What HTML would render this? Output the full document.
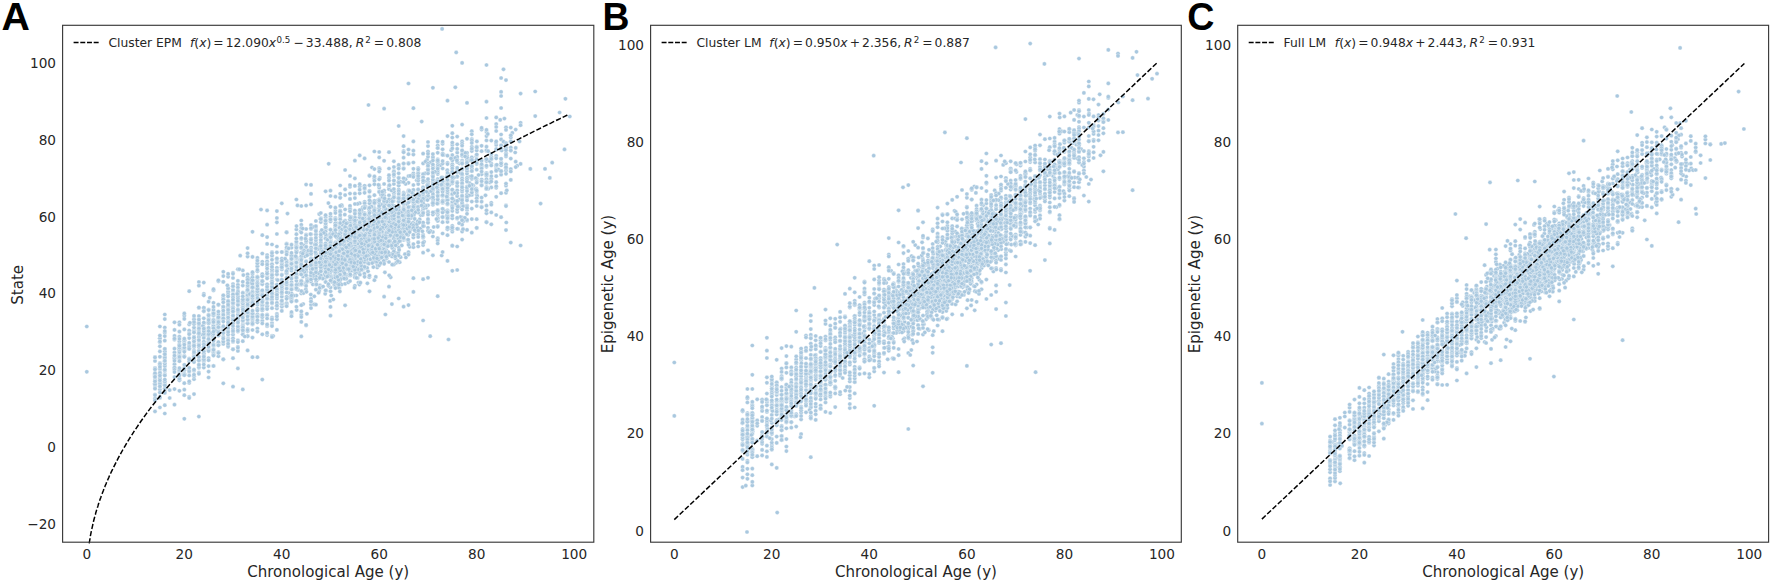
<!DOCTYPE html>
<html lang="en"><head><meta charset="utf-8"><title>Epigenetic age vs chronological age</title>
<style>
html,body{margin:0;padding:0;background:#fff}
body{width:1772px;height:583px;overflow:hidden}
svg{display:block}
.t{font-family:"DejaVu Sans","Liberation Sans",sans-serif;fill:#262626}
.tick{font-size:13.65px}
.lab{font-size:15.05px}
.leg{font-size:12.3px}
.m{word-spacing:-1.8px}
.i{font-style:oblique}
.sup{font-size:8.7px}
.pl{font-family:"Liberation Sans",Arial,Helvetica,sans-serif;font-weight:bold;font-size:39.3px;fill:#000}
.fr{fill:none;stroke:#3a3a3a;stroke-width:1.15}
.ln{fill:none;stroke:#000;stroke-width:1.5;stroke-dasharray:5.2 2.12}
.ll{fill:none;stroke:#000;stroke-width:1.45;stroke-dasharray:4.95 1.75}
.pts{fill:none;stroke:none;marker-start:url(#d);marker-mid:url(#d);marker-end:url(#d)}
</style></head><body>
<svg width="1772" height="583" viewBox="0 0 1772 583">
<defs><marker id="d" markerUnits="userSpaceOnUse" markerWidth="6" markerHeight="6" refX="3" refY="3" orient="0"><circle cx="3" cy="3" r="2.1" fill="#a9c8df" stroke="#fff" stroke-width="0.35"/></marker></defs>
<rect width="1772" height="583" fill="#fff"/>
<g id="panel-A">
<polyline class="pts" points="218.4,356.2 393.7,224 350,244.4 466.7,196.5 218.4,317.9 267.1,326.2 233,295.9 363,253.3 184.3,315.7 286.6,286.1 325.6,269.8 189.2,358.5 467,220.7 515.7,129.6 306.9,278.1 164.8,384.9 203.8,356.9 159.9,338.3 364.6,247.3 339.6,272.9 510.8,141.7 342.3,243.6 233,291 376.4,263 396.3,213.8 476.7,219.2 208.6,331.8 447.3,170.2 506,127.3 358,238.5 356.2,220.3 257.4,299.6 325.6,222.1 369.5,190.8 262.3,284.3 350,242.5 366.1,231.1 315.9,242.4 194,370.8 159.9,374 349.2,259.7 364.2,249.1 272,292.2 291.5,258.2 388.5,244.9 332.4,233.6 389,187.2 423.1,208 223.3,306.5 316.2,254.2 311,298.9 331.4,276.3 223.3,319.2 393.9,216 348.9,252.1 184.3,340.5 384.1,198.4 359.8,253.7 359.7,231 281.8,306.8 320.8,254.9 380.3,235.4 296.7,310 476.7,160.4 496.2,166.7 384.6,244.4 471.8,171.2 379.2,207.2 306.1,239.5 378.5,257.6 262.3,292.1 301.3,220.5 355,275.1 467,205.5 252.5,296.2 393.9,172.5 330.3,243.7 360.8,269.4 366.6,262.5 437.7,179.2 506,144.6 310.2,253.9 432.9,198 213.5,352.3 159.9,389.6 423.1,209.1 389,178 296.4,245.3 209.8,297.8 442.6,190.2 358.3,231.8 333.8,269.6 223.3,308.3 515.2,152.5 335.4,227.4 159.9,377.6 361.7,221.1 257.4,295 374.4,178.6 446.3,200.1 174.5,339.7 501.1,139.4 252.5,299.9 365.8,258.6 376.9,243 276.9,329.9 336.5,235.1 398.7,298.5 189.2,348.5 320.8,252.6 247.6,331.3 306.1,268.2 315.9,248.3 467,209.9 344.4,234.7 462.1,141.4 428,191 428,211.5 330.5,245.7 198.9,416.6 385.7,204.1 228.1,312 476.7,148 374.4,250.9 247.6,290.2 386.8,218.8 198.9,322 383.2,226 467.5,171.4 432.9,255.3 194,344.7 396.8,253.2 272,301.9 342.6,244.3 374.4,209 423.1,188.5 324.4,274.3 390.7,277.3 159.9,383.4 355.7,231.7 360.3,243.3 406.1,226.4 164.8,356.8 306.1,246.3 471.8,201.6 340.2,197.5 311,263.4 328,254.9 296.4,260.6 306.1,229 340.2,245.6 213.5,313 184.3,350.4 184.3,389.7 179.4,322.3 272,255.9 276.9,267.8 358.3,259.7 155,377.1 408.5,192.6 467,171.1 418.2,198.4 347.2,252 334.5,246 384.1,230.5 179.4,371.6 242.8,341.2 194,322.1 447.5,180.8 376.6,239.3 359.7,241.2 155,383.2 450.7,228.2 341.6,245.1 247.6,298.5 337.1,255.3 452.3,270.8 360.7,263.2 330.5,287.5 364.4,221.5 272,286.7 428,220.4 361.9,266.6 267.1,266.2 306.1,271.7 348.9,237.1 332.6,255.4 218.4,352.6 389,228.7 350,231.4 247.6,279.5 376.8,200.9 413.4,205.9 252.5,281.6 218.4,319 340.7,256.7 398.7,185.5 304.1,284.3 469.7,183 184.3,373.5 351.6,248.1 481.6,197.6 393.9,249.2 174.5,368.2 426,207.8 452.3,194.5 341.6,255 330.5,267.3 432.9,171.9 369.8,239.9 447.5,198.7 408.5,209.1 374.1,217.6 301.3,262.1 315.9,249.9 463.1,221.4 403.6,218 457.2,152.7 356,254.5 296.4,265.5 315.9,271.7 286.6,265.9 291.5,270.7 360.4,217.1 267.1,305.3 233,318.4 428,171.3 423.9,226.2 233,315.2 360.1,243 506,192.8 364.6,214.6 155,384 374.4,214 336.2,223 409.6,228.2 403.6,195.6 423.1,182.3 397.7,221.7 347.9,257.6 351.8,222.6 247.6,296.1 355.5,239.6 370.2,246 393.9,196.5 286.6,249.6 228.1,310.5 425.1,173.4 338.3,283.3 208.6,318.7 194,355.4 370.7,217.6 247.6,299 452.3,227.5 315.9,262.8 340.2,277.2 218.4,330 296.4,301.2 345.1,224.8 203.8,327.6 378.2,256.1 365.7,232.5 369.5,221.1 164.8,370.3 452.3,159.7 442.6,185.1 420.4,197.2 355.6,240.4 415,210.5 452.3,176.7 291.5,285.4 340.2,234.3 376.8,230.9 333.1,257 242.8,304.9 462.1,189.3 496.2,117.4 403.6,207.1 335.4,217.9 369.3,277.2 379.2,205.6 208.6,331.9 303.9,245.3 359.7,193.3 403.6,192.7 390.4,226.6 262.3,314.8 335.4,259.1 409.7,207 333.1,253.7 452.3,218.3 228.1,308.7 223.3,329.1 459.5,206.7 357.9,266.5 384.1,242.2 335.6,254.9 413.4,202.7 208.6,309.5 233,310.5 328.8,258.7 184.3,349.7 301.2,265.6 408.4,209.1 325.6,217.6 218.4,322.2 179.4,379.4 311,304.8 369.5,233.9 301.3,272.3 383.5,203.4 400.3,228.4 467,159.7 462.1,160.6 324.6,257.4 345.4,275.4 340.2,260.8 520.6,163.9 462.1,204.7 430.5,162.3 380.2,218.8 374.4,214.7 350,265.4 223.3,340.9 382.4,218.8 315.9,258.9 423.1,192.7 228.1,310.9 345.1,228.7 242.8,300.4 296.4,274 339.9,282.2 247.6,291.8 223.3,316.1 386.3,250 369.5,246.1 442.6,202.9 384.8,261.1 352.4,251 398.7,262.1 423.1,174.2 365.5,257.6 373.1,216.8 504.4,118.6 364.6,224.5 342.1,258.8 346.4,248 382.5,228.4 437.7,198.7 447.5,210.3 374.9,244.7 325.6,238.8 408.5,182.8 369.5,196.6 311,252.9 423.1,320.5 257.4,291.1 372.8,244.5 384.8,229.2 296.4,199.5 341.2,233.4 405.6,217.3 384.1,206.9 452.3,231.7 362.1,269.8 471.8,189.7 359.7,203.2 247.6,314.3 242.8,317.2 390.6,242 346.8,258.2 403.6,229.1 437.7,166 382.4,252 286.6,288.7 405,254.2 350,223.4 198.9,339.9 363.9,258 372.2,217 313.6,259.6 369.5,258.4 510.8,150.6 462.1,155.3 354.1,257.4 432.9,182.5 447.5,184.5 353.1,243.2 372.7,260.5 340.2,249.6 311,229 382.8,230.2 345.1,277.1 389,168.5 395.3,233.3 457.2,218.7 473.3,185.4 291.5,285.7 506,185.7 159.9,326.5 301.3,266.2 223.3,336.9 481.6,184.8 325.8,253.1 213.5,312.7 247.6,300.7 189.2,345.1 471.8,208.6 354.9,217.3 362.6,250.8 262.3,300.2 403.6,214.3 359.7,262.1 213.5,327.4 262.3,291.5 218.4,343.9 194,336.7 369.4,249.1 403.2,221.4 313.1,278.2 325.6,229.3 379.2,191.4 311,274.3 375.5,239.6 311,242.5 382.2,255.7 388.9,218.4 428,205.3 397.7,230.2 350.8,231.6 369.6,248.9 247.6,274.3 380.5,240.9 392.6,248.4 389,286.7 354.9,244.4 501.1,165.2 345.1,305.3 491.3,157.4 334.9,265 179.4,370.6 443.7,154.9 506,148.2 311,241.7 340.2,225.1 364.6,268.3 462.1,239.6 228.1,292.6 371.7,249.5 353.1,248.6 491.3,179 380.3,238.6 348.5,274.7 301.3,284.7 338.8,246.2 418.2,168.2 379.2,227.1 276.9,289.1 346.9,249.2 339.4,288.1 184.3,355.8 198.9,330.5 340.2,245.8 374.4,215.8 311,242.1 332.5,281.1 286.6,260.8 428,198.5 335.5,283.7 486.5,183.1 198.9,282 437.7,226.1 331.7,278.5 393.9,193.6 345.1,238.2 389,189.2 358.3,250.5 286.6,303.7 384.1,202.9 301.3,336.4 159.9,342.3 330.5,272.2 311,272.3 257.4,279.7 359.7,216.9 362.7,228.9 174.5,364.2 366.9,237 237.9,269.3 427.6,197.2 164.8,405.2 315.9,245.8 389.5,231.2 389,203.5 401,211.2 361.2,212.9 420.9,215.2 228.1,309 510.8,242.6 369.5,208 329.3,268 351.2,245.9 367.5,249.2 374.4,233.2 330.6,262.2 350,208.2 267.1,314.7 442.6,209.1 350,219.2 350.5,256.7 390.8,229.5 364.6,189.1 327.2,264.7 301.3,271.8 370.4,243.5 228.1,323.6 379.2,235.6 164.8,351.1 242.8,319.8 306.1,248.5 179.4,336.7 247.6,315 242.8,324 423.1,187.5 228.1,305.2 382.7,255.9 377.2,267.5 403.6,224.7 374.8,231.2 311,259.1 276.9,313.8 366.8,267.8 189.2,338.1 376.2,245.2 384.7,232.1 330.5,221.4 354.9,160.7 267.1,262.1 164.8,327.5 384.1,247.3 325.6,220.3 355.7,267.4 457.2,204.9 291.5,297.2 404.5,222.7 382.7,248.6 361.8,211.5 301.3,283.1 393.9,235.4 418.2,189.6 387.9,223.2 374.7,251.4 432.9,203.7 320.8,275.9 198.9,321 362.3,253.6 247.6,302 496.2,169.3 383.5,199 345.1,269.9 342.4,224.9 272,264.2 373,247 203.8,336.1 367,219.9 409.5,222.4 276.9,262.6 367.4,283.3 276.9,287.9 360.7,254.5 344.6,238.9 354.9,223.2 432.9,166.7 276.9,234 356.6,261.3 413.4,217.2 442.6,196.5 344.5,267.3 398.7,218.7 311,251.7 384.1,219 486.5,132 228.1,301.6 418.2,178.6 362.9,237.4 237.9,302.6 476.7,178.6 377.2,233.1 301.3,314.9 344.4,254.5 365.5,206.6 311,301.6 362.5,258.5 340.4,256.5 354.9,238 476.3,156.5 330.5,291.3 352.8,259.6 400.6,229.1 276.9,292.7 403.6,168.3 247.6,312.6 393.9,171.1 228.1,338.7 342.6,238.9 486.5,166.8 428,152 402.4,199.2 485.5,195.3 208.6,339.5 338.1,244.8 233,342 457.2,195.9 351.6,245.6 374.4,226 291.5,288.1 442.6,153.6 247.6,293.2 372.5,235.2 301.3,243.6 286.6,251.4 408.5,252.2 212.1,335.4 330.5,235.4 365.1,248.6 406.4,215.8 447.5,217.8 350,260.1 267.1,276.9 344.6,253.1 426.8,181.2 247.6,256.6 389.7,201 389,262 405.9,257.5 496.2,124 291.5,313.8 357.5,203.9 345.1,246.8 341,251.4 301.3,283.7 381,216.3 359.1,248.4 471.8,168.4 228.1,276.8 437.7,184.8 459.4,163.3 339.5,227.8 496.2,187.8 344,269.4 342.7,267.4 496.2,186.2 327.9,266.8 369.5,224 326.2,290.6 286.6,262.6 471.8,189.9 341.6,252.1 476.7,194.7 408.5,230.2 424,196.2 385.3,252.2 233,322.2 393.4,245.5 476.2,188.5 374,243 385.3,252.2 252.5,298.3 164.8,380.9 358.6,243.5 387.8,224.8 345.1,240.3 399,219.9 228.1,291.7 418.2,230.8 257.4,289.1 408.5,198.6 396.2,262.8 380.4,230.8 377.3,248.9 330.1,300.9 359.8,243.5 311,281.7 462.1,163.4 281.8,252 373.4,233.7 393.6,201.1 262.3,294.3 296.4,270.8 368.9,230.4 194,379.2 303,276.6 471.3,158.5 379.7,235.6 467,186.7 325.8,260.4 496.2,145 384.1,192.3 233,311.8 410.8,218.1 418.2,175.6 356.9,249.9 406.7,215.7 237.9,312.8 378.8,259.3 428,151.7 353,239.3 373.1,226.6 358.5,282.6 393.9,264.6 470.4,160.5 365.6,229.6 208.6,377.5 326.2,245.4 379.2,228.6 452.3,245.9 376.2,237.8 330.8,259.8 237.9,294.4 462.1,143.6 398.7,126 305.9,289.3 462.1,217.5 369.5,207.4 296.4,270.1 228.1,326.4 242.8,285.6 340.6,245.6 393.1,216.4 374.4,248.3 354.9,178.4 396.4,212.2 398.7,198.5 335.9,287 349.4,246.4 486.5,151 340.2,250.9 368.5,254.8 361.5,244.9 324.2,252.4 355.1,266.3 247.6,294.8 340.2,246.4 389.2,275.3 237.9,284.8 491.3,178.8 437.7,214.4 346.8,244.5 350,198.9 363.1,234.1 388.6,222.1 374.4,234.1 481.6,151.2 359.6,251.8 409.8,228.6 174.5,329.9 423.1,237.7 320.8,257.9 341.3,251 237.9,341 345.1,241.1 340.2,250.3 247.6,301.6 286.6,273.4 316.5,256.2 281.8,262.1 237.9,340.4 242.8,325.4 437.7,238.1 335.4,249.3 237.9,298.4 272,276.2 364.1,229 203.8,354 306.1,255.1 437.7,210.2 360.4,248.4 481.6,165.7 350,221.5 442.6,216.6 442.6,168.5 374.4,210.5 291.5,298.9 317.7,247.3 338,241.6 315.9,273.1 379.2,225.3 362.8,207.3 359.2,252.5 237.9,287.6 311,193.9 369.5,227.8 350,219.4 281.8,280.3 378.2,252.7 311,262.9 335.4,261.2 369.5,246.8 403.6,210.3 362.4,268.3 365.6,242.3 368.1,231.6 363.4,256.6 476.7,160.2 334.5,285.5 276.9,279.5 203.8,353.4 281.8,296.7 213.5,324.9 164.8,374.2 252.5,314.4 198.9,360.8 213.5,326.1 325.6,282 324.5,266.8 184.3,395.2 321.1,269.4 409.7,246.8 377.5,232.2 379.2,211.2 358.5,254.2 452.3,164.2 198.9,307.9 347.3,246.7 462.1,169.8 164.8,332.7 496.2,155.9 228.1,307.1 408.5,207.8 442.6,202.4 291.5,266.3 319.2,265.3 247.6,300.7 296.4,263.4 328.4,203.1 198.9,329 281.8,283.1 286.6,288.6 364.1,261.6 286.6,303.4 208.6,301.7 432.9,203.1 364.6,241 320.8,222.1 247.6,291.5 291.5,297.1 250.3,279.4 406.8,203.9 476.7,164.1 496.2,182.2 281.8,281.8 320.8,249.7 298.1,289.9 412.1,196.6 415,205.8 403.9,197.1 228.1,325.3 491.3,156.8 218.4,316.2 409,232.4 350,256.4 311,225.1 315.9,227.7 345.1,246.5 491.3,159.4 389,236.7 364.6,201.8 315.9,233.7 471.8,157.3 350.4,233.5 338,262 247.6,302.2 442.6,200.6 413.4,190.9 399.4,236.9 208.6,342.9 218.4,344.7 198.9,326.1 281.8,274.6 410.4,200 407.8,229.7 262.3,305.2 340.8,250.7 398.4,222.5 223.3,359.4 374.4,221.7 389,230.1 342.1,206 267.1,325.4 276.9,288.4 184.3,348.4 335.4,223.6 437.7,226.8 155,398.4 330.5,257 370.4,226.2 332.1,281.9 354.4,239.5 384.1,205.7 373.8,245 291.5,312 343.2,241.7 391.1,224.6 257.4,309.2 164.8,381 311,275.9 358.3,272.4 325.6,231.6 369.4,207.8 452.3,229.3 164.8,363 501.1,134.5 388.2,226.6 291.5,275.6 320.8,271.5 359.8,261.3 351.4,264.5 303.6,251 369.5,218.5 194,322.3 297.5,205.4 233,278 242.8,325.7 292.6,257.4 413.4,201.2 347.5,245.2 306.1,272 471.8,149.8 398.7,206 325.6,244.2 442.6,185.6 301.3,293.5 381.6,249.8 335.5,286.2 346.8,231 174.5,389.1 311,259.9 316,234.6 328.7,163.8 364.6,253.8 356.8,228.8 348.5,243.7 462.1,151.1 218.4,305.1 242.8,314.6 374.4,253.5 356.1,246.7 428,181.8 257.4,292.9 208.6,366.1 375.8,218.5 369,215.2 306.1,251.2 358.6,246.2 435.4,212 336.7,244.3 354.9,204 384.1,210.5 311,259.9 237.9,314.8 233,295 332.6,261.3 369.8,247.9 424.6,199.7 155,361 345.1,226.5 379.2,219.8 369.5,191.7 297.6,284.1 385.4,247.2 355.1,272.4 223.3,307 354,233 257.4,316.7 378.7,218.4 364.2,220.8 286.6,284.4 501.1,145.3 335.4,242.3 393.9,196.9 301.3,274.1 481.6,129.6 350,251.1 350,245.7 413.4,173.3 411.5,228.9 345.8,264.4 306.1,283.2 355.8,252.8 382.3,221.7 313.3,264.7 414.1,203.8 437.7,167.2 335.4,263.6 374.4,222.7 380.5,239.7 359.7,229.5 179.4,324.7 395.2,234.6 276.9,294.5 159.9,397.2 179.4,380.3 374.4,195.2 194,355.8 320.8,259.4 353.3,236.8 237.9,346.8 369.5,291.3 326.8,248.6 457.2,172.3 437.7,145.5 377.7,214.9 403.6,218.4 247.6,287 467,178.1 179.4,349.7 393.5,234.1 291.5,277.8 345.1,254.1 399.5,233.6 198.9,372.7 164.8,384.3 476.7,201.4 198.9,322.2 213.5,319.9 335.4,218.8 394.9,231.2 326,275.5 237.9,318.6 471.8,146.8 379.2,244.1 203.8,342.8 462.1,204.5 335.4,249.3 412.1,201.4 386,229.7 379,232 510.8,137.4 331.3,233.7 198.9,331 198.9,342.9 352.5,248.2 345.1,261.5 335.4,268.5 400.1,199.7 379.2,187.7 233,317.2 296.4,306.8 272,323 223.3,282 360.7,257.2 408.5,216.8 296.4,261.8 390.5,207.3 306.1,268.5 350.1,251.5 423.1,187.4 379.2,168.1 432.9,200 376.8,235.2 314.1,304.3 291.5,293.4 218.4,318.6 356.5,260.3 252.5,317.9 345.1,251.8 425.6,205.6 426.8,196.8 311,184.9 369.5,251.2 506,156.4 447.5,260.9 257.4,277.5 311.1,247.3 423.1,224.1 457.2,177 302.9,273 359.7,211 423.1,208.8 369.9,235.1 342.1,266.3 300.6,231.5 395.6,258.4 467,167.8 403.1,221.1 379.7,169.2 486.5,175.4 418.2,231.7 223.3,306.5 462.1,175.2 397.2,230.3 349.1,275.4 179.4,348.9 481.6,145.8 384.2,227.4 291.5,316.2 389,216.7 447.5,221.9 291.5,268.5 350,258.8 413.4,175.3 359.7,248.7 345.1,244.3 330.1,261.8 437.7,187.6 315.9,262.3 159.9,372.7 335.4,248.8 316.2,281.5 277.6,280.1 257.4,328.5 379.2,252.2 357.2,264.3 335.4,230.1 252.5,287.6 301.3,321.9 379.2,218.3 374.4,236.4 369.5,219.4 418.2,184.1 369.5,175.4 476.9,141.4 363.8,239.8 328.4,285.3 332,265.1 476.7,228.1 164.8,388.4 306.1,242.4 413.1,222.7 208.6,329.8 320.8,232.1 272,293.6 332.4,261.1 208.6,349.3 267.1,285.5 365.3,255.1 501.1,171.1 257.4,262.7 233,315.8 350,205.9 330.5,264.7 247.6,277.4 164.8,359 408.5,211.9 354.9,268 467,164.4 423.1,234.9 364.6,220.2 437.7,174.1 341.9,276.2 216.5,330.5 242.8,317.5 358.6,235.2 378.9,233.6 345.1,267.7 364.9,246.3 366.2,257.4 194,360.4 276.9,295.5 369.5,221.9 345.8,253.8 402.1,234.4 159.9,398 317,265.9 403.6,151 367.3,225 367.2,252.8 340.8,242.5 297,259.5 356.7,265 213.5,346.1 432.9,164.5 237.9,309.1 237.9,290.9 412,227.8 320.8,261.7 447.5,229.3 301.3,224.8 384.1,218 373.5,242.3 203.8,347.8 330.5,239.7 486.5,182.6 376.6,247.3 331.2,295.5 242.8,270.4 213.5,354.3 398.7,201.9 301.3,266.7 218.4,342.2 374.4,261.6 228.1,331.4 359.9,274.7 333.3,259.4 324.2,267.1 218.4,323.4 381.5,229.9 213.5,336.9 354.9,252.6 233,334.7 233,303.7 353.7,248.2 512.3,132.9 296.4,275.4 467,219.9 506,167.1 383.4,246.8 325.6,270.6 345.7,238.3 395.8,238.1 203.8,348 358.5,236 355.5,267.8 364.8,245.4 340.2,231.2 164.8,353.4 374.6,224.4 335.4,277.4 286.6,243.5 242.8,305.2 408.5,196.1 350.7,248 346.3,264.1 311,267.2 432.9,181.5 386.3,236 296.4,251.6 296.4,269.9 377,240.7 351.9,243.3 318.6,278.7 437.7,203.7 428,166.3 358.3,225.4 345.1,247.1 334.7,283.9 403.6,168.7 395.3,240.8 510.8,141.4 371.8,241.4 462.1,203.5 462.1,155.8 350,232.4 262.3,290.3 198.9,373.8 330.5,256.6 267.1,284.8 447.5,182.1 184.3,329.4 428,173.5 267.1,273.7 332.9,232.6 481.6,166.9 360.3,257.6 359.4,284.6 262.3,304.2 315.9,239.1 377,231.6 447.5,176 452.3,133.2 247.6,308.7 373.8,242.2 340.2,257.7 296.4,251.3 387.6,241 296.4,274.8 184.3,370.2 356.5,264.5 291.5,282.1 501.1,149.8 267.1,273.8 353.8,250.5 379.8,254.2 360.1,252.3 203.8,293.9 213.5,337.6 208.6,341.3 354.9,277.4 247.6,296.5 267.1,306.8 242.8,321.3 386,218.9 281.8,285.4 179.4,370.1 164.8,382.2 364.6,222.6 501.1,91.9 301.3,280.5 384.1,215.8 189.2,372.1 462.1,185 462.1,162 360.7,256.6 252.5,256.9 164.8,384.5 403.6,239.9 397.2,235.8 370.3,259.2 344.2,251.6 471.8,185 354.9,252.8 272,290.1 384.1,225.2 311,265.7 311,254.4 311,277.5 369.5,245.7 252.5,313.3 393.9,211.4 496.2,149.8 164.8,375.2 223.3,299.8 393.1,219.2 164.8,383.2 272,284.4 365.3,219.5 506,205.4 418.2,200.9 369.4,244.4 311,276.5 194,332 408.5,207.1 408.5,225 437.7,238.8 335.4,256.1 457.2,162 329,258.2 364.6,203.3 351.8,243.7 397.5,212.7 403.6,218.5 338.8,247.7 391.1,211.8 340.2,257.6 352.7,266.8 364.6,244.4 401.8,232.1 506.8,190.3 350,186.8 392.2,264.7 384,253.7 218.4,324 208.6,350.1 237.9,301.9 343.7,269 510.8,158.6 345.3,263.5 471.8,165.9 252.5,280.3 345.1,256.1 347.2,253.2 330.5,246.8 372.4,230.2 159.9,379.9 403.6,163.7 228.1,315.8 286.6,280.5 335.4,255.7 213.5,365.9 164.8,314.5 340.2,276.4 334.6,284.3 296.4,266.9 330.5,280.5 404.9,220.8 418.2,206.4 365.2,244.4 462.1,191.7 233,341.5 462.1,178.3 364.6,235.7 361.4,238.5 374.4,243.6 242.8,292.7 314.8,261 179.4,373.8 376.3,237.4 306.1,255.2 481.6,174.3 335.4,274.6 198.9,343.5 400.6,257.2 320.9,269.1 377.3,224.6 345.1,275.1 344.8,214.7 347.4,239.8 389,195.3 358.9,239.8 348.7,250.3 198.9,364.8 491.3,176.1 385.4,314.5 306.5,282 174.5,367.5 365.1,267.8 350,243.9 291.5,261.8 364.9,241.4 354.9,250.3 374.4,180.8 384.1,212.9 437.7,181.8 517.2,165.8 198.9,339.6 330.5,267.3 416.6,226.9 155,375.8 272,296.2 184.3,342.9 371.8,243.3 369.4,197 267.1,294.7 341.2,242.9 362.2,244.1 353.9,256.5 440.6,165.1 462.1,124.6 368.5,242.1 164.8,384.9 354.3,245.8 407.4,239.9 451.4,158.5 442.6,188 252.5,286 281.8,279.7 218.4,314.1 418.2,189.7 343.7,259.9 325.6,237 342.4,234.2 218.4,330.3 428,164.3 384.9,272.3 301.3,273.2 364.6,235.6 471.8,191.9 364.4,266.4 291.5,300.8 359.8,251 213.5,290.5 447.5,194.9 384.1,239.9 379.5,258.6 208.6,322.4 233,296.1 387,242.7 506,80.1 370.1,235.7 339.7,277.1 457.2,159.2 393.9,210.3 306.1,271.2 392.2,219.2 272,288.7 361.2,234.4 320.8,239.6 395.3,238.2 366.3,254.1 364.6,192.8 257.4,266.1 218.4,326.6 174.5,357.5 349.3,246.6 393.5,256.4 335.4,268.8 389.3,208.9 267.1,324.4 403.6,204.1 387.9,230.6 353.9,265.1 233,300.5 356.8,235.6 340.2,197.8 320.8,263 198.9,329.7 218.4,323.6 405.5,212.8 341.7,284.5 262.3,284.1 320.8,264.3 384.1,261.7 457.2,190.3 383.1,251.2 194,330.3 320.8,276.7 506,129.9 471.8,171 345.1,220.5 436.9,212.8 374.4,201.8 286.6,244.2 452.3,203 262.3,294.7 155,394.5 320.8,260 457.2,144.3 346.2,278 340.2,193.8 384.2,238.8 257.4,314.3 423.1,163.4 296.4,295.5 447.5,100.7 228.1,312.8 242.8,331.8 390.5,222.5 237.9,368.4 213.5,302.8 501.1,162.5 457.8,171.3 315.9,246.9 398.3,253 496.2,127 155,376.8 228.1,307.3 155,400.4 365.1,237.9 452.3,144.9 370.8,248.8 337,247.2 159.9,363.2 184.3,370.1 325.6,248.8 194,376.2 291.5,284.4 374.6,227.2 383.9,242.8 462.1,189.8 379.2,236.3 383.7,241.3 379.2,157.4 457.2,176.3 306.1,205.6 325.6,249 208.6,310.1 325.6,238.5 208.6,328.8 403.6,213 486.5,150.1 350,230.9 376.5,249.8 396.1,223.4 481.6,206.6 194,331.6 338.6,239.3 352.8,232.7 311,252.9 375.8,276.9 242.8,301.7 357.4,251.2 462.1,201.7 387.7,241.1 380.9,194.7 400.3,240.9 379.2,218.7 403.9,210 252.5,277.2 330.5,241.2 432.9,185.2 345.3,262.5 457.2,211.9 422.3,211.8 343.3,265.5 311,239.6 208.6,322.7 306.1,184.6 203.8,323.7 401.3,199.3 203.8,351.2 321.8,230 393.9,230.6 336.9,254.4 340.2,217.1 442.6,211.6 338.8,273 432.9,179.7 467,189.9 382.5,228.5 237.9,303.4 432.9,158 281.8,304.2 408.5,213.3 286.3,283.9 394.4,206 213.5,320.2 320.8,243.2 315.9,304.7 359.7,155.4 370.4,201.5 478.5,175 454,177.6 198.9,332.7 272,281.6 329.1,253.2 486.5,159.5 471.8,194.9 228.1,302.4 179.4,345.2 179.4,347.8 387.7,235.8 276.9,218 374.1,258.3 398.7,255.5 367.7,240.4 325.7,277.8 520.6,245.5 442.6,143.8 371.5,236.1 356.1,261.3 382.7,250.2 164.8,363.1 515.7,147.9 336.9,283.3 382.8,232 213.5,315.7 174.5,377.1 242.8,281.8 320.8,234.2 286.6,252.5 357.3,248.4 327.8,251.1 462.1,168.6 336,254.2 374.4,213.8 402.3,225.6 213.5,326 345.1,253.3 491.3,163.7 307.3,253.8 379.2,202.5 368.9,208.9 335.4,210.9 384.4,253.3 244,300 189.2,324.4 316.4,278.5 368.6,234.7 373.7,243.2 354.9,222.1 320.8,248.1 364.4,246.7 354.9,268.7 360.2,251.1 291.5,259 442.6,186.7 373.3,267.1 356.1,252 359.7,212 462.1,162.6 408.3,229.4 301.3,271.6 296.4,287.3 233,294.3 404.7,229.4 340.6,259.5 223.3,327.3 376.7,229.3 252.5,296.6 320.8,252 359.7,224.1 242.8,307.8 354.7,236.3 374.4,176.4 363.3,240.5 267.1,284.3 159.9,338.2 486.5,161.1 467,187.7 447.5,214.9 376.2,241.5 267.1,298.9 252.5,288.3 437.7,211.6 348.3,259.9 378,226.8 350,209.3 442.6,201.7 291.5,255.6 276.9,319.3 369.5,217.1 486.5,221.8 471.8,139.2 340.2,212.3 262.3,334.3 223.3,318 351.7,247.3 355.7,266.4 286.6,254.5 272,317.5 343.8,259.4 267.1,255.1 361.7,238.9 374.4,203.7 496.2,171.1 361.9,209.3 552.2,162.7 194,350.7 189.2,360.4 350,239.8 423.1,153.7 349.5,271.1 379.2,185.4 218.4,327.7 408.5,305.1 360.3,239.9 320.8,218.1 372,167.5 437.7,159.4 228.1,306 340.2,274.5 350,236.1 228.1,307.7 336.8,262.6 203.8,332.4 378,233.7 291.5,278.7 194,374.7 418.2,242.3 276.9,302.9 360.7,237.1 359.7,270.9 281.8,306.5 335.4,235.6 471.8,185.1 447.5,199.3 155,357.1 447.5,198.1 364.1,239.2 467,194.6 376.5,225.6 369.5,255 361.1,241.1 169.7,390.1 442.6,163.6 247.6,306.6 358.8,269.1 296.4,258.6 306.1,261.7 233,272.8 257.4,316 218.4,345.3 364.6,216.7 415.2,230.4 442.6,183.3 257.4,283.7 442.6,181 345.1,283.8 369.5,175.8 358.6,255.1 347.9,244.3 194,337 382.7,244.6 378,255.6 301.3,232.6 362.7,254.4 429.7,197.7 362.5,245.4 354.4,250 359.5,245.5 194,356.2 351.2,246.4 247.6,295.4 413.4,214 306,247.4 237.9,317.6 242.8,319.1 501.1,108 174.5,352.5 363.6,229 345.1,221 384.5,255.8 427,159.8 340.2,219.3 471.8,151.1 408.5,149.6 385.7,215.2 194,362.1 370.8,244.9 393.9,175.9 213.5,351.1 321.9,261.8 447.5,177.2 379.2,192 471.8,192.6 262.3,253.5 491.3,212.4 262.3,281.4 441.8,185.5 379.5,242.8 213.5,328.3 340.2,259.2 506,206.1 392.2,213.5 481.6,179.5 281.8,290.1 496.2,131 498.5,169.6 203.8,344.5 428,227.8 296.4,262.9 408.5,242 384.1,214.7 393.9,191.5 189.2,348.5 369.5,232.6 393.9,255.3 416.8,180.3 382.6,241.3 423.1,245.1 452.3,205.6 350,236.9 352.1,270.6 432.9,168.5 410.3,224.8 364.6,158.4 471.8,131.2 272,273 403.6,228.1 374.4,227.9 369,240.1 361.1,254.3 320.8,218.7 330.5,241.9 452.3,201.8 393.9,227.6 228.1,306.6 291.5,289.5 364.6,237.2 306.1,247.1 332.8,264.7 423.1,177.8 339.3,263.1 313.9,226.9 320.8,245.2 339.7,271 496,142.7 351,253.1 198.9,367.8 272,335.9 364.8,223.6 179.4,354 208.6,351.1 267.1,335.1 399.7,231.8 471.8,140.4 315.9,276.4 384.9,253.6 362.8,249.4 262.3,294.4 194,340.5 340.2,249.7 363.6,227.9 276.9,293.4 345.1,234.6 380.3,251 351,257.9 296.4,275.6 397.3,234.6 293.5,295.7 228.1,306.7 462.1,180.5 462.1,154.5 198.9,327.1 350.6,275.5 452.3,181.1 194,318.8 344.1,242.5 223.3,295.7 361.1,243.5 213.5,343.8 362.3,238.9 437.7,172.7 391.5,253.8 367.9,233.9 179.4,355.1 233,338.3 155,368.1 340.2,245 319.2,291.1 330.5,248.7 345.4,251.9 367.2,230.9 396.2,232 311,204.4 203.8,307.9 437.7,212.1 393.4,229.8 403.6,200.3 366.2,241.8 383.7,260.8 432.9,190.6 286.6,284.4 194,338.5 247.6,335.8 431.7,187.3 355,247.5 369.5,251.3 252.5,330 444,210.8 242.8,334.2 247.6,279.7 413.4,185 203.8,348.1 272,325.1 184.3,340.4 373.8,231.1 374.4,208.2 160.2,373 467,155.7 350,236.8 386,221.9 228.1,340.1 355.1,265.2 399.9,212.3 437.7,170.7 174.5,335.9 403.6,208 359.7,235.5 233,323 233,311.3 344.2,243.4 276.9,246.5 340.2,243.1 389.2,221.6 365.4,238.2 332,254.5 281.8,300.5 486.5,159 189.2,382.9 330.4,274.9 208.6,322.9 381.3,243.9 364.6,206.8 330.5,246 373.5,251.3 449.1,174.4 380.1,237.7 496.2,149 437.7,182.8 384.1,195.9 247.6,285.4 194,338.9 432.9,199.1 257.4,304.8 346.9,245.8 306.1,267 346,267.3 358.2,225.7 442.6,195.5 401.1,201.8 384.1,190.6 382.8,232.4 374.4,200.9 491.3,202.8 198.9,323.9 419.7,219.4 433.3,199.7 208.6,346.9 311,262.7 510.8,147.5 276.9,298.7 376.8,235.6 368.2,247.1 208.6,343.4 335,272.5 378.6,239.4 392.1,204.6 423.1,204.9 228.1,346.8 335.4,243.5 247.6,350.4 339.8,274.3 481.6,201.7 379.2,215.3 354.9,236.1 491.3,140.6 382.1,204.7 501.7,150.5 364.6,236.1 376.9,228.5 303.2,304.1 418.2,175.9 247.6,323.3 501.1,148.2 325.6,248.5 413.4,210.7 496.2,196.8 457.2,270 376.9,247.3 457.2,136.6 501.1,174.7 367.9,263.1 545,168.9 355.2,240.7 327.4,239.8 359.7,268 189.2,370.1 449.1,185.2 198.9,350.5 382.7,228.3 364.6,213.2 350.5,227.2 375.7,219.5 374.4,215.6 202.9,325.8 418.2,212.7 337.9,278.9 428,196.1 262.3,301.9 368.6,244.2 364.6,251.5 467,199.1 413.4,162.5 418.2,173 408.5,244.8 267.1,296.2 330.5,260.4 252.5,317 355.9,247 457.2,186.4 345.1,249.5 369,246.5 408.5,211.6 272,271 356.2,256.3 341.3,263 330.5,315.7 457.2,170 486.5,179.2 272,287.4 437.9,164.4 198.9,344 364.6,214.8 330.5,267.2 398.7,197.3 327.9,276.5 267.1,261.4 198.9,334.4 184.3,374.7 315.9,261.2 428,169.2 452.3,183.4 437.7,185 267.1,273.2 361.9,247.9 233,328.9 462.1,195.7 408.5,218.8 363.1,236.4 506,164.7 378,247.5 320.8,242.1 233,340.9 164.8,349.1 371.3,225.8 352.4,243.8 351,253.6 328.9,250.8 472.6,160.4 347.9,257 462.1,183.6 311,241.7 408.5,197.9 389,211.6 257.4,357.2 247.6,314.1 305,256.5 417.4,227.5 385.5,238.6 357.8,240.5 383.5,221.7 198.9,366.9 272,303.6 477.2,196 360.1,254.3 213.5,345 389,180.7 233,323.1 272,276.8 336.9,247.4 267.1,306.8 361.7,253.7 301.3,228 382.4,197.2 330.5,276.3 267.1,309.1 374.4,184.3 340.2,242.8 393.9,180.6 198.9,307.5 301.3,247.2 228.1,335.1 159.9,379.5 418.2,200.6 496.2,176.2 242.8,320.6 281.8,286.1 369.5,220.1 369.5,203.3 194,346.3 418.2,195.6 272,252.2 276.9,315 389,211.1 330.1,262.9 359.3,254.4 398.1,227 413.8,209.8 393.5,243 340.2,248.9 418.2,246.5 306.1,241.2 413.8,204.1 159.9,373.5 359.7,263.5 437.7,240.7 262.3,280.8 189.2,342.9 155,376.4 462.1,217.5 378.3,227.3 313.2,275.8 299.4,284.4 330.5,216.6 447.5,200.3 289.5,297.5 344.3,242.5 393.9,236.7 155,357.4 392.1,247.4 355.8,258.5 418.2,198.2 272,244.5 347.1,269 425.5,161.6 435,171.8 414.4,224 481.6,207.3 418.2,193 452.3,166.2 416.5,197.9 329,235.3 462.1,150.8 194,332.4 420.5,228.6 375.1,257.1 257.4,322.3 258.8,299.3 194,394.1 369.3,221 213.5,349.2 286.6,247.5 372.1,245.8 345.1,257.4 310.6,279.2 486.5,182.3 351.4,261.6 452.3,171.6 384.2,223.4 179.4,374.2 257.4,266.3 398.7,189.5 340,274.7 399.1,210 262.3,299.4 389.1,210.1 352.5,219.6 309.3,279.9 360.3,268.2 276.9,259.4 350,185 367.2,268 403.9,193.8 252.5,297 164.8,370.8 394.7,213.4 257.4,271.3 378,222.6 437.7,194.8 203.8,358.9 447.5,229.1 452.3,245.7 467,173.8 179.4,390.8 349.4,226.8 413.4,141.4 397.4,219.9 389.7,218.9 237.9,311.3 155,368.4 452.3,158.5 360.9,242.7 267.1,315.4 462.1,202.9 413.4,213.4 345.1,209.5 325.2,293.8 486.5,189 360.5,255.4 384.1,184 237.9,310.5 344.5,246.3 393.9,251.4 520.6,122.8 408.5,214.7 340.2,265.7 418.2,189.5 460.3,217 296.4,289.2 331.4,266.9 506,153.3 301.3,253.8 383.7,208.6 330.5,236.1 383.5,222.1 350.3,268.4 357.4,262.6 233,307.8 218.4,322.6 510.8,169.1 344.7,238.5 262.3,320.8 340.8,279.2 242.8,320.4 471.8,142.9 361.3,241.2 398.7,177.5 281.8,288.7 257.4,276.6 457.2,167.9 418.2,223.2 242.8,314.5 442.6,154.9 403.1,226.1 405.6,179.2 237.9,311 237.9,297.8 228.1,291.8 382.3,250.2 242.8,293 301.3,248.2 330.5,242.9 401.8,245.4 370.3,235.4 251,283 364.6,208 437.7,201.8 375.7,253.9 403.6,195 452.3,193.9 408.5,191.4 476.7,206 228.1,312.8 233,284.1 334.6,260.9 352.7,241.5 418.2,180.4 325.6,261.6 252.5,319.9 198.9,339.9 276.9,308.4 414.8,207.7 252.5,318 447.5,162.8 389,213.6 311,242.9 373.2,212.4 506,164.5 437.7,160.9 399.7,262.2 213.5,332.9 320.8,237 247.6,323.3 398.7,202 354.8,253 383.4,224 218.4,321 174.5,404.7 330.5,270.4 457.2,156.8 203.8,355.9 203.8,307.9 218.4,321 164.8,336.1 398.7,173.3 369.6,249.5 342.5,259.9 370.8,241.9 345.1,259 447.5,218.8 373.9,242 392.1,218.6 491.3,187.4 315.9,229.9 432.9,214.6 377.5,254.5 353.1,255.2 238.5,302.5 291.5,299 179.4,350.5 349.9,253 354.9,253.8 437.7,152.8 202.2,334.5 340.2,235.2 325.8,254.2 379.2,240.4 179.4,368.1 320.9,257.7 362.6,255 451.2,150.2 272,319.2 350.4,243.9 442.6,217.4 447.5,164.1 469.8,176.8 302.7,228.6 354.9,212.5 247.6,314.6 496.2,170.6 370.4,231 486.5,173.2 218.4,352.2 359.7,221.2 408.5,176.1 403.6,210.5 457.2,217.8 442.6,191.7 347,223.1 348.8,254.7 520.6,93.6 378,213.1 189.2,330.7 213.5,333 174.5,358.7 267.1,289.9 486.5,140.4 233,319.2 476.7,150.5 286.6,303.3 281.8,261.2 422.4,231.3 262.3,309.7 257.4,293.2 308.4,250.5 369.4,231.2 385.8,228.6 247.6,306.7 223.3,343.9 372.8,240.7 315.9,240.1 397.2,219 272,281.6 233,318.2 340.2,242.7 384.1,226.5 452.3,181.8 272,284.7 403.6,199.3 323.9,264.1 159.9,368.8 342.9,243.1 325.6,266.3 159.9,392.6 323.8,262.8 306.1,246.9 403.6,146.2 423.1,222.5 363.4,249.4 406.9,211.6 223.3,271.8 218.4,327.2 413.4,217 306.1,234.6 383.2,238.3 301.3,274.1 424.1,241.8 422.5,206.2 403.6,157.7 155,380.1 198.9,364.9 418.2,195.6 301.3,284.3 203.8,311.3 330.5,229.7 471.8,219.1 164.8,391.9 330.5,213.8 391,212.2 281.8,269.5 320.8,253.5 423.1,213 296.4,247.4 252.5,316.6 486.5,136.1 352.1,257.2 382.5,194.3 272,255.6 296.4,229.5 418.2,172.7 213.5,366 469.1,195.5 272,319.2 305.5,267.7 373,241.1 373.8,238.5 383.7,251.4 223.3,281.8 408.5,254.6 421.3,198.8 346.5,261.1 267.1,210.4 345.1,279 208.6,323.6 467,167.2 325.2,255.1 262.3,310.4 353.4,253.6 364.3,231.1 467,152.8 281.8,266.7 335.4,267.5 379.2,208.3 363.9,243.1 379.2,171.6 397.5,220 384.1,108.7 340,270.2 320.9,256.1 428,183.9 379.2,243.7 247.6,336.3 394.8,226.1 384.1,160.8 428,156.8 242.8,329.4 382.6,252.5 379.2,212.6 291.5,259.1 198.9,337 428,222.8 252.5,303.2 164.8,365.9 413.4,291.9 223.3,341.7 373.6,250.9 325.3,248.6 203.8,329.8 343.4,267.3 223.3,313 346.1,278.7 272,278.5 379.8,177.9 341,250.4 218.4,281.3 471.8,187.1 374.4,233.3 361.4,260.2 272,299.6 374.4,203.6 391.9,256.5 481.6,160.8 345.2,252 159.9,380.5 359.3,235.9 360.7,252.7 351.2,227.4 228.1,334.6 328.5,285.8 223.3,326.2 398.7,196.6 237.9,303.9 376.9,261.9 281.8,290.6 374.4,222.5 381.7,236.9 330.5,236.1 384.7,217.6 303.8,250.4 354.8,243 447.5,175.2 247.6,320.1 362.1,251.6 189.2,333.3 423.1,212.6 398.7,192.5 257.4,293.7 287.5,213.6 441.7,255.5 377.2,233.9 378.7,250.4 506,170.6 365,231.8 403.6,223.2 174.5,338.6 242.8,306.9 189.2,361.5 382.7,218.7 247.6,329 428,230.9 351,216.9 237.9,294.4 428,163.7 380.8,238.4 302.1,291.7 374.4,208.7 452.3,205.6 366,233.7 393.9,208.2 364.7,214.4 467,177.8 228.1,288.9 384.9,204.8 301.3,282.1 261,209.6 257.4,331.6 340.2,185.5 335.4,213 155,375.6 385.5,223.5 471.8,179 335.4,262.2 301.3,206 262.3,300.7 194,353.6 383.1,224.1 364.2,251.6 414.1,214.4 432.9,87.8 233,315.1 337.2,267.9 418.2,178 350.3,256.5 301.3,238.9 228.1,300.9 358,236.8 382.3,231 262.3,295.6 325.6,215.2 296.4,284.8 331.9,260.8 391.5,245.7 384.8,220.9 369.4,244.1 392.8,216.5 354.9,239.9 462.1,183.1 368.9,263.7 432.9,157 335.4,275.8 423.1,237.3 333.2,256.7 262.3,261.8 437.7,210.7 338.4,287.5 287.6,269 341.6,205.1 387.1,225.6 320,285.3 343.6,248.4 349.7,230.3 486.5,213.3 325.6,191.3 354.9,229.4 388,213.2 311,273.8 276.9,296.7 233,309.8 296.4,243 379.2,210.8 486.5,222.3 455.9,203.5 354.9,251.3 462.1,187.2 361.6,220.6 432.9,232 394.5,218.8 486.5,165.6 276.9,290.9 462.1,197.5 381.6,236.4 428,146.1 467,102.9 387.1,230.7 237.9,319.3 378.6,259.6 374.4,248.8 335.4,277.7 355.8,261.6 247.6,319.4 237.9,293.4 325.6,234.4 389,205.4 506,183.6 223.3,297.8 405,222.5 233,273.8 350.8,260.2 301.3,264.8 228.1,330.7 371.8,234.4 393.9,214.5 311,301.4 357.5,264 408.5,163.1 407.1,212.7 174.5,355.6 398.9,238.8 382.2,191.7 428,250.3 366.7,240.7 397.4,234 271.2,299 252.5,357.2 325.6,261.7 447.5,180.2 392.1,205.8 447.5,181.6 359.7,186.5 372.2,230 159.9,387 311,308.1 218.4,335.6 383.6,228.4 391.9,304.1 447.1,215.3 467,170.8 399.8,223.5 228.1,344.8 405.6,225.2 476.7,169.7 398.7,219.9 320.8,245.9 330.5,233.6 247.6,298.3 349.8,262.1 223.3,314.8 564.5,149.4 369.5,244.5 301.3,317 228.1,310.1 462.1,198.7 363.5,242.2 398.6,182.3 223.3,318.8 339.4,242.5 242.8,299.4 404.6,231.8 481.6,181.3 257.4,288.5 351.8,248.1 237.9,304.5 371.8,235.9 320.8,236.7 389.9,240.3 340.2,251.4 370.5,219.8 407.2,228.5 311,259.9 350,254.5 243.3,275.1 184.3,418.8 198.9,333.2 457.2,196 331.8,252.7 359.7,237.3 414.7,218.9 447.5,188.2 301.3,247.4 364.4,273.7 315.9,254.5 276.9,306.2 223.3,332.7 379.3,243.7 447.5,235.2 467,168.1 423.1,195.4 315.9,234.6 325.6,225.5 159.9,407.5 369.5,237.3 457.2,182.2 345.4,251.9 203.8,307.8 301.3,281.2 337.5,264.4 194,319.6 247.6,299.5 208.6,336.1 257.4,288.3 301.3,253.1 399.1,217.7 359.7,189.7 159.9,369.2 339.8,250.7 408.5,195.6 384.1,296.7 286.6,271.2 174.5,322.3 184.3,373.9 432.9,196.1 481.6,168.5 203.8,359 501.1,171.2 203.8,338 365.6,222.2 340.2,259.2 184.3,340.2 320.8,286.9 361.1,226.1 276.9,289.4 228.1,303.2 164.8,361.4 320.6,275.3 350,246.6 353.4,269.1 377.7,265.4 247.6,308.5 247.6,305.8 452.3,210.9 358.1,269.3 462.1,231.6 374.4,280.2 336.5,243.1 393.9,235.9 179.4,331.7 418.2,234.7 462.1,145.7 239.3,269.3 233,289.8 398.7,230.5 389,232.3 364.6,214.4 374.4,169.1 369.7,236.6 407.7,215.2 333.8,234.7 325.6,260.5 350,193.6 179.4,351 342.1,229.3 159.9,351.4 333.5,262.1 340.6,249.4 398.7,219.7 384.3,238.7 364.6,220.1 228.1,327.9 286.6,264.8 409.3,226.8 369.5,233.7 367.1,233 242.8,303.4 325.7,268.8 432.9,204.8 317.5,249.2 184.3,364.8 359.7,217.3 203.8,341.8 330.5,251.6 389,231 213.5,322.6 351.7,250.6 198.9,327.7 364.1,261.9 467,168.7 437.7,199.6 252.5,324.4 198.9,319 272,259.8 311,258.3 267.1,237.1 276.9,270.2 467,179.7 383.1,219.6 372.5,231.9 316.1,266.7 322.4,266 301.3,258.7 404.1,238.6 530.3,168.9 262.3,264.2 447.5,188.7 374.4,232.8 194,345.7 208.6,334.9 369.5,211.3 342.1,243.8 501.1,96 348.2,282.4 311.6,267 475.7,178.2 359.2,248.6 372,249.3 380.2,252.9 350,211.3 353.6,229.5 345.1,237.9 336.3,264.7 403.6,178.3 374.4,228.2 427.5,200.1 252.5,291.3 262.3,379.6 362.2,252.6 481.6,164.2 184.3,383.2 403.6,221.4 365.2,234 311,259.9 488.3,188.7 423.1,236.3 359.7,184.2 396.1,235.8 374.5,216.3 389.9,241 228.1,313.5 208.6,322.2 262.3,306 383,248.6 486.5,175.7 347.1,236.2 281.8,263.4 306.1,325.4 164.8,358 389,199.3 155,374.3 384.6,234.6 335.4,271.9 348.3,246.4 228.1,273.9 242.8,328.4 296.4,278.3 432.9,190.1 471.8,177.9 338.8,256.1 233,332.1 411.4,224 491.3,172.1 379.2,230.1 272,269.3 457.2,209.4 325.6,223.6 262.3,275.5 380.7,245.2 403.6,163.5 325.6,271.8 286.6,304.9 307.1,280 452.3,125.8 423.1,200.7 413.4,207.8 242.8,301.4 467,181.7 257.4,263.3 198.9,340.9 347.1,223.1 233,349.2 355,240.4 267.1,257.4 481.6,185.4 408.5,211.4 281.8,275.1 296.4,273.8 323.9,232.9 296.4,241.6 385.9,209.5 237.9,291.9 340.2,243.2 428,142 348.9,236.9 218.4,280.3 384.1,223.8 311,275.2 189.2,347.1 398.7,212.7 399.1,235.3 155,385.8 249.8,294 208.6,358.1 330.5,196 371,236.2 233,307.3 503.5,141.7 325.6,290.4 368,255.3 350,217.9 350.1,242.8 340.5,261.9 174.5,360.8 237.9,329.1 387.3,254.9 179.4,378.6 349.4,253.6 286.6,273.7 330.5,245.5 333.2,248.6 467,191.1 415.6,231.3 408.5,221.7 398.7,226.1 452.3,190.3 194,341.6 342.2,256.7 272,267 356.1,257.5 343.3,271.3 218.4,335.2 510.8,127.6 228.1,288.2 213.5,321.9 410.2,175.9 267.1,263.6 164.8,369.6 413.4,225.4 442.6,212.5 194,327.6 369.5,223.6 423.1,190.3 340.2,210.5 398.7,166.2 252.5,322.5 354.9,245.5 189.2,291.2 311,234.3 367.8,247.7 354.3,248.3 452.3,215.6 247.6,290.8 369.5,250.1 354.9,227.1 369.5,275.6 357.6,278 437.7,168.7 242.8,312.9 392.9,231.7 257.4,316.7 447.5,192.4 359.7,211.6 372.1,238.1 228.1,334.4 321.4,287.5 364.6,240.8 452.3,181.4 397.4,209.2 361.1,264.6 324.9,258.9 233,315.9 335.4,223.2 262.3,308.2 325.6,227.5 336.1,252.5 428,222.6 272,274.3 423.1,203.3 423.1,198.6 252.5,337.6 486.5,181.7 301.3,256.3 393.7,238.5 386.8,218.7 471.8,176.1 159.9,335.6 315.9,262.5 330.5,234.2 330.5,237.6 486.5,205.7 359.7,229.5 301.3,252.6 373.9,255.6 384.1,223.9 247.6,253.3 447.5,227.5 179.4,341.5 491.3,204.7 179.4,356.2 252.9,301.9 351.3,228.1 510.8,135.3 378.8,246.6 281.8,288.4 291.5,285 223.3,330.8 296.4,250.2 208.6,334.8 267.1,243.9 337.3,260.2 252.5,274 218.4,317.3 189.2,375.5 501.1,193.2 252.5,283.7 198.9,352.2 386.6,258.2 291.5,247.7 267.1,288.8 213.5,349.8 357.8,261.6 384.7,243.2 179.4,352.1 359.2,242.9 432.9,183.8 397.2,243.8 374.4,223.1 286.6,272.8 159.9,372.9 184.3,374.2 233,315.7 408.3,199 381.2,234.1 452.3,160.3 432.9,175.2 179.4,349.3 462.1,195.9 379.2,244.9 447.5,155.7 198.9,334.2 320.8,269.4 393.9,161.3 447.5,136.1 315.9,259 311,268.2 393.9,196.7 252.5,302.5 383.2,235.2 349.7,248.5 315,269.3 392.9,254.5 340.2,240.5 422.7,215 442.6,217.1 383.1,238.4 306.1,269.6 198.9,328.6 398.7,185.6 312.9,284.5 276.9,258.3 423.1,242.8 374.4,221.8 233,330.9 316.1,264.4 476.7,163 213.5,309.9 306.1,275.3 155,369.5 370.9,237.1 442.6,222.2 467,207.9 380.5,221.6 359.7,214.7 345.1,236.4 228.1,332.1 432.9,176.8 281.8,268 296.5,226.1 164.8,356.8 213.5,355.6 374.2,235.1 408.5,163.7 233,297.8 252.5,292.6 496.2,165.1 437.2,180.9 194,369.7 303.6,293.1 384.1,225.8 379.2,224 228.1,319.9 432.9,202.2 223.3,276.1 394.9,213.1 334.6,282.2 291.5,264.4 506,143.2 159.9,368.6 393.9,236.3 228.1,301.3 296.4,257.8 233,324.5 398.9,221.3 389,152.2 371.5,252.5 471.8,184.8 447.5,186.3 267.1,288.1 372.9,242.5 397.9,226.7 233,286.2 159.9,378.4 257.4,308.8 392.1,199.4 159.9,364.7 442.6,188.4 340.2,234.6 413.4,208.7 418,207 382.4,211.5 203.8,347.6 379.2,199.7 340.4,269.2 423.1,206.3 377.6,219.4 203.8,322.5 159.9,341.5 403.6,152.3 357.9,243.5 383.5,250.4 489.9,182.4 379.2,199.6 421.7,121.6 276.9,284.6 418.2,173.8 267.1,271.8 371.8,244.6 198.9,324.3 384.1,223.3 427.5,184.5 418.2,193.5 303.2,252.1 272,299 350,281.1 198.9,356.9 335.4,207.7 437.7,148.2 363.2,255 262.3,302 373.7,237.8 390.6,207.4 486.5,118 370.5,232.2 428,277.8 374.4,151.5 247.6,330.1 386.7,217.8 346.1,264.4 342.9,244.6 413.4,235.8 343.3,268 476.7,181.1 393.9,218.6 320.8,240 272,293.7 350,226.6 345.1,258.5 423.1,189.7 296.4,262.5 462.1,163.6 374.4,222.5 355.2,252.9 350,250.7 350,261.1 174.5,369.8 389,175.2 384.1,221.6 194,324.1 334,261.9 272,275.3 276.9,222.3 350,259.5 394.7,227.9 418.2,176 452.3,198.6 233,304 471.8,160.1 198.9,352.3 336.6,237.4 476.7,146.6 208.6,314.7 184.3,356.6 476.7,191.8 252.5,302.5 510.8,179.9 361.5,269.4 413.4,176.9 476.7,182.7 288.4,292.8 374.4,231.7 371.2,248.9 408.5,190.4 364.6,246.3 272,281.6 380.3,243.2 377.2,227.3 386.7,246.7 368,250.3 437.7,243.5 393.9,220.4 325.6,275.9 535.2,116.1 385.7,209.8 398.9,219.2 393.9,232 455.2,157.9 179.4,358.7 296.4,250.9 467,229.9 286.6,232.2 432.9,212.3 203.8,295.3 276.9,292.6 559.6,112.5 335.4,230.2 213.5,334 301.3,266.2 228.1,340.6 462.1,224.7 398.7,210.2 457.7,206.6 360.5,255.3 335.4,219.6 233,358.2 267.1,291.6 311,269.5 471.8,189.1 350,231.6 359.6,257.2 272,266.9 233,323.1 366.6,259.2 408.2,239.6 203.8,343.9 281.8,266.7 301.3,291.1 349.9,216.5 233,320.3 315.9,253.7 340.2,223 312.7,267.7 347,262 351.1,265.5 286.6,282.5 281.8,304.3 379.2,254.8 389,255.1 328.1,257.2 423.1,213.1 428,186.7 371.4,206.7 327.1,262.5 203.8,318.3 335.4,227.2 392.3,229.6 291.5,301.6 276.9,274.4 184.3,351.8 389,226.8 237.9,296.8 506.3,222.5 476.7,147.3 301.3,284 286.6,296.8 360.4,224.4 315.9,279.3 306.5,291.8 184.3,313.4 398.7,181.4 208.6,334.2 354.1,242.3 242.8,316.9 223.3,306.9 318.3,273.1 350.3,274.4 322.8,278.7 403.6,208.6 354.9,238.2 291.5,257 155,383.2 452.3,180 347.9,232.7 369.5,236.1 363.7,229.8 314.3,296.3 365.3,252.1 374.1,242.2 447.5,190.4 413.4,194.6 361.4,238.6 242.8,326.8 359.9,240.7 237.9,350.9 315.9,244.9 315.9,257.3 432.9,186.9 335.4,233 442.6,149.3 398.7,238.8 291.5,263.5 311,249.6 349.8,259.1 381.6,252.2 262.3,323.4 164.8,380.9 307.3,281.1 355.5,267.5 267.1,257.1 237.9,317 311,239.3 164.8,356.9 379.2,152 329.4,276.1 319.2,214.1 164.8,331 452.3,137.6 452.3,155 428,192.5 368,242.1 159.9,382.6 350,219.6 361,233.5 398.3,216.9 368.2,238.8 432.9,154.1 327.9,248.3 340.3,236.1 381.4,230.7 179.4,347.5 237.9,328 198.9,285.7 380.3,245.8 364.6,259.4 363.4,243.9 174.5,348.7 379.2,265.3 398.7,191.1 384.1,201.8 354.8,258.2 354.5,270.1 276.9,274.3 302.7,253.6 336.4,247.1 340.2,223 501.1,162.6 355.6,239.4 311,228.2 339.9,291.4 301.3,267.3 189.2,348.9 252.5,295.7 213.5,339.2 397.9,261.1 374.4,202.8 164.8,375.4 452.3,168.4 247.6,289.9 286.6,292.5 315.9,265.6 442.6,195.4 301.3,274.5 327.9,262.5 335.4,226.1 374.3,235.6 452.3,206.6 361.2,259.1 247.6,313.1 247.6,304.5 286.6,271 353.8,259.5 237.9,326.3 233,302.3 354.9,233.8 267.1,318.5 286.6,306.2 350.5,225.5 233,323.6 442.6,141.8 389,236.2 301.3,258.9 344.7,273.3 447.5,172.8 336.1,252.4 198.9,351 330.1,247.5 338.2,271.1 237.9,342.1 252.5,280.3 325.6,265.2 208.6,360.2 164.8,413.5 452.3,189.6 272,277.4 379.2,252.5 428,212.8 281.8,293.6 164.8,357.8 296.4,234.2 315.9,230.4 383.2,222.4 476.7,154.8 404.2,218.3 413.4,278.2 379.2,179.3 315.9,230.1 392.9,225 447.5,183.5 281.8,265.2 363.3,251.2 476.7,198.3 413.4,201.5 360.8,234.6 363.7,252.5 392.5,218.8 345.1,246.9 506,145 218.4,335.5 360.3,246.8 403.6,220.3 398.7,199.9 384.1,263.8 387.9,230.1 228.1,309.3 459.4,199.7 364.6,222 223.3,383.3 344.6,232.3 457.2,185.8 237.9,323.1 276.9,294.3 203.8,346.9 389,212.2 340.2,232.8 247.6,282.9 389.9,231.5 393.9,171.7 437.7,190.1 341.7,262.7 355.5,259.1 267.1,289.8 325.7,282 506,173.8 355.5,234.7 409.5,190.8 208.6,315.4 314.8,244.7 349.7,229.3 350,233.7 457.2,148.9 262.3,235.2 369.5,213 385.8,245 489.7,161 398.7,207.1 267.1,303 408.1,234.9 367.3,243.5 475.8,189.3 184.3,356.8 164.8,365.9 510.8,150.4 184.3,347.4 371.1,231 383.1,236.1 328.4,284.1 335.4,259.7 330.5,258.6 393.9,208.8 322.5,251.4 208.6,338.9 486.5,173.2 447.5,216.5 327.2,273.3 301.3,305.2 306.1,240.8 447.5,188 267.1,224.7 486.5,129.9 281.8,303.5 458,228.9 237.2,293.9 467,200.5 198.9,347 312.4,268.7 311,258.9 369.7,252.1 364.6,186.4 272,275.1 223.3,299.4 345.7,231.7 315.9,244.7 247.6,299.8 385.8,235.7 320.8,219.2 321.7,256.4 164.8,340.7 304.6,272 301.3,262 389,209.8 374.4,212.4 359.2,228.5 319.6,287.9 328.5,269.6 267.1,278.4 369.5,238.3 218.4,324.3 233,386.7 350,199 198.9,316 401.9,224.3 437.7,181.6 281.8,286.7 267.1,298.2 189.2,334.2 164.8,351.4 247.6,248.1 393.9,210.7 354.9,224.5 391.5,190.5 252.5,272.2 325.6,256.5 510.8,171.5 301.3,238 377.9,235.7 384.1,209.4 159.9,383.9 374.5,234.7 403.6,236.2 423.1,279.2 242.8,329.3 179.4,375.4 354,264.7 372.1,246.6 357.9,251.2 375.8,251.2 354.4,257 421.5,205.4 198.9,356.9 169.7,398 262.3,274.2 354.9,221.4 338.9,284.7 159.9,380.4 349.1,244.5 242.8,317.6 400.5,181.9 348.2,240.5 334.1,271.1 179.4,356.9 379.7,228.3 344.5,254 237.9,320.4 351.2,257.8 352.7,254.4 442.6,195.2 387.5,244.4 430.2,336.2 398.7,224 354.9,185.9 328.2,253.2 155,384.3 194,359.1 386.7,232.5 315.9,262.9 257.4,257.9 315.9,269.3 388.3,252.2 398.7,178.1 406.8,234.2 364.6,223.9 384.4,209.5 281.8,258.6 413.4,201.8 365,234.5 252.5,298.1 348.7,253.9 354.9,258.6 379.2,246.4 194,352.1 463.1,206.2 465.3,152.9 436.9,187.4 379.2,225.6 394.8,231.1 476.7,190.4 203.8,361.5 437.7,141.7 179.4,361.2 462.1,62.9 385.9,226.9 213.5,340.8 228.1,294.7 506,155 375.6,248.7 302.9,270.2 361.4,239.3 380.9,257.8 318.6,292.7 372.4,226 386.3,214.4 345.7,262 155,373.2 252.5,303.8 385,242.7 364.6,241.4 378.2,215.3 459.1,223.2 361.3,265.8 486.5,188.9 437.7,162.1 349,251.5 223.3,295.3 352.3,265.6 179.4,338.9 315.9,270.3 340.2,233.3 371.7,250.7 462.1,220.2 372.3,254.1 476.7,201.2 386.7,201.6 496.2,158.3 237.9,318.5 325.6,247.8 155,381.3 320.7,267.2 487.8,134 359.7,254.2 323.1,286.5 194,337.4 179.4,347.7 306.8,266.4 198.9,340.1 218.4,311.6 155,388 381.9,231.8 296.4,300.8 442.6,161.1 467,157.4 457.2,201.2 272,308.2 345.1,234.6 335.4,196.7 354.9,285.8 369.5,235.9 361.8,258.6 311,260.9 369.5,207.9 366.2,237.6 397.6,243 430.5,231 252.5,294.6 417.7,221.4 385.9,245.2 198.9,344.9 452.3,148.4 242.8,311.4 350.9,251.3 432.9,236.5 174.5,372.1 288.6,248.4 218.4,353 437.2,203.6 233,303 457.2,246.5 228.1,313.6 402,212.2 281.8,203.3 342.4,259.1 355.3,242.1 194,357.6 358.8,229.3 338.8,234.4 447.5,176.4 179.4,344.7 267.1,264.6 330.5,219.1 403.6,237 155,395.1 471.8,232.7 389,241.2 276.9,211.1 467,161.9 501.1,159 453.8,200.1 395.2,256.4 354.9,242.5 257.4,277.2 413.4,154.6 237.9,347.7 476.7,227.8 373.6,224.9 237.9,280.9 155,377.4 247.6,310.9 452.3,198.4 315.3,252.1 418.2,242.4 403.6,216.2 281.8,284.3 340.2,270.5 364.6,249.1 442.6,188.9 415.6,212.1 418.2,199.8 365.6,239.7 335.4,288.1 362.7,248.6 306.1,285.9 398.7,164.9 403.6,225 369.4,230.3 486.5,182.3 491.3,181.5 198.9,323.3 413.4,199.6 237.9,321.8 398.7,247.7 395.7,245.4 486.5,101.7 413.4,247.2 368.6,238.2 501.1,78 358.4,235.2 203.8,333.9 378.2,232 428,169.8 433.7,227 272,286.6 338.5,279.9 447.1,211.3 384.1,207.6 399.1,249.9 330.5,206.8 437.7,296.2 432.9,160.6 451,158.4 382.5,237.2 281.8,300.9 491.3,165.5 364.6,185.8 452.3,225.9 348.7,269.2 262.3,317.1 346.3,228.2 286.6,277.8 351,233.2 486.5,146.7 296.4,246.9 331.3,235.2 267.1,289.7 337.3,276.8 398.6,221.1 403.6,238.7 330.5,229.8 364.6,237.8 418.2,199.3 359.7,235 350.9,235.3 413.4,150.7 228.1,346.1 496.2,215 194,322.1 164.8,381.6 365.6,234 437.7,192.2 247.6,312.5 319.8,277.9 359.7,224.4 328.1,275.6 353,260.9 252.5,295.7 325.6,272 267.1,268.5 208.6,335 359.5,251.4 223.3,318.3 347.5,256.4 281.8,292.2 223.3,338.5 344,253 351.6,253.6 281.8,252.1 374.4,228.3 291.5,297.1 371,252.8 384.1,224.5 296.4,252.6 393.9,223.4 428,195.4 164.8,388.7 391.4,224.6 418.2,202 159.9,375.6 349.4,257.9 388.1,229.6 233,299.8 213.5,315.1 393.9,218.5 432.9,193.9 257.4,310.6 330.5,306.9 378.3,245.9 486.5,187.1 203.8,367.6 315.9,248.8 194,356.9 359.7,253 452.3,172 362.2,235.1 237.9,331.6 413.4,206.8 382.4,227.5 345.1,245.9 488.1,151.2 393.9,173.9 376.4,256.1 179.4,345.8 333,234.1 408.5,154.2 335.6,245.9 351.1,259.5 428,192.9 367.2,239.2 354.6,251.6 463,229.2 285.1,258.7 159.9,346.3 417,224.2 442.6,177.5 351,262.9 228.1,343.7 403.6,237.1 401.9,234.7 357.7,254.4 346,264.3 159.9,386.3 340.2,211.6 432.9,185.1 359.7,213.2 306.1,325 325.6,243.4 405.6,184 393.9,184 403.6,306.7 218.4,322.1 218.4,327.2 408.5,213.9 242.8,334.6 240.2,255.7 393.9,197.4 368,271.3 379.7,232.8 519.5,141.4 394.7,241.4 272,253 345.1,235.1 325.4,245.4 311,265.2 306.1,235.5 419.5,222.3 467,162.7 223.3,330.9 242.8,307.8 393.9,208 390.4,235.9 486.5,174.3 164.8,379.5 441.5,177.6 184.3,375.2 305.5,238.7 403.6,215.6 372.5,254.3 223.3,359.3 325.7,261.2 506,168.5 296.4,257.1 307.1,255.3 467,138.8 272,302.8 349.1,261.6 389,185.6 382.6,214.5 203.8,344.6 198.9,345.4 340.2,205.9 242.8,300.7 345.1,234 352.8,249.4 447.5,212.2 233,286.2 389,213 423.1,193.8 320.8,264.6 391.1,226.5 330.5,237.2 337.8,236.7 486.5,159.3 385.7,209 428,214.7 355.6,256.9 462.1,209.5 437.7,220.4 159.9,397 313.4,273.9 228.1,296.4 442.6,208.8 354.9,241 340.2,215 315.9,231.1 393.9,180.6 257.4,289.8 351.3,246 203.8,311.1 242.8,299.3 393.9,189 354.9,222 335.9,258.2 379.8,215 281.8,260.7 371.1,253.3 372.6,239 341.3,248.9 374.7,241.5 296.4,280.8 198.9,360.3 295.7,256.2 423.1,252.7 377.7,225.3 380.8,250.8 374.4,253.9 325.6,227.3 413.4,237.5 311,272.7 506,230.1 306.9,313.8 354.4,250.9 354.9,210.6 342.4,263.3 398.7,182.6 359.9,222.1 189.2,371.1 208.6,320.1 393.9,167 349.1,245.4 369.5,232.6 315.9,289.7 272,297 242.8,296.3 257.4,295.2 393.9,174.6 501.1,217.2 314.2,268.4 373.7,257.9 244.8,336.5 369.5,200.3 465.1,156.4 369.5,185.3 364.6,266.9 437.7,162 431,191.1 413.4,189.9 210.2,333 399.4,241.2 374.2,221.6 354.9,193.7 354.6,233.5 398.7,198.2 447.5,204.4 281.8,310.9 384.1,206.7 457.2,183 428,219.1 506,150.2 419.3,195.4 327.3,259.2 291.5,263.8 447.5,184.3 326.5,259.2 342.5,249.2 330.5,190.7 198.9,331.9 218.4,332.6 242.8,327.6 267.1,298.4 335.4,236.1 208.6,334.1 262.3,317.1 337.4,244.1 320.8,234.7 357.6,237.3 374.4,209.6 164.8,363.6 379.2,200.6 350,259.8 423.1,177.3 418.2,199.2 388.1,229.2 379.2,241.3 447.5,179.8 398.7,194 378.5,184.9 428,179.1 361.4,261 203.8,364.5 350,245.8 237.9,320.9 398.7,213.4 404,210.6 457.2,193.1 379.2,241.2 392.1,215.9 338.3,259.2 491.3,158.8 257.4,297.8 442.6,233.5 398.7,224.8 446.8,196.6 276.9,305.6 370.7,230.1 351.1,262.2 462.1,163.4 333.3,299.5 184.3,344.6 343.5,253.6 457.2,228.8 237.9,305 395.2,232.4 380.6,263.1 345.1,170 252.5,301.9 330.5,245.9 345.1,253.7 442.6,252 364.1,243.8 400.6,233.4 262.3,309.1 252.5,323.8 354.9,198.1 237.9,298.9 273.2,336.1 515.7,161.7 344.7,228.5 373.4,229.7 393.9,215.6 223.3,321.6 296.4,277.6 164.8,392.9 164.8,319.1 413.4,227.9 368.7,239.2 330.5,254.1 372.2,263.1 403.6,136.1 427.4,185.7 354.5,287.7 315.9,267.9 347.4,255.9 359.7,222.5 262.3,281.2 208.6,371.6 462.1,187.2 257.4,302.9 400.6,237.1 426.3,191.8 408.5,198.3 354.9,213.8 377.2,223.9 496.2,141.4 432.9,203.2 311,253.5 320.8,271.3 491.3,224.3 476.7,154.5 315.9,284.6 194,345.2 437.7,220.9 198.9,357 384.1,249.4 359.5,251.7 296.4,238.5 442.6,181.3 336.9,263 379.2,233.2 242.8,330.3 335.4,225.3 350.3,243.4 368.1,228.3 364.2,221.3 380.4,252.1 267.1,298.7 411.6,215.7 351.3,233.5 228.1,312.1 184.3,368.2 515.7,167.1 486.5,210.3 296.4,288.1 471.8,166.2 381.7,257.4 360.7,259 395.6,235.1 343.9,222 237.9,322.5 164.8,354.2 452.3,227.6 252.5,302.9 452.3,182 362.8,218.5 389.7,211.1 252.5,305.3 357.1,228.6 379.2,217.6 291.5,255.6 364.6,235.3 203.8,331 437.7,218.2 223.3,310.6 267.1,333.5 398.7,201.4 382.6,240.8 360.4,282.7 267.1,332.9 471.8,148.7 194,358.1 408.5,202.6 452.3,177.3 437.7,148 346.2,223.6 218.4,327.2 257.4,320.2 437.7,218.2 379.1,234.8 257.4,289.2 520.6,125.2 423.1,180.6 408.5,215.6 491.3,154 218.4,304.5 208.6,327.8 310.8,294.6 325.6,220.8 418.2,209.9 380.9,240.4 257.4,282.4 379.2,247.3 164.8,348.9 276.9,316.4 326.6,261.3 467,196.7 403.6,198.4 462.1,150.4 379.2,206 345.1,195.1 469.4,185.8 506,167.2 413.4,168.8 198.9,333.2 389.2,210.6 366.5,241.6 332.7,249.3 398.7,226.8 189.2,396.9 364.6,257.6 437.7,160.4 311,238.5 364.6,276.8 388.8,229.2 350,238.9 349.1,238.2 418.2,169.5 423.1,226.1 393.9,223.7 237.9,300.9 391.9,212.2 369.5,219.1 223.3,302.3 389.5,185.2 369.1,218.8 281.8,282.8 370.4,230.6 390.4,235.2 339.2,251.1 340.2,244.3 301.3,264.3 454.5,193 369.5,245.1 330.5,219.5 227.4,285.3 423.1,194.1 378.8,222.1 351.3,234.9 276.9,294.8 392.4,201.5 471.8,159.9 247.6,309.4 247.6,316.5 286.6,298.8 388.1,231.9 312.3,268.9 411.9,192.6 291.5,244.7 392.2,231.9 228.1,322.3 198.9,340.1 315.9,264.6 423.1,192.6 462.1,200.1 233,308.9 194,315.9 500.2,119.9 501.1,163.5 233,311.4 159.9,397.5 351.6,235.8 257.4,269.9 267.1,286.8 203.8,360.2 437.7,196 291.5,295.5 467,206.4 281.8,301.7 311,239.7 233,349.3 164.8,361.2 414.6,230.2 257.4,283.9 390.2,210.6 496.8,164.8 363.6,251.9 358.1,256 377,258.4 354.9,269.9 354.9,237.2 257.4,291.3 262.3,315.1 360.4,262.8 198.9,319.6 335.4,272 327.3,276.6 356.4,277.8 189.9,322.8 429.2,232.2 223.3,333.1 364.6,188.1 374.4,210.5 301.3,311.4 387.9,246.2 385.6,251.2 432.9,197.3 432.9,172.7 381.9,252.6 432.9,188.8 159.9,365.6 345.1,227.1 359.7,210.1 252.5,313.4 276.9,252.3 369,240.1 402.6,203.1 213.5,289.2 361.9,247.4 346.1,264.9 291.5,289.4 403.6,237.9 184.3,318.9 457.2,200.9 481.6,171.6 340.2,238.6 364,244.3 381.9,212.8 344.9,259.9 345.8,230.8 374.4,228.1 155,411.4 382.3,221.6 386.4,256.8 213.5,306.9 367,229.4 372.7,252.5 338.3,255.5 311,279.5 384.1,244.4 316.5,284.4 418.3,230.6 272,326.1 397.1,235.3 360.8,242 421.3,201 501.1,158.8 252.5,296 257.4,288.9 184.3,338.7 359.7,235.4 155,376.8 228.1,309.9 272,337 286.6,265.6 319.4,262.3 267.1,273.6 464.9,217.8 368.4,245.6 345.1,189.4 189.2,398 252.5,287.3 350,176 286.6,232.4 291.5,252.9 336.5,244.7 354.9,220.5 315.9,221 398.7,221.6 335.7,269.8 272,283.2 413.4,234.8 164.8,385.3 208.6,331 228.1,317.5 345.7,231 203.8,359.2 350.5,217.7 361.7,243.6 315.9,237.8 471.8,134.3 262.3,276.3 374.4,215.2 409.7,232.1 335.4,247 228.1,304.8 347.7,251.9 291.5,258.9 379.2,236.2 447.5,218 354.1,248.8 384.1,201 400.2,232.2 194,347 233,326 398.7,197.5 385.2,217.3 242.8,309.4 428,165.7 456.9,160.4 380.2,229.2 335.4,230 441.5,184.6 460.9,173.4 452.3,208.1 159.9,356.8 213.5,331.6 398.7,198.3 447.5,176.8 354.9,255.3 164.8,360.8 353.3,266.6 189.2,367.9 467,213.8 344.1,278.5 348.8,245 306.1,275.3 354.5,262.9 360.7,227.8 155,388.7 311,251 378.1,238 315.9,248.3 396.4,209.3 301.3,260 452.3,142.6 320.8,219 320.8,258.5 320.8,213 276.9,271.2 447.5,203.5 315.9,226.1 159.9,364 242.8,389.4 374.2,238.9 356.1,227.1 343.7,253.3 315.9,272.3 329.5,264.9 203.8,346.9 203.8,282.6 343.9,241.1 481.6,127.9 257.4,260.6 189.2,359.3 462.1,220.2 339.1,268.1 476.7,159.3 486.5,188.4 403.6,182.1 389.1,230.5 310.4,234.1 418.2,237 366.1,256 325.7,252.6 389,205.5 355.5,250.4 395.8,224.8 409.3,190.9 462.1,173.9 363.2,249.5 413.4,108.2 257.4,285.9 402.5,215.5 452.3,198.5 368.8,226.4 346.3,247.3 252.5,231.8 296.4,247.7 281.8,267.2 377.4,227.1 335.4,264.5 385.2,252.2 159.9,366.9 436.5,219.1 385.8,238.1 237.9,330.6 203.8,356.7 398.7,168.6 281.8,300.7 403.8,209.5 411.8,210.3 377.5,244.7 189.2,381.3 325.6,262.7 413.4,244.1 467,207.9 252.5,310.7 379.2,248.7 428,153.8 194,356.8 203.8,328.6 237.9,309.8 213.5,313.5 363.7,252.8 384.6,198.4 194,345.7 306.1,261.4 315.9,262.8 417.1,201.6 325.4,261.7 86.8,326.5 86.8,371.8 448.5,339.5 442.1,28.9 456.2,52.4 486.5,65 503.5,69.3 408.5,83.5 368.5,105 455.3,87.3 535.2,91.5 565.4,98.8 569.8,116.5 540.6,203.6 549.8,177.9"/>
<path class="ln" d="M89.2 543.4 L89.6 541 L90 538.6 L90.3 536.4 L90.7 534.3 L91.1 532.3 L91.5 530.4 L91.9 528.6 L92.3 526.8 L92.7 525.1 L93 523.5 L93.4 521.9 L93.8 520.3 L94.2 518.8 L94.6 517.3 L95 515.9 L95.4 514.5 L95.7 513.1 L96.1 511.8 L96.5 510.4 L96.9 509.2 L97.3 507.9 L97.7 506.7 L98.1 505.4 L98.4 504.2 L98.8 503.1 L99.2 501.9 L99.6 500.8 L100 499.6 L100.4 498.5 L100.8 497.4 L101.1 496.4 L101.5 495.3 L101.9 494.2 L102.3 493.2 L102.7 492.2 L103.1 491.2 L103.5 490.2 L103.8 489.2 L104.2 488.2 L104.6 487.2 L105 486.3 L105.4 485.3 L105.8 484.4 L106.2 483.5 L106.5 482.6 L106.9 481.6 L107.3 480.7 L107.7 479.9 L108.1 479 L108.5 478.1 L108.9 477.2 L109.2 476.4 L109.6 475.5 L110 474.7 L110.4 473.8 L110.8 473 L111.2 472.2 L111.2 472.2 L113.5 467.4 L115.8 462.8 L118.1 458.4 L120.4 454.1 L122.7 450 L125 446.1 L127.3 442.2 L129.6 438.4 L131.9 434.8 L134.2 431.2 L136.5 427.8 L138.8 424.4 L141.1 421 L143.4 417.8 L145.7 414.6 L148 411.5 L150.3 408.4 L152.6 405.4 L154.9 402.5 L157.2 399.5 L159.5 396.7 L161.8 393.9 L164.1 391.1 L166.4 388.4 L168.7 385.7 L171 383 L173.3 380.4 L175.6 377.8 L177.9 375.3 L180.2 372.7 L182.5 370.3 L184.8 367.8 L187.1 365.4 L189.4 363 L191.8 360.6 L194.1 358.2 L196.4 355.9 L198.7 353.6 L201 351.3 L203.3 349.1 L205.6 346.9 L207.9 344.6 L210.2 342.5 L212.5 340.3 L214.8 338.1 L217.1 336 L219.4 333.9 L221.7 331.8 L224 329.7 L226.3 327.7 L228.6 325.6 L230.9 323.6 L233.2 321.6 L235.5 319.6 L237.8 317.6 L240.1 315.7 L242.4 313.7 L244.7 311.8 L247 309.9 L249.3 308 L251.6 306.1 L253.9 304.2 L256.2 302.3 L258.5 300.5 L260.8 298.6 L263.1 296.8 L265.4 295 L267.7 293.2 L270 291.4 L272.3 289.6 L274.6 287.8 L276.9 286.1 L279.2 284.3 L281.5 282.6 L283.8 280.9 L286.1 279.1 L288.4 277.4 L290.7 275.7 L293.1 274 L295.4 272.4 L297.7 270.7 L300 269 L302.3 267.4 L304.6 265.7 L306.9 264.1 L309.2 262.5 L311.5 260.8 L313.8 259.2 L316.1 257.6 L318.4 256 L320.7 254.4 L323 252.9 L325.3 251.3 L327.6 249.7 L329.9 248.2 L332.2 246.6 L334.5 245.1 L336.8 243.6 L339.1 242 L341.4 240.5 L343.7 239 L346 237.5 L348.3 236 L350.6 234.5 L352.9 233 L355.2 231.5 L357.5 230.1 L359.8 228.6 L362.1 227.1 L364.4 225.7 L366.7 224.2 L369 222.8 L371.3 221.3 L373.6 219.9 L375.9 218.5 L378.2 217.1 L380.5 215.6 L382.8 214.2 L385.1 212.8 L387.4 211.4 L389.7 210 L392 208.7 L394.4 207.3 L396.7 205.9 L399 204.5 L401.3 203.2 L403.6 201.8 L405.9 200.4 L408.2 199.1 L410.5 197.7 L412.8 196.4 L415.1 195.1 L417.4 193.7 L419.7 192.4 L422 191.1 L424.3 189.7 L426.6 188.4 L428.9 187.1 L431.2 185.8 L433.5 184.5 L435.8 183.2 L438.1 181.9 L440.4 180.6 L442.7 179.3 L445 178.1 L447.3 176.8 L449.6 175.5 L451.9 174.3 L454.2 173 L456.5 171.7 L458.8 170.5 L461.1 169.2 L463.4 168 L465.7 166.7 L468 165.5 L470.3 164.2 L472.6 163 L474.9 161.8 L477.2 160.6 L479.5 159.3 L481.8 158.1 L484.1 156.9 L486.4 155.7 L488.7 154.5 L491 153.3 L493.4 152.1 L495.7 150.9 L498 149.7 L500.3 148.5 L502.6 147.3 L504.9 146.1 L507.2 144.9 L509.5 143.7 L511.8 142.6 L514.1 141.4 L516.4 140.2 L518.7 139.1 L521 137.9 L523.3 136.7 L525.6 135.6 L527.9 134.4 L530.2 133.3 L532.5 132.1 L534.8 131 L537.1 129.8 L539.4 128.7 L541.7 127.6 L544 126.4 L546.3 125.3 L548.6 124.2 L550.9 123.1 L553.2 121.9 L555.5 120.8 L557.8 119.7 L560.1 118.6 L562.4 117.5 L564.7 116.4 L567 115.3 L569.3 114.2"/>
<rect class="fr" x="62.6" y="25.3" width="531.2" height="516.9"/>
<text class="t tick" text-anchor="middle" x="86.8" y="559.4">0</text>
<text class="t tick" text-anchor="middle" x="184.3" y="559.4">20</text>
<text class="t tick" text-anchor="middle" x="281.8" y="559.4">40</text>
<text class="t tick" text-anchor="middle" x="379.2" y="559.4">60</text>
<text class="t tick" text-anchor="middle" x="476.7" y="559.4">80</text>
<text class="t tick" text-anchor="middle" x="574.2" y="559.4">100</text>
<text class="t tick" text-anchor="end" x="56.0" y="528.7">−20</text>
<text class="t tick" text-anchor="end" x="56.0" y="451.9">0</text>
<text class="t tick" text-anchor="end" x="56.0" y="375.1">20</text>
<text class="t tick" text-anchor="end" x="56.0" y="298.3">40</text>
<text class="t tick" text-anchor="end" x="56.0" y="221.6">60</text>
<text class="t tick" text-anchor="end" x="56.0" y="144.8">80</text>
<text class="t tick" text-anchor="end" x="56.0" y="68.0">100</text>
<text class="t lab" text-anchor="middle" x="328.2" y="576.7">Chronological Age (y)</text>
<text class="t lab" text-anchor="middle" transform="translate(22.9 284.8) rotate(-90)">State</text>
<path class="ll" d="M73.6 42.5 H98.7"/>
<text class="t leg" x="108.5" y="47.1">Cluster EPM</text>
<text class="t leg m" x="190.0" y="47.1" xml:space="preserve"><tspan class="i">f</tspan>(<tspan class="i">x</tspan>) = 12.090<tspan class="i">x</tspan><tspan class="sup" dy="-4.6" dx="0.3">0.5</tspan><tspan dy="4.6" dx="1.1"> − 33.488,</tspan><tspan dx="2.9" class="i">R</tspan><tspan class="sup" dy="-4.6" dx="1.0">2</tspan><tspan dy="4.6" dx="0.9"> = 0.808</tspan></text>
<text class="pl" transform="translate(1.60 29.8) scale(1.000 1)">A</text>
</g>
<g id="panel-B">
<polyline class="pts" points="913.2,289.3 806,382.3 742.6,411.3 960.9,292.6 810.8,385.1 825.5,385.7 954.9,281.1 991.2,239.8 957.1,267.6 879.1,265 962,245.6 1069.3,140.6 952.2,243.2 985.5,249.5 994.3,230.3 766.9,402 914,306.2 849.4,340.8 859.6,325.6 908.3,292.8 879.1,298.5 970.6,282.6 976.6,246.6 943.9,309.4 1005.9,232.3 1040,170.4 976.6,264.4 991.2,344.6 952,303.9 752.3,412.8 977.1,212 951.7,269.3 966.9,212.6 975,254.9 796.2,375.1 908.3,335.5 990.4,238.9 928.6,286.8 908.3,353 995.6,236.4 927.5,277.8 781.6,440.2 796.2,372.9 949.5,263.8 914.7,311.9 859.6,309.4 742.6,429 890.2,336.4 965.3,244 781.6,409.2 815.7,368.9 913.6,257.5 815.7,346.8 869.3,312.9 976.6,205.7 913.1,287.6 952.2,235.6 957.1,196.8 1098.5,130.7 859.6,347.1 891.1,270.8 781.6,368.5 1011.2,222.2 893.7,287.3 1093.6,139.8 849.8,341.5 1035.1,212 835.2,341.5 845,328 810.8,369.1 961.1,256.6 794.8,416.4 1001.2,249.2 947.4,237.2 1020.5,209.6 840.1,354.3 923.5,252.9 991.2,230.9 854.7,305.2 796.2,388.7 778.4,419.5 854.7,371 849.8,329.6 1053,176 888.8,330.9 939.1,257 893.3,307.4 1049.8,188 954.3,279.1 986.4,216.4 903.5,264.1 766.9,426.9 986.7,235.4 971,257.6 810.8,367.2 820.6,358.2 937.6,241.6 888.8,342.9 985.6,242.7 1016.4,171.9 1074.1,171.4 1030.2,189.6 967.3,250.3 979.1,233.2 937.6,289.9 934.4,269.8 931.4,316.3 742.6,466.9 954.4,263.9 801.1,383.4 830.3,331.7 950.5,276.7 1064.4,158.3 845,350.1 1007.9,243.7 977,267.6 923,304.8 840.1,364.3 801.1,406.5 888.8,332.7 884,278.8 979.1,245.5 893.7,283.4 845,354.2 801.1,382.2 982.9,216.5 791.3,392.7 955.8,263.6 1025.4,192.8 820.6,376.1 1025.4,188.7 791.3,384.7 978,264.2 935.4,310.7 1074.1,187.2 874.2,321.8 963.9,280.4 1044.9,177.7 752.3,429.5 977.5,241.8 1035.1,196.4 1010.7,169 952.7,264.8 927.5,271.3 998.4,234.6 968.6,256.5 1010.2,185.6 1020.5,195.9 791.3,386.4 825.5,356.8 937.9,269.2 1001,176.5 776.7,406.9 879.1,354.3 970.3,249 796.2,390.3 954.5,210.8 747.4,398.6 957.1,219.1 903.5,282.1 801.1,419.4 1059.5,129 854.7,304.6 913.2,278.8 939.5,253.4 971.8,231.8 941.4,290.5 971.3,262.1 959.1,270.2 766.9,393.6 1064.4,176.7 962,263.4 874.9,318.3 879.1,333.8 991.2,253.5 1025.4,222.3 967.6,255.5 984.3,233.7 820.6,365.7 918.1,270.8 935.1,300.9 781.6,401.9 1005.6,242.3 936.2,268.5 1023.3,203.2 946.8,274 1015.6,222.8 885,325.7 1030.2,168.9 981.5,255.3 952.9,274.8 956,236.8 1069.3,129.2 991.8,220.3 918.1,278.2 1049.8,160.8 918.1,305.1 991.2,215.8 806,394 976.6,241.5 966.9,250.4 966.9,250.7 1010.7,168.5 957.1,240.5 934.8,279.4 966.9,224.9 1035.1,209.5 993,212.2 976.2,261.7 914.9,276.8 835.2,407.1 990.3,227.3 747.4,444 996.1,259.8 887.7,359.3 908.3,329 929.1,269 981.5,236.8 869.3,323.2 903.5,284.3 916.6,302.7 831.8,360.8 949.9,281.1 815.7,385.9 931.7,278.5 1020.5,235 1003.5,238.5 927.9,256.3 820.6,340.4 986.9,254.6 993.4,219.2 1041.5,197 810.8,359.3 954.9,270 972.4,231.2 987.3,241.4 959.9,260.5 1035.1,155.3 1005.9,239.7 898.6,325 951.1,278.1 938.9,297.3 960.4,275.1 1064.4,159.8 918.1,296.1 913.2,317.2 1001,243.5 1030.2,213.6 747.4,468.8 960,250.9 933.8,279.5 937.6,308.7 938.1,266.8 1001,243.3 991.2,218.5 908.3,285.8 966.9,206.8 815.7,357.8 937.9,272.5 940.1,246.3 912.2,340.2 940,289 903,295.3 904.1,317.5 849.8,323.9 972.1,243 946.3,310.9 999.7,227.4 919.8,319.3 970.4,224.6 954.4,282.8 962,261.7 1005.9,195.8 942.5,275.1 943,270.4 996.1,177.6 913.2,319.4 918.1,210.7 874.2,289 840.1,351.1 962,247.2 991.2,217.5 947.2,261.2 1064.4,159.1 961.2,279.5 874.2,371.5 747.4,397.2 1069.3,147.2 976.6,213.9 820.6,389.7 1064.4,181 920.5,303.4 820.6,384.5 801.1,350.5 1064.4,184.4 771.8,381.1 923,282.1 791.3,413.8 973.4,255.6 1020.5,165.6 996.1,260.3 898.6,301.8 810.8,392.3 1012.7,186.5 869.3,329.1 879.1,361.4 1025.4,208.6 825.5,347.8 776.7,412.4 903.5,327 771.8,386.4 914.5,312.9 820.6,381.9 1015.6,186.6 1108.3,120 1059.5,198 888.8,295.1 942.6,288.9 940.9,273.7 879.1,341.2 1015.6,245.3 879.1,320.8 806,379.9 1035.1,176.5 944.1,264.4 1118,53.5 854.7,300.8 791.3,422.3 961.7,254.6 903.5,304.7 991.2,235.9 1047,169.4 766.9,411.9 927.9,276.8 986.4,213.3 908.7,338.5 903.5,312.8 984.4,241 942.5,303.9 940.5,281.8 1077.3,115.1 835.2,355.5 810.8,321.1 898.6,264.5 955.5,259 1021.6,212.8 1064.4,116.4 922.5,258.1 955.6,282.2 935.2,293.4 815.7,349.2 1001,256.6 869.3,307.8 815.7,385 884.2,319 944.8,279.3 810.8,399.2 1025.4,119.1 991.2,253.4 747.4,443.6 776.7,442.9 915.9,301.8 910.9,277.8 976.2,269.6 815.7,397.4 1020.5,207.3 781.6,371.9 747.4,437 864.5,347.7 959.1,261.5 926.2,319.3 1020.5,195.6 845,345.6 854.7,351.9 944.8,288.9 984.4,231.9 971.7,216.7 955.5,268 845,355.2 879.1,288.4 982.3,243.2 854.7,315.9 941.3,280 1005.9,207.7 1005.9,203.2 890.6,306.7 820.6,364.5 947.4,273 849.8,336.6 1001,209.9 1010.7,219.6 776.7,391.6 911.6,295.6 825.5,385 766.9,382.8 801.1,379.2 957.6,284.9 940.5,283.1 981.5,216 1063.5,191.2 815.7,345.4 1001,223.9 961.1,258 1118,55.9 903.5,294.2 918.1,292.8 762.1,410.9 967.6,253.8 959.2,268.9 849.8,335.7 928,293.5 941.7,270.1 914.6,318.2 954.9,272.6 1005.9,272.5 806,335.6 996.1,221.6 947.4,318.6 937.6,272.3 915.4,270.5 986.4,235.8 920,308.3 864.5,359.6 948.2,271.9 825.5,371.4 953.5,284.9 950.5,257.3 962,253.2 903,292.1 952.1,266.7 957.1,278.8 937.6,277.4 1015.6,215.8 1038.2,178.6 864.5,354.5 962,260.1 1020.5,211.1 1005.9,210.1 810.8,334.9 1059.5,193.7 975.6,237.8 801.1,348.5 984,231.1 935,287.2 1054.6,183.2 825.5,350.5 1074.1,140.2 923,334.6 979.5,273.8 955.8,240.6 937.6,223.3 1064.4,173.1 864.5,361.4 742.6,439.3 954,258.6 762.1,455.4 1015.6,183.9 771.8,395 893.7,322.3 947.4,276.4 874.2,315 933.4,302.1 786.4,420 898.6,275.3 1020.5,207.4 1103.4,120.4 965.1,254.1 864.5,373.4 1086.3,177 917.6,279.5 920.2,293 796.2,394.2 981.5,239.9 925,264.7 927.9,310.2 742.6,451.1 776.7,401.5 986.4,242.9 949.3,273.1 1001,343.2 781.6,417.3 874.2,331.8 801.1,386.9 990.8,223.2 932.7,273.6 878.3,319.2 859.6,323.3 909.7,307.1 944.1,283.2 918.1,314 942,266.1 1001,213.6 982.1,249.1 939.6,273.5 986.4,203.4 968.4,214.5 825.5,365.3 898.6,296.5 968.3,217.8 976.6,284.5 901.2,323.2 1064.4,162.2 929.3,281.7 742.6,443.4 864.5,327.3 996.9,256.7 983,205.4 1069.3,161.2 810.8,368.7 879.1,338.5 806,378.8 918.1,228.1 845,363.6 971.7,245.4 957.1,254.1 806,390.1 1064.4,152 1059.5,186.6 1015.6,202.7 1088.8,160.5 845,359.7 888.8,311.3 1003.2,164.9 854.7,354.3 988.4,229.9 994.4,246.2 1064.4,140.3 978.3,242.4 810.8,370.3 884,279.7 1079,127.1 956.6,262.1 893.7,298 912.5,281.8 993.4,243.7 927.4,294.5 1013,219.8 981.2,257.2 957.9,291.5 935.6,272.4 947.4,293.6 953.4,270.2 854.7,325.1 869.3,348.6 888.8,300.7 946,254.7 1044.9,165.3 791.3,400.8 926,294.6 1058.1,169.4 820.6,375.4 791.3,367.4 937.6,273.7 1035.1,183.3 1010.7,186.4 1010.7,217.9 1010.7,170.1 1035.1,195.4 996.1,231.1 752.3,431.5 942.5,214.3 840.1,368.6 913.2,313.3 954.1,247.1 966.9,218.8 771.8,394.1 849.8,362.7 801.1,369 742.6,487.1 943.6,280.8 976.6,256.3 968.2,238.9 903.5,297.3 791.3,371 806,383.9 845,342.9 815.7,376.4 879.1,342.5 949.6,294.1 912.4,274.4 962.8,240.9 1008.5,209.4 923.9,324.2 952.2,272.2 976.6,256.1 903.5,279.6 947.8,288.3 974.7,214.4 849.8,321.8 932.9,285.5 830.3,396.7 879.1,335.5 947.4,258 1010.3,206.9 830.3,382.3 771.8,404.3 952.2,314.3 859.6,308.1 961.8,233.4 922.3,301.3 801.1,354.7 918.1,298.7 1103.4,151.9 982.4,236.3 1020.5,163.6 1049.8,202.5 1054.6,151.5 815.7,368.7 941.8,256.5 801.1,434.1 947.4,267.5 810.8,384.5 796.2,414.2 971.7,229 796.2,359.4 950,251.9 957.1,296.5 923,280.4 1059.5,179.1 1079,151.9 1005.9,208.3 965.9,259.3 930.5,284.4 908.3,313.6 944,286.4 996.1,239.8 859.6,332.7 1074.1,198.8 810.8,373 801.1,360.1 825.5,373.8 864.5,317 928.8,302.4 1035.1,203.3 1015.6,244.3 1040,193.9 975.6,216 1044.9,167.7 864.5,339.4 864.5,309.3 1019,216.2 1035.1,162.4 849.8,346.2 923,284.7 1030.2,243.1 1011.6,226.2 996.1,309.1 815.7,354.9 947.4,260.8 932.7,229.4 981.5,226.5 951.9,243.8 771.8,445.1 947.6,300 1015.6,163.6 815.7,369.1 962,219.3 939,307.5 958.9,264.8 791.3,406.2 966.9,286.7 791.3,380.1 747.4,444.6 937.6,266.1 960.8,246 830.3,334.7 905.1,273.4 1059.5,133.7 948.6,253.6 913.2,298.2 1049.8,193.7 888.8,307.4 766.9,436.5 995.1,225.3 903.5,310.3 830.3,333.9 993.9,243.3 1010.7,237.7 864.5,334.9 927.9,298 1035.1,205.5 796.2,403.6 969.2,248.3 943.9,271.4 962.9,260.6 825.5,336.6 1099.7,94.3 747.4,435.9 913.2,301.1 908.3,258.8 921.1,286.5 977.6,243.5 950.2,269.9 953.1,273.8 845,356.3 961.3,255.6 1079,102.7 849.8,381.5 948.2,285.5 920.3,274.6 986.4,258.8 938,278.7 971.4,216.4 964,229.5 1049.8,180.1 994.9,238.9 824.9,379.3 1020.5,241.8 879.1,342.5 1005.9,252.4 752.3,449.1 950.3,266.5 996.1,194.9 1035.1,192.9 835,387.2 898.6,355.2 923,324.5 830.3,339.9 908.3,261 981.5,234.8 888.8,298.4 996.1,231 1044.9,185.5 762.1,443.8 987.6,236.7 975.9,192.9 776.7,405.1 939.9,291.8 1035.1,195.6 835.2,337.4 946.1,269.8 972.8,253 864.5,315.8 967.8,260.6 947.4,307.9 940.8,273.3 937.6,274.6 947.4,260.1 991.2,238.9 953.7,247.1 941,283.9 752.3,448.9 869.3,377.3 840.1,333.8 991.7,235.8 976.6,255.9 973.8,286 946.8,281.4 927.4,272.1 986.8,228.1 991.2,212.8 1025.4,186.8 952.2,270.8 1083.9,158.3 1069.3,132.2 969.3,261 913.2,296.7 984.2,261.4 952.2,230.5 1006.3,231.5 1040,183.5 1020.5,179 864.5,343 971.7,252 1083.9,195.6 987.4,227.6 1077.7,178 845,328.4 960.7,236.7 796.2,406 1015.6,223.8 747.4,435.7 796.2,371.7 968.2,242.8 981.5,220.4 949.5,265.6 932.7,244 962.3,231.7 938.7,301.8 996.1,221.9 924.1,277.2 925.3,289 953.4,286.1 986.4,256.4 957,256.1 925.4,307.6 908.3,326.1 1083.9,170.5 947.4,261.4 1020.5,225.1 884,341.3 945.5,305 971.7,282.1 968.3,267.1 825.5,323.9 962,254.2 957.1,248.6 962.4,253.9 918.1,325.2 925.4,298.9 901.5,307.6 895.1,287.3 981.5,268.2 1001.7,219.7 864.5,288.7 849.8,391 1030.2,197 942,275 1025.4,192.7 970.2,234.8 893.7,285.3 1069.3,196.2 771.8,434.1 888.8,308.7 864.5,328.2 854.7,303.2 981.5,241.6 830.3,348.5 915.7,316.9 953.9,259.9 1069.3,184.1 810.8,376.2 934.9,275 903.5,246.7 1074.7,177.6 840.1,375.7 971.7,215.8 1030.2,235.7 952.1,299.2 845,340.2 806,379.3 1010.7,220.1 964,248 859.6,321.4 1005.9,258.4 923,268.3 815.1,355.4 747.4,438.7 941.6,274.8 893.7,302.5 1074.1,119.9 1001,222.3 913.7,291.4 840.1,362.4 796.2,380.1 920.6,274.2 976.4,232.5 1015.6,190 893.7,299.9 928.5,307.4 906.2,299.6 904.6,322.1 996.5,221.9 1015.6,206.6 864.5,359.4 864.5,312.4 923,237.4 1010.7,206.3 996.2,224.2 1007.4,219.6 781.6,411.2 1093.6,116.4 932.7,250.8 830.3,371.5 966.9,259.9 983.2,258.5 945.2,273.9 992.4,258.7 806,376.7 928.7,330.2 991.2,200.5 1074.1,138.3 957.1,218 918.1,289.6 869.3,302.5 966.9,266.3 975.5,264.4 1118.3,102.5 981.5,161.2 1020.5,209.5 1035.1,181.4 820.6,351.7 988.6,236.5 908.3,309.4 981.5,262.6 912.5,284 864.5,307.6 781.6,411.9 859.6,352.3 859.6,367.4 1005.9,178.3 820.6,382 918.1,282.4 888.8,308.1 859.6,314.9 1015.6,185.2 1030.2,170.4 963.1,260.8 910.6,292.1 845,338.9 796.2,374.3 863,333.6 909.6,295 930.6,295.1 1005.9,264.4 913.2,260.6 1055.8,168 742.6,410.2 791.3,371.5 1025.5,227.3 999.2,241.1 1020.5,204.2 840.6,328.7 859.6,352.5 932.7,248.1 1098.5,140.3 854.7,316.2 972.5,221.1 970.8,271.7 915.4,270.8 1008.9,211.5 747.4,454.7 932.7,347.3 928.4,282 932.7,294.6 840.1,355.7 766.9,399.8 895.5,305.4 1059.5,173.3 884,328.2 941.1,278.9 975.2,265.6 887.6,290.7 1030.2,198.8 825.5,368.1 957.1,240.4 781.6,425.9 982.6,264.5 936.1,267.8 943.2,278 952.2,230.3 957.1,273.1 810.8,349.7 908.3,302.3 869.3,356.4 1001.2,222.9 911.5,326.7 973.9,242.7 1069.3,178.8 965.9,266.2 976.6,245.3 961.4,234 1093.6,125.1 951.4,284.7 962,263.4 752.3,404.7 936.6,285.7 747.4,452.3 845,371.3 906.1,273.2 869.3,318.8 908.3,337.5 801.1,365.9 968.8,258.1 810.8,370.2 1012.7,201.4 1010.7,216.7 872.9,341.8 971.3,221.6 947,264.2 987.6,225.9 986.4,163.3 1025.4,232.9 927.9,295.8 968.4,257.5 968.3,241.4 1040,186.5 912.7,293.1 791.3,346.7 913.2,259.9 801.1,373.8 888.8,278.8 904.5,327.7 945.7,273 937.6,287.1 938.5,306.9 806,351.2 1025.4,216.7 948.4,298.9 962.6,287.3 879.1,316.4 845,333 1001,155.5 973,245.9 849.8,323.9 964.1,250.1 918.1,276.3 971.7,278.2 820.6,368.1 953.7,288.9 849.8,337.6 923,386.3 1030.2,212.7 776.7,385 825.5,358.7 923.8,265.4 1064.4,193.7 1069.3,152.6 952.2,264.8 1108.3,97.9 991.2,218.6 806,394.7 806,379.6 1059.5,215.2 956.8,265.6 776.7,409.8 932.7,268 937.7,299.6 1035.1,200.1 962,273.7 908.3,302.5 988.7,250.4 810.8,377.4 810.8,370.1 781.6,376.1 946.1,282.2 959,257.6 947.4,279.4 747.4,389 923,290.8 810.8,381.9 859.6,342.5 923,296.7 1035.1,202.5 742.6,445.4 830.3,371.8 994.2,213.8 894.3,308.7 1044.9,195.3 796.2,376.4 752.3,449.4 859.6,347.8 951.4,264.2 840.1,350.3 869.3,313.4 869.3,358.1 923,284.2 898.8,331.2 1025.4,210.9 796.2,375.4 904.1,310.6 849.8,375.3 928.8,311.1 771.8,449.7 771.8,410.1 947.6,271.8 830.3,370.9 917.8,315.7 981.5,265.4 1044.9,171.8 849.8,354.7 747.4,436.3 1020.5,200 982.7,250.7 1030.2,158.8 919.9,266.7 903.5,270.4 771.8,392.4 791.3,413.4 943.9,281.4 1044.9,189.4 982.9,213.4 982.7,239.5 1020.5,241.5 923,281 918.1,275.5 874.2,344.1 912.1,320.5 967.2,242.7 920.7,319.3 806,372.1 874.2,293.7 825.5,411.9 924.5,285.4 815.7,364 955.9,283.3 965.1,235.5 898.6,303.3 1078,177.6 752.3,401.9 947.1,281.9 1093.6,133.9 1076.2,144.6 972.8,255.1 971.7,199.6 908.3,258.8 801.1,366.7 938.6,254.1 947.1,253.6 893.7,324.1 771.8,409.4 1049.8,191 825.5,368.5 966.9,244.9 976.6,274.4 942.5,306 978,250.4 1006.7,212.4 994,257.5 888.8,308.8 801.1,388.7 936.6,259.5 922.4,288.8 874.2,332 859.6,320.2 938,296.9 952.2,268.4 762.1,408 942.5,307.7 781.6,399.2 948.3,267.1 781.6,401.4 933.4,266.2 884,312.7 933.6,258.1 991.2,225.8 1020.5,188.8 903.5,318 947.4,255.8 962.9,251.5 1001,222 944.5,297.1 945.7,249.6 937.6,227.2 1040,145.3 942.5,237.2 916.9,303.3 954.6,279.7 1010.7,212.6 864.5,331 937.1,278.1 1049.8,197.6 923,281.3 815.7,367.2 908.3,331.7 976.6,220.4 820.6,391.8 1001,269 845,343.5 810.8,418.6 947.4,279.7 1035.1,187.2 1020.5,163.1 939.2,266.2 939,319.7 962.6,244.6 982.5,247.4 845,350.8 840.1,311.9 983.6,250.2 963.4,259.3 961.9,235.9 933.7,287.4 948.4,248.7 931.4,259.4 952.6,279.3 1001,217.4 908.3,289.3 947.2,273.7 969.6,231.7 981.5,199.7 981.5,232.8 994.7,190.4 987.4,248.7 909.5,308.4 986.4,223 874.2,353.1 920.7,301.2 961.2,275 825.5,340.5 931.6,297.6 747.4,421.5 957.1,235.9 830.3,355.1 1026.9,227.5 752.4,432.1 766.9,436.5 975.4,240.1 936.7,315.3 801.1,389 967.7,220.5 939.7,268.9 845,367.7 903.5,285.6 1005.9,249.4 888.8,299 1010.7,199 975.6,217.2 918.1,272.2 991.2,257.2 1061.8,131.3 1010.7,189.6 974.3,186.5 757.2,440.6 1001,206.5 835.2,340.6 1025.4,172.9 984,265.6 771.8,378.8 978.3,226.5 879.1,356.9 1010,223.2 966.3,234.3 957.1,265.7 969.2,253.1 939.8,280 1079,187.6 975.1,261.3 1098.5,115.1 978.7,272 918.1,304.1 1044.9,177 976.6,250.3 1035.1,218.6 958.9,264.5 971.3,235.1 982.8,246.9 928.1,290.7 948.3,282.1 1074.1,131.3 983.5,234.3 996.1,225.7 747.4,474.3 742.6,458.9 752.3,389 825.5,402.5 1079,116.6 1010.7,171.4 766.9,418.6 918.1,292 787,398.4 1015.6,207.9 996.1,268.1 960.6,260.7 854.7,340.2 976.6,236.7 1040,166.9 849.8,288.7 971.7,190 969.8,244.9 849.8,329.3 786.4,346.1 762.1,449.9 1054.6,141.7 1010.7,216.9 918.1,302.6 936.8,291.3 1059.5,186.9 786.4,394.9 766.9,456.9 927.9,272 820.6,352 1040,215.4 932.7,302.9 879.1,321.6 947.4,257.6 946,279.4 956.3,278.3 796.2,392.2 962,245.9 976.4,233.2 923,288.3 893.7,273.2 887.3,347.4 840.1,360.3 942.5,254.2 820.6,371.7 966.2,241.4 953.6,231.4 898.6,325.8 1005.9,211.7 908.4,298.7 930.5,306.9 957.9,241.8 981.5,252 845.3,390.6 776.7,412.1 958.1,257.4 962,293.9 942.5,288 975.6,268.2 767.4,429 1034.8,159.3 942.5,262 952.2,255.8 884,343.2 752.3,431.5 927.9,311.2 1005.9,178 928.9,294.6 938.8,283.6 864.5,320.8 939.6,277.5 806,372.1 947.8,252.8 1069.3,183.9 815.7,340.3 957.1,257.7 752.3,421.2 1049.8,227.8 898.6,301 791.3,397.8 952.2,274.3 820.6,371.7 845,355.5 1044.9,180.9 888.8,238.1 1093.6,152.3 908.3,429 940.2,271.5 747.4,413.1 810.8,343.6 1005.9,249.9 984.1,232.5 922.1,242.3 932.4,318.8 840.1,317.4 967.6,245.1 897,308 934.2,297.3 923,263.9 953.1,236.8 1059.5,162.1 950.9,292.3 974.9,266.8 976.6,245 964.3,280.8 1005.9,217.2 1025.4,218.5 960.6,286.4 830.3,384.4 845,329 940.8,290.1 1098.5,126.1 742.6,437.5 952.2,292.8 893.7,298.6 776.7,404.5 918.1,270 907.3,299.7 776.7,382.4 960.3,256.2 874.2,346.5 810.8,402.2 786.4,414.6 1074.1,153.1 908.3,332.1 1152.1,78.8 943.6,256.7 977.6,242.4 903.5,253.1 971.7,251.7 947.6,276.7 884.1,320.4 976.5,237.4 1011,228.8 762.1,417 904.5,338.3 942.5,312.1 986.4,219.1 915,317.4 946.8,290.5 1015.6,226.9 947.4,262.1 864.5,335 820.6,363.3 771.8,427.5 1079,115.7 1069.3,188.2 886,302 791.3,422.1 942.5,294.6 825.5,366.4 991.2,198.8 801.1,358.5 959.9,273.4 932.7,300.8 830.3,383.6 1044.9,172.5 964.3,281.6 943.1,269.5 1077.1,158.3 947.4,276.5 957.1,251.7 908.3,260.7 947.4,277 996.1,229.4 958.2,263.4 801.1,374.3 944.3,279.7 1054.6,159.6 888.8,330.7 747.4,434.5 996.4,223.7 840.1,357.7 776.7,423.5 945.2,278.2 976.6,231.6 948,247.2 918.1,292.6 845,326.7 781.6,400.9 742.4,423.3 1079,121.8 874.2,367.9 1040,198.1 1005.9,213.3 879.1,340.5 747.4,436.7 1049.8,174.7 810.8,315.4 884,302.5 979.7,249.6 974.7,310.3 874.2,337.6 956.7,259.3 801.1,412.7 884,307.1 959.3,262.5 913.2,288.4 899.8,300.6 1001,190.7 960.1,264.7 986.4,200.1 806,378.9 935.7,265.1 928.1,275.2 971.7,270.5 1015.6,195.7 962,314.9 922.1,283.5 962.2,267.9 840.1,321.8 752.3,406.2 903.5,331.3 991.2,239.6 976.6,262.5 921.7,255.5 929.8,283.7 752.3,431.2 791.3,388 962.5,258 840.1,363.6 781.6,379.3 966.9,207.6 840.1,369.4 980.8,227.4 923,296.1 976.6,235.5 810.8,358.5 1025.4,181.5 942.5,318 781.6,415.9 950.6,252.6 1011.3,244.6 935.5,304.1 1064.4,178 884,291.2 825.5,379.5 786.4,446.6 910.2,355 927.9,293.8 1035.1,198.1 781.6,400.2 932.6,281.1 820.6,358.1 970.6,270.6 957.1,260 945.5,250.5 1088.8,122.8 830.3,394.9 953.6,267.8 933.5,319.8 945.7,249.8 893.7,293.7 829.7,358.3 835.2,351.2 1059.5,173 950.1,288.3 962.4,269.2 933.5,277.7 989.8,244.7 934.3,272.6 953.5,268.7 993.6,241 918.3,265.7 952.2,273.1 903.5,309 970.8,256.2 1059.9,144.2 1025.4,200.2 874.2,344.3 980.7,259.8 835.2,371.1 938.1,276.6 845,354.7 815.7,336 1049.8,207.2 961.1,267.1 962,233.4 1049.8,161.9 937.7,276.9 1021.7,200 1030.2,147.4 976.6,240 801.1,356.4 1001,246.3 959.4,246.2 923,279.2 913.2,329.2 957.1,270.8 918.6,257.5 928.6,292.2 941.8,251 820.6,368.1 947.4,270.1 999.4,258.9 953,279.7 915.2,245.1 864.5,326.9 864.5,337.5 912.8,292.5 879.1,325.1 762.1,435.4 937.6,325.5 1022.1,232 1044.9,199.3 796.2,386.5 1010.7,237.4 913.4,320.7 939.8,288.2 971.6,253.1 908.3,298.2 999.8,217.6 791.3,398.2 974.6,239.2 884,297.3 742.6,444.5 752.3,455.3 923,305.4 752.3,417.6 1093.6,131.3 981.5,235.8 963.7,270.7 918.1,296.1 985,236.2 966.9,197.8 806,383.4 864.5,302.7 835.2,359.5 986.4,225.6 991.2,231.6 942.5,284.6 801.1,407.9 1054.6,165.1 1088.8,110.1 1049.8,162.3 884,321.7 940.5,262.6 952.2,252.3 762.1,399.7 903.5,289.6 965.8,279.8 977.4,259.7 1049.8,192.3 1072.8,143.1 944.5,255.3 884,372.6 1015.6,243.2 752.3,475.2 951,266.3 1030.2,157.4 916.3,290.6 956.2,286.9 884,334.5 845,316.4 933.3,284.1 888.8,269.1 1054.6,153.6 1044.9,163.5 943.6,257.7 955.5,277.5 908.3,313 1079,144.2 820.1,395.3 830.3,382.2 970.4,254.8 903.5,307.2 955.8,251.6 1020.8,211.4 796.2,367.5 742.6,445 947.4,265.5 830.3,376.2 776.7,423.5 937,280.4 893.7,320.2 806,395.8 998.2,250.1 766.9,377.3 796.2,376.5 781.6,394.6 825.5,355.9 970.6,267.5 888.8,289.9 801.1,391.2 958.1,239.6 1049.8,212.5 884,299.7 963.9,285.8 810.8,389.3 884,294.6 898.6,297.2 971.8,254 806,365.8 1069.3,158.2 869.3,297.8 913.2,276.3 796.2,310.5 840.1,357.9 869.3,261.2 840.1,329.5 978.8,260.9 964.7,270 1038.2,224.5 958.2,286.4 825.5,350.5 996.1,262.7 752.3,450.6 1025.4,161.5 937.6,290.5 864.5,350.1 908,306.6 972,250.4 752.3,456.5 854.7,345.8 1002.7,217.8 986.4,211.9 1005.9,219.1 791.3,382.5 967.8,271.2 987.4,234.3 1030.2,162.1 884,348 892.9,338.5 815.7,394.3 903.5,290.2 893.7,328.6 1025.4,201 982,241.6 1054.6,144.5 966.9,232 925.6,265.3 874.2,354.2 927.9,293.2 806,347.9 742.6,449.9 849.8,352.9 1001,270.4 747.4,420.6 943.8,286.2 801.1,352.5 815.7,406.7 1059.5,160.9 1030.2,188.5 859.6,355.6 1074.1,132.1 801.1,408.6 952.2,247.7 940,275.4 991.2,238.2 742.6,432.8 966.9,228.3 981.5,282.6 947.4,281.4 888.8,331.5 830.3,413 931.2,262.6 900.8,308.8 913.2,330.3 898.6,372.2 966.1,271.6 1030.2,203.5 1074.1,151.1 845,349 869.3,311.9 840.1,394.2 973.5,264.2 981.5,259 800.5,437.2 928.4,293.6 849.8,344.6 974.8,286.5 962.6,274.8 937.6,272.6 864.5,291.7 957.1,277.3 963.4,229.5 966.5,270.2 913.2,306.1 908.3,323.2 937.6,319.5 771.8,401.9 960.4,284.4 921,288.2 771.8,442.5 900.3,322 963.5,250.4 991.2,242.2 975.9,231.1 976,248.5 967.6,230.8 923,277.3 912.6,292.8 874.2,301.6 908.3,274.2 942.5,280.3 963,257.4 979.3,248.5 996.1,237.4 937.6,260.1 791.3,390.3 771.8,388.5 913.2,322.9 939.7,310.6 950.4,289.9 835.2,376.1 845,361.2 752.3,485.4 965.9,228.5 991.2,195.3 996.1,238.3 957.1,249.5 1088.8,184 991.2,209.8 934.8,294.8 924.5,287.4 854.7,292.3 1069.3,184.8 786.4,385.2 835.2,327.6 979.8,228.3 806,403.9 991.2,228.2 825.5,379.8 1015.6,238.6 966.9,254.3 1025.4,187.9 845,371.6 942.5,257 1035.1,245.2 1078,187.5 927.6,329.1 903.5,312.3 959.6,272.7 1020.6,199.7 820.6,386.3 965.9,278.2 771.8,400.3 1079,136.9 1083.9,116.6 1005.9,302.6 1010.7,180.7 963.8,294.9 1040,193.1 962,235.1 913.2,276.1 963.1,272.7 964,258.7 1022.2,205.1 968.6,280.1 995.4,220.1 921.3,288.9 806,381.7 970.4,261.6 1000.8,209.9 977.1,257.9 961.9,276.8 879.1,335.5 932.7,297.2 962,190 781.6,420.1 874.2,350.1 820.6,408.9 810.8,416.2 947.4,267.3 974.8,267.4 986.4,256.7 908.3,285.5 864.5,320 952.2,296.2 849.8,354.5 801.1,376.3 897.5,318.5 1015.6,203.8 1059.5,177.7 917.5,299.5 919.9,328.8 932.7,259.6 991.2,220.6 1030.2,160.6 903.5,318.6 942.5,317.1 786.4,401.7 980.7,244.4 845,339.7 830.3,380.5 954.9,271 864.5,338.4 950.2,278.9 888.8,315.7 941.8,279.4 960.2,244.6 976.6,260.4 840.1,370.8 1030.2,159.8 820.6,378.4 1010.7,161.3 952.1,287 1093.6,158 930.3,290.9 796.2,369.8 954.7,288.2 923,280.4 923,259.8 921,286.9 973.6,255.4 1001,256.4 976.6,270.4 927.9,297.1 1020.5,162.8 1030.2,187.1 1049.8,190.2 859.6,350.2 918.1,319.9 996.1,231.9 1025.1,190.9 1054.6,170.6 979.3,279.8 806,400.8 903.5,325.3 938.3,303.3 1035.1,183.1 1122.9,96.5 996.1,242.7 893.7,284.7 845,371.9 943.8,299.5 966.9,271.6 927.9,283.3 888.8,300.2 1034.2,199.2 918.1,283.6 980.3,256.9 951.8,269.6 1049.8,161.3 908.3,283.6 935.2,291.8 962,267.7 952.2,218.4 1059.7,117.4 786.4,419 1103.4,133.3 958.2,249.2 786.4,414.1 1044.9,196.4 1001.2,229.1 966.8,247.1 968.7,258.9 976.6,256.2 859.6,339.2 993.4,271.5 898.6,282 952.2,262.2 1088.8,127.5 879.1,307.6 963.2,261.6 965.8,273.5 937.6,233.7 1001,224.9 859.6,351.7 1005.8,215.5 1015.6,189.5 781.6,406.3 820.6,365.4 825.5,339.1 970,255.7 962,260.4 1001,203.2 942.9,303 911.3,350 938.7,269.5 1025.4,177.1 796.2,374.1 791.3,373.3 752.3,438.5 1059.5,152.3 996.1,238.3 975.2,250.9 937.6,271.4 840.1,373.1 927.9,238.4 796.2,392.1 825.5,396.4 835.2,358.6 1015.6,256.5 937.2,280.8 930.4,290.8 752.3,429.9 840.1,357.9 942.5,295.9 937.9,268.3 742.6,430.6 934.7,289.5 958.5,249.2 994.9,235.1 791.3,390 953.5,247.3 925,271.2 849.8,357.5 859.6,340.8 1054.6,178.4 988.4,235.5 1069.3,164.3 854.7,347.4 918.1,295.8 1040,190.7 968.4,259.1 930,286.4 1049.8,184.7 918,299.6 986.4,175.8 1014.8,244.1 908.3,317.5 771.8,414.9 1040,218.7 874.2,335.3 852.2,335.8 840.1,373.9 879.1,289.3 1001,227 965.1,249.7 996.1,207.8 781.6,414.4 845,338.8 981.7,236.2 977.6,223.9 984.9,244.4 912.9,273.4 955.4,231.7 1005.9,206.9 908.2,317.8 907.8,283 796.2,398.7 1081.1,149.1 1015.6,194.6 926.1,270.3 1054.6,166.1 912.3,309.2 869.3,348 936,293.1 845,352.4 983.1,237.8 1035.1,189 964.9,243.7 747.4,427.8 874.2,335.4 1030.2,227.3 971.7,245.1 985.5,240.5 854.7,321.5 830.3,337.5 908.3,287.4 996.1,236.2 924.4,302.3 1035.1,210 935,300.6 947.4,274.9 1132.6,100.2 966.9,269.3 1088.8,151.1 944.9,286.2 903.5,267.4 986.3,252.7 854.7,340.3 964.3,251.7 976.1,264 908.3,270.2 1010.7,207.7 950.1,264.9 917.4,320.2 959.5,260.9 801.1,409.1 976.6,269.6 766.9,431.2 927,312 893,333 888.8,254.5 786.4,356.1 806,380 747.4,450.8 995,252.9 964.3,260.4 825.5,349.2 923,248.7 947.3,254.8 913.2,310.1 1035.1,183.4 1059.5,113.6 869.3,317.8 932.7,273.6 962,230.2 1040,188 934.7,276.4 898.6,330.1 884,289.5 977.1,247.2 941.6,269.1 1049.8,167 879.1,335.2 1025.4,185.5 976.6,209.1 1025.4,173.3 1005.9,203.5 849.8,327.9 874.2,321.2 888.8,328 892.6,358.4 928.1,265.2 932.8,273.1 933.8,331.2 1148,98.7 952.2,274.2 1098.5,120.6 979.2,261.6 1044.9,159.5 942.6,261 927.9,278.3 849.8,408.1 917.7,297.7 968.6,256 944.1,286.2 951.4,275.2 849.8,355 1010.7,201.9 888.8,314 1054.6,166.5 927.4,313.9 801.1,370.7 950.5,301.1 946.4,271.1 1030.2,178.3 940,281.3 979.8,270.4 918.8,281.6 923,273.9 973.9,255.2 1059.5,205.8 806,395.9 1059.5,166.7 776.7,423.3 1044.9,173.9 986.4,263.4 1054.6,164.4 806,366.8 989.6,226.3 968.3,270.7 820.6,367.6 1047.5,175.2 987.6,249.9 963.5,268.1 946.8,273.1 864.5,281.6 978.9,249.4 796.2,362.8 786.4,439.1 938,279.3 1059.5,166 849.8,348.9 820.6,396 952.2,275.3 766.9,451.3 776.7,405.1 976.6,239.8 941.4,278 965.9,250 796.2,369.7 947.7,281.1 996.1,220.9 966.9,255.6 987.5,221.5 963.9,273.2 786.4,393.8 937.7,285.9 830.3,318.3 1025.4,185.1 879.1,327.9 934.1,272.5 962,228.7 991.1,218.2 937.6,280.2 771.8,405.5 962.5,234.6 931.4,280.4 966.9,225.4 859.6,350.5 903.5,286.3 947.4,305.1 1059.5,148.7 956.2,285.8 966.9,245.3 874.2,332.1 952.6,251.3 927.9,279.6 1078.3,142.7 776.7,425.3 957.1,257.7 1108.3,83.4 948.6,271.2 932.9,309.6 801.1,410.3 1108.3,96.7 1074.1,149.5 911.6,256.2 996.7,248.5 963.3,253.9 849.8,378.9 968.1,251.7 981.5,253.8 884.4,347.8 947.4,230.5 859.6,374.1 742.6,434.5 943.8,261.8 937.7,252.2 987.9,224.9 957.1,250.7 922.4,270.4 955.3,280.7 776.7,382.5 934.6,297.9 918.1,286.7 933.4,292.9 879.1,319.4 967.8,287.3 859.6,329.5 1001,226.9 903.5,278 971.7,213 1064.4,183.1 771.8,447.4 913.2,331.4 929.7,279.3 1001,240.4 938.1,256.8 991.2,205.5 942.3,264.9 912.3,334.7 913.2,274.3 924.9,274.8 945.6,257.7 957.1,264.9 864.5,348.1 927.9,272.5 952.2,199.9 992,268.3 967.7,275.5 937.6,297.8 901.9,324.5 1020.5,223.5 946.5,261.9 1063,163.6 952.9,295.6 988.7,240.9 986.4,240.1 976.6,239.9 955.7,211.8 903.5,314.2 879.1,364.7 961.5,268.5 951.5,273.8 752.3,440.6 981.5,232.8 1083.9,162.1 762.1,420.7 921,294.1 941,254.2 957.4,283.1 791.3,385.5 1025.4,209.7 932.6,303.9 776.7,385.4 1044.9,201.5 809.1,373.3 1083.9,127.5 874.2,345.2 941.2,279.4 820.6,405.5 771.8,464.4 898.6,313 854.7,337.4 945.2,277.1 1030.2,192.2 955.6,270.6 879.1,366.5 972.3,261.8 835.2,393.4 771.8,439.1 966.8,228.2 940.8,288.6 955.1,218.6 996.1,218.9 977.5,240 869.3,339.5 840.1,349.7 976.6,241.4 776.7,399.6 762.1,432 893.7,347.9 943.9,255.8 781.6,377.8 830.3,371.2 1015.6,234.5 976.3,241.7 907.2,292.9 1036.6,220 934.5,287.1 776.7,422.8 1074.1,155.4 825.5,377.4 752.3,426 981.8,242 1030.2,227.5 806,386 923.2,280.9 926.9,315 1064.4,142.7 893.7,323.2 830.3,384.2 815.7,376 874.2,320.9 918.1,210.6 815.7,410.8 962,256.1 849.8,338.6 892.1,294.6 980.2,260.9 937.6,265.7 947.6,274.4 859.6,350.1 1064.4,200.6 859.6,335.8 888.8,313.9 967.3,290.1 806,350.6 1005.9,180.4 1010.7,196.9 968.5,267.9 776.7,422 830.3,372.7 918.5,281.3 992.6,239.1 884,333.5 967.5,273.2 981.1,228.1 1027.2,195.5 781.6,387 1025.4,205.9 961.5,294.8 946.9,248.4 810.8,337.8 927.9,317.6 845,325.6 849.8,398.1 971.7,189.3 918.1,273.8 786.4,407.2 958.7,280.4 781.6,404.2 942.5,293 786.4,363 937.6,246.9 869.3,350.4 849.8,364.7 893.7,285.9 825.5,363.1 924.8,332.4 986,228.9 830.3,325.7 864.5,294.4 937.6,218.7 810.8,384.4 762.1,437.4 845,330.8 971.7,225.8 752.3,427.7 845,341.1 752.3,421.6 1093.6,126.7 942.1,297.6 752.3,423.6 747.4,442.6 815.7,392.2 927.9,276.2 781.6,348.1 854.7,335 810.8,385.8 913.2,333.9 879.1,333.2 966.9,258.3 1088.8,98.9 1035.1,209.9 884,353.8 935.3,282.6 957.1,249.9 948,277 918.1,308.5 776.7,420.2 971.9,229.2 960,296.9 796.2,391.8 937.6,236.7 903.5,314 956.4,278 970.4,249.9 1079,128.7 1137.5,75.1 951.9,291.6 966.9,270.1 991.2,252.2 1088.8,154 903.5,308.4 913.2,323.7 1001,216.9 1025.4,222.4 903.5,300.9 1020.5,197 1015.6,219.6 1088.8,140.8 940.2,297 947.4,225.9 801.4,363.2 971.7,300 1015.6,204.3 888.8,329.8 825.5,357.8 888.8,292.8 781.6,398.7 945.5,241.4 923,285 962,266.5 1059.5,219.5 888.8,316.4 840.1,348.2 981.5,204.5 923,286.5 967.9,271.3 1076.9,133.9 899.7,302.7 991.2,229.8 942.5,292.3 1064.4,165.4 904.6,309.4 1079,182.2 991.2,196 910.8,303.3 1025.4,174.3 1064.4,172.7 944.3,278.2 1079,131.2 791.3,416.3 849.8,326.3 1069.3,141.7 796.2,394.9 884,291.8 1000.4,227.3 1005.2,235.9 1035.1,200.9 874.2,368 893.7,286.3 825.5,390.8 1001,235.3 747.4,436.4 781.6,426.9 941.7,273.8 952.2,295.5 1064.4,150.6 995.7,228.9 976.6,264 927.9,281.4 991.2,202.2 935.9,280.3 1040,182.4 801.1,357.8 791.3,386.2 964.7,251.6 967.7,251.2 923.2,291.6 1001,198.8 869.3,316.1 1079,150.9 1049.8,228.7 1079,162.4 923.1,321.4 1059.5,149.9 936.7,297.1 961.7,228.7 776.7,359.8 1030.2,189.1 854.7,355.8 1064.4,172.1 840.1,332.7 1049.8,173.4 947.4,273.8 835.2,367.5 742.6,477.6 945.6,277.4 791.3,399.4 1103.4,122 830.3,378.1 932.9,303.1 884,331.4 825.5,384.5 815.7,375.1 929,268.2 1054.6,180.4 986.4,241.1 825.5,394 762.1,436.6 918.1,305.2 996,200.8 864.5,304.4 1025.4,151.5 810.8,379.9 978.6,230.3 976.6,216.2 874.2,332.8 849.8,395.6 958.4,282.9 869.3,313.1 937.7,252.2 747.4,414.7 966.8,252.8 1025.4,192.8 1079,100.6 898.6,324.1 967.6,300.2 1001,218.1 796.2,383.6 1035.1,150.8 957.1,233.3 966.9,273.4 830.3,382.3 830.3,364.3 971.7,234.3 947.4,300.5 930.9,284.8 991.2,222.9 937.6,207.6 869.3,343.3 1088.8,156.6 1009.7,285.1 946.6,246.3 1122.9,132.2 1038.7,190.3 913.2,317.8 957.1,270.2 925.5,302.6 978.8,221.9 959.3,236.3 970.6,283.8 820.6,393.9 1044.9,182.3 854.7,366.8 971.7,258.6 996.1,237.2 771.8,423 859.6,340.5 840.1,341.4 941.1,272.2 962,255.2 996.1,239.6 981.5,203 957.3,258.5 1009.8,250.3 1054.6,173.3 1044.9,194.1 971.1,305.4 815.7,419.9 1005.9,235.2 927.9,316.4 1103.4,113.9 1039,177.6 766.9,410.6 796.2,384.5 747.4,460.9 771.8,383.9 801.1,393.7 898.6,317.5 966.9,234.1 935.5,283.6 854.7,360.6 771.8,390.5 786.4,409.7 948,248.2 776.7,436.6 933.2,253.9 900.4,315.3 987.9,249.4 791.3,393 859.6,347.3 933.6,285.4 962,276.6 771.8,396.6 874.2,360.7 975.6,232.3 996.3,269.5 920.3,292.3 934.7,277.8 1025.4,217.6 927.9,260.6 932.7,276.3 1005.9,316 945.2,270 854.7,382.2 872.3,346.2 830.3,382.7 971.3,280.7 991.2,224.5 1044.9,193.9 908.3,305.7 815.7,403.8 923,290.4 1030.2,208.5 1043.1,170.4 1035.1,221.3 1030.2,154.3 1001,186.2 796.2,393.3 921,290.2 1059.2,131.6 903.5,306.7 986.3,238.3 947.4,214 938,299.1 993.1,243.1 971.4,262.1 974.5,242.9 913.2,343.1 874.9,298.9 967.4,247 934.2,306.2 926.1,264 1020.5,230.1 976.2,245.8 762.1,442 1083.9,166.7 969.1,291.2 745.8,485.7 1069.3,158.7 967.5,249.3 971.7,199.5 897.1,291.6 879.9,320.7 946.5,271.7 993,239.8 1082.2,165 948.2,278.2 1001,197.3 976.3,235.5 991.2,216.1 806,381.7 1025.4,173.4 806,373 940.2,269.6 918.1,294.4 1049.8,147.2 747.4,430.2 1015.5,209.4 952.5,264.2 903.5,305.2 993.8,249.2 977.7,263.3 898.6,319.5 924.3,299.3 923,307.6 937.6,237.4 880,314.8 953.8,262.3 918.8,301.1 961.4,258.2 990,227.7 757.2,420.4 830.3,347.8 908.3,185.1 898.6,321.6 919.6,318.6 991.2,227 849.8,307.6 923,253.1 966.7,240.6 888.8,338.2 978.4,225.9 810.8,391.2 944.1,307.9 747.4,415.2 1021.2,244.1 849.8,306.5 810.8,372.2 947.9,295.1 1056.5,207.1 1005.5,226.3 875.3,298.6 970.9,276.2 984.1,228.2 1001,207.6 1035.1,147.4 1108.3,109.6 996.1,232.7 820.6,390.5 976.5,236 946.5,295.8 942.5,221.5 849.8,387.1 937.6,252 940.3,277.9 934.4,300.4 977.7,252.9 959.6,264 849.8,362.4 1069.3,175.6 980.9,217.1 937.6,267.1 939,288.2 915.3,290 766.9,405 845.2,357.3 998.6,200.2 991.2,206.1 942.4,275.8 830.3,376.3 989.7,223.5 964.9,281.2 1010.7,214 966.9,308.3 1010.7,200.1 1030.2,184.6 874.2,311.5 951.7,257.2 776.7,394.9 974.9,291.2 1040,134.6 801.1,372.9 918.1,305.2 1001,229.4 1003.2,238.8 901.4,289.9 937.6,283.9 825.5,354.1 996.1,194.7 886.2,282.8 976.6,211.3 796.2,415.7 991.2,196.3 965.2,241.2 957.1,219.3 956.9,259.4 957.8,294.6 796.2,426.6 967.5,257 845,371.1 888.8,308.8 913.2,365.6 913.2,307.1 1010.7,172.2 864.5,320.7 762.1,439.1 815.7,366.3 1001,260 929.8,280.4 913,289 1020.5,175.9 976.6,291.9 747.4,414.5 1010.7,227.4 923.3,296.1 974.2,248.8 825.5,356.5 955.6,304.4 986.4,153.5 879.1,280.6 918.1,247.7 959.5,247.6 1098.5,135 1015.6,183.9 903.5,303.6 952.2,269.2 845,351.3 956.3,263.4 952.2,295.8 898.6,292.7 954.6,274.4 1030.2,190.1 810.8,406.8 874.2,293.5 840.1,340.6 969.5,244.1 932.7,231.1 835.2,386.5 969.8,238.6 864.5,339.3 938.1,278.4 913.2,257.5 984.7,242.4 1067.7,176.3 937.6,257.3 1025.4,201.4 1044.9,172.8 972.8,234 874.2,326.1 835.2,375.1 888.8,267.2 796.2,416 986.4,263.1 1059.5,193.6 989.9,227.4 801.1,387.7 1049.8,185.7 952.2,233.3 1064.4,197 951.6,286.7 869.3,328.3 942,264.7 957.1,226.4 967.2,234.4 1079,110.2 952.2,237.3 903.5,339.5 1010.7,209.9 962,255.2 1001,210.4 1040,159.2 1005.9,223.8 1069.3,168.8 801.1,373 796.2,390.8 840.1,340.9 879.1,319.5 879.1,315 1030.2,170.2 902.5,271.3 932.1,280.8 993.9,221.4 1001,206.9 944.1,273.4 786.4,399.8 967.4,266.2 996.1,199.9 986.4,232.6 996.1,229.3 954.1,241.8 815.7,372 923,283 815.7,393.2 937.7,255 923,280.5 913.2,279 937.6,287.2 825.5,370.1 971.9,254.5 922.6,275.1 864.5,349.6 954.8,279 752.3,481.9 947.4,230.7 854.7,277.8 752.3,425.7 927.9,254.6 849.8,354.6 1005.9,215.1 955.8,275.9 960.9,267.1 776.7,467.9 996.1,235.8 976.6,269.1 1009.8,195.9 810.8,391.3 864.5,354.7 910.1,290.4 953.3,243.9 847.1,386.9 1054.6,192 849.8,342.7 1035.1,182.2 859.6,324.9 893,312.3 815.7,386.6 810.8,391.2 996.1,256.1 930.4,297.4 796.2,398.7 950.3,285.9 747.4,447.9 923,328 1009.1,220.5 874.2,320.5 957.1,264.1 771.8,388.8 1001,237.7 835.2,340 879.1,296.4 934.8,260.7 923,297.6 1005.9,212.8 1103.4,171.3 952.4,262.2 864.5,327.6 937.6,284.7 1012.1,235.8 1030.2,198.2 786.4,387.7 982.4,245 806,412.3 781.6,410.1 840.1,370.2 975.4,236.9 953,258 912.4,284.6 929,249.8 966.9,213 898.6,277.9 1005.9,210.8 796.2,384 747.4,478.8 786.4,416.1 747.4,445.3 810.8,406.4 976.6,262.1 801.1,352.7 1001.3,219.8 791.3,415.4 854.7,322.4 973.2,248 1035.1,188.9 987.4,221.6 776.7,392.7 854.7,407.5 1049.8,162.9 888.8,287 976.6,273.5 948,270.9 1031.1,184.3 898.6,314.7 849.8,332.1 944.5,276.4 752.3,468.7 948.9,301.5 1059.5,160.9 888.8,270.7 849.8,327.2 893.7,341.8 849.8,303.2 874.2,328.7 944.9,280.4 771.8,379.6 932.7,257.6 962.8,244.6 1088.8,154.9 924.3,285.2 791.3,405.7 936.5,286.8 1025.4,223.7 1088.8,201.6 879.1,333 947.4,228.1 923,282.1 752.3,374.8 762.1,437.2 854.7,332.9 969.5,281.5 933.8,274.8 947.6,297.4 1010.7,217 991.2,222.4 840.1,366 810.8,400.7 974.1,246.9 963.4,284.2 955,252.4 988.1,243.1 752.3,418.6 960,271.8 916.4,287.3 899.4,332.1 854.7,350.5 999.1,219.7 1074.1,151.7 879.1,342.9 820.6,375 1056,188.1 1088.8,152 859.6,334.3 944.6,290.2 825.5,365.3 810.8,401.2 771,420.6 806,372.2 859.6,348.4 939.8,293 971.5,246.4 993.8,247.4 801.1,379.8 1044.9,260.1 1020.5,228.6 854.7,382 978.1,257.3 845,348.4 976.6,301.8 962.9,260.8 938.1,268.6 830.3,365.8 1083.9,92.9 820.6,338 888.8,346.9 815.7,358.2 752.3,434.1 940.8,298.1 913.9,266.8 786.4,428.3 1069.3,172.9 946,301.3 971.7,253.2 928.4,297.6 996.1,218.3 966.9,138.2 742.6,419.7 879.1,342.8 991.2,261.3 960.5,271.3 1049.8,173.8 786.4,384.6 976.6,259.3 935.3,278.8 766.9,422.9 996.1,193.2 1059.5,204.9 1001,188.8 932.7,292.2 937.6,287.5 951.5,292.5 940.4,269.5 1005.9,254.9 903.5,309.3 992.8,231 918.1,275.5 947.4,222.3 1000.9,206.1 979.9,254.2 835.2,348.9 937.6,283.4 878.7,306.3 776.7,392.1 1103.4,118.3 967,253.9 937.6,242.5 987,244.2 951.9,285 903.5,318.6 997.7,244.6 1001,214.6 966,245.6 996.1,160.7 896.2,290.7 997.7,227.8 946.6,266 996.1,285.4 835.2,363.1 988.1,221.2 893.7,306.3 923,300.6 896.1,323 971.7,225.4 1020.5,213 1005.9,163.2 905.2,292 926.5,288.6 996.1,205.1 976.6,187.1 976.6,256.6 1064.4,181.9 820.6,399.5 942.9,271.9 991.2,219.8 922.4,293.2 1002.6,241.4 892,336.8 810.8,407.6 965.9,229.9 791.3,427.7 986.4,183.6 849.8,321.2 1005.9,202.2 971.7,253.1 911.5,309.5 845,317.3 884,291.2 874.8,333.2 938.2,279 1015.6,217.4 918.1,276.2 974.8,240 825.5,320.5 864.5,342.3 937.1,283.2 1010.7,205.6 1098.5,117.5 796.2,401.6 874.2,265.5 810.8,363.9 935.6,281.3 903.6,317.4 965.3,254.1 971.4,253 951.4,237.7 879.1,326.6 1011,251.1 796.2,402.4 969.7,231.6 757.2,399.3 962,242.2 879.1,338.1 986.4,243.8 1040,162.9 806,371.4 982.9,259 781.6,435.9 937.6,285.6 864.5,345.4 1069.3,177.1 786.4,367.4 962,251.4 747.4,437.8 1005.9,187.8 1020.5,203.3 982.7,220.3 981.5,227.2 898.6,281.3 781.6,408.5 1020.5,218.3 815.7,372 955.8,260.4 893.7,326.7 810.8,404 877.4,328.9 991.2,295 769.8,438.2 931,282.7 935.6,283.9 869.3,301.5 806,399.2 1025.4,171.4 952.7,274.5 781.6,390.8 938.4,294.8 1016.5,164.3 1079,151.7 914.5,300.2 849.8,345.4 900.6,302.7 947,273.8 1049.8,138.5 933,276.1 786.4,422.5 840.1,340.8 1044.9,188.9 990.2,261.9 975.2,238.6 972.1,237.4 845,352.6 991.2,214.3 1103.4,128.2 849.8,346.5 938.8,283.3 1010.7,213.1 1074.1,141.6 899.8,329.7 835.2,323.7 1079,173.1 975,244.9 820.6,390.4 922.4,294.3 939.4,274.8 864.5,319.3 947.4,245.9 806,381.1 974.2,233.3 994.2,227.3 820.6,360.2 874.2,279.4 940.3,259.4 815.7,388.9 943.6,295.6 796.2,363.7 908.3,284.6 908.3,251 815.7,370.7 959.2,291.9 1025.4,176.9 776.7,414.5 992.2,216.9 923,315.6 946.7,288.1 966.8,242.5 954,286.1 955.4,291.8 991.2,195.2 752.3,449.8 895.6,291.8 772.4,411 936.8,271.1 970.2,266.6 938.2,276.6 991.2,251.6 766.9,420.6 1001.8,228.8 958.6,247 1035.1,154.9 1001,184.6 1010.7,183.5 1035.1,186.1 981.5,210.5 953.8,259.8 864.5,353.5 957.1,278.2 981.2,237.4 936.9,269 962.2,267.8 947.4,269.4 854.7,361.5 971.5,261.9 1054.6,151.2 888.8,302 923,290.4 869.3,316.7 815.7,414.3 752.3,414.5 994.8,243.6 830.3,354.9 988.3,265.4 984.6,218.8 1014.2,217.8 962,266.4 885,326.5 845,328.7 998.4,233 961.5,261.6 947.4,234.6 1006.4,244.3 835.2,327.9 980.9,253.9 913.2,327.8 1020.5,214.2 820.6,346.1 936.2,285.1 766.9,358 1010.7,239.6 962,278.3 766.3,399.4 977.8,219.7 786.4,417.5 898,298.9 893.7,291.6 947.4,263.9 953.5,277.7 961.2,275.1 966.9,267.8 971.9,267.4 874.2,405.8 950.3,271.4 936.2,277.3 951.4,264.4 954.5,257.8 916.7,311.5 984.9,241.5 936.3,292.5 1049.8,116.6 820.6,337.8 967,260.1 1064.4,150 955.6,246.4 1079,173.7 865,309.1 810.8,338.3 1049.8,195.7 986.4,230.2 888.8,311.3 1074.1,157.9 781.6,394.8 939.5,278.7 864.5,325.8 1005.9,228 944.6,228.4 1040,205.6 854.7,328.6 845,370.4 973.8,240.8 947.4,255.7 970.3,243.7 1020.5,191.7 884.4,333.4 935.1,293.7 895.5,325.8 914.2,299.6 1035.1,195 1054.6,198.4 981.5,210.3 820.6,408.4 791.3,399.1 864.5,320.7 962,231.7 825.5,354.2 947.4,257.2 815.7,368.3 1054.6,173.4 936.1,274 913.2,287.1 879.1,353.9 854.7,316 898.6,321.5 1093.5,99.3 944.6,291.5 957.1,256.4 997.4,236 1011.3,201.1 945.9,244.3 966.9,258.8 986.4,230.3 932.3,286.6 742.6,422.7 1091,179.6 1069.3,190.6 820.6,389.2 1071.7,147.9 952.2,269.6 918.1,310.7 957.6,256.5 854.7,318.5 835.2,352.8 849.8,350.6 814.4,287.9 964.9,278.1 888.8,327.3 932.7,259 1074.1,149.6 893.7,291.9 845,336.4 935.6,300.1 840.1,336 1069.3,163.7 1015.6,198.8 1025.4,216.4 859.6,337.8 988.9,211.4 835.2,388.6 1074.1,198.1 976.6,250.4 916.3,294 888.8,297.1 791.3,410.7 747.4,447.1 854.7,330.5 937.6,260.4 747.4,425.7 854.7,378.4 918.1,312.5 810.8,418 766.9,337.8 964.1,242 830.3,347.5 971.7,271.1 943.4,308.2 931.9,294.3 1074.1,130.2 981.5,210.3 1089,113.6 1025.4,227.3 874.2,356.2 983.8,219.9 1003.1,241.9 1083.9,151.1 918,297.7 1040,175.2 1025.4,236.7 845,337.3 786.4,397.8 801.1,369.8 967,236.2 932.7,274.9 796.2,404.3 979,293.9 918.1,293.4 970,251.5 966.1,267.3 942.5,287.8 932.1,301.7 801.1,381.3 1040,210.6 874.2,338 1057.4,154.4 961.2,286 879.1,283.9 918.1,305.6 953.8,259.9 798.5,402.5 1059.5,148.1 936.2,308.5 1030.2,193.9 815.7,398.8 1010.7,227.9 966,258.8 949.7,262 842.7,378 1079,162.4 1040,169.4 809.6,410 957.1,269.5 964.6,291.8 966.9,271.4 751.4,435 771.8,432.2 849.8,356.2 1059.5,164.2 849.8,372.4 973.1,256.7 1069.3,141.7 1025.4,241.9 1001,242.7 771.8,432.9 1054.6,146.6 1001,205.4 854.7,343.1 942.5,242.8 1054.6,146.1 939.2,254.9 752.3,420.2 965.4,241.6 1030.2,202.1 845,349.9 901.7,289.9 992.3,244.3 1006.8,220.4 932.7,252 981.4,281.8 976.6,252.9 942.5,293.1 830.3,377.1 849.8,342.7 976.6,217.2 1010.7,200.2 1005.9,249 786.4,410.3 947.8,283.9 960.7,264.4 859.6,341.4 776.7,391.4 1079,145.8 908.3,309 1035.1,145.5 978.2,216.6 840.1,356.1 898.6,303.2 947.4,253.8 1025.4,195.8 874.2,329 957.1,275 941.6,285.7 960.2,252.3 966.9,243 998.8,193.7 1030.2,196.8 879.1,282.8 947.4,269.7 958.5,257.1 980.2,262.2 962,295 929.3,278.3 796.2,395.1 786.4,393.2 991.8,253.5 971.1,258 752.3,457.2 968.4,236.7 849.8,336.2 830.3,359.8 940.4,288.5 981.5,168.9 888.8,336.8 952.8,282.6 1049.8,170.1 1010.7,220.3 971.7,218.7 874.2,269 840.1,348.7 908.3,282.9 898.6,210.3 964.2,282.1 1079,157.2 992.6,237.2 934.5,272.2 1074.1,110 766.9,432.8 976.6,231.7 947.4,280.9 930.8,280.1 986.4,191.1 888.8,298.9 913.2,293.4 898.6,298 923,261 962,251.6 982,242.2 1069.3,141.4 1008.1,201.7 893.9,359 967.8,256.8 970.4,266.3 1035.1,149.2 947.2,284.9 1005.9,228.4 830.3,338 810.8,365.8 937.6,240.7 1005.1,222.9 1064.4,131.6 927.9,263.8 939.9,276 1030.2,215.7 937.6,273.4 884.7,280.7 996.1,236.6 951.4,255 990.3,230.6 1074.1,198.7 898.6,306 918.1,274 810.8,388.9 996.1,224.9 947.4,279.1 963.4,284.6 893.7,304.7 1040,163.3 971.6,243 1040,209.8 937.6,249 923,275.7 796.2,378.9 949.1,249.3 924.3,279.8 815.7,360.3 830.3,343.9 903.5,246 984.6,261.6 1088.8,115 950.5,278.2 972.6,254.2 919.1,302.7 908.3,297.9 988.6,242.9 1064.4,140.5 978.2,233.1 913.2,260.5 747.4,433.7 896.9,331.1 796.2,356.3 937.6,286.5 1079,139.6 979.4,256.9 864.5,347.4 947.4,245.4 913.2,313.3 909.9,301 935.4,281.2 986.4,215.9 825.5,349.9 1092.7,128.6 752.3,442.3 893.7,305 835.2,369.3 1064.4,176.5 1005.9,236.7 781.6,430 1069.3,160.2 952.2,264.3 942.5,305.3 947.4,238.5 987.9,228.6 1030.2,197.1 766.9,350.7 948.5,274.2 1000.3,235.1 1074.1,141.3 752.3,417.9 952.2,226.2 762.1,401.9 912.4,308.7 845,293.9 1025.4,220.3 806,384.2 954.6,242 1132.6,57.9 1103.4,122.1 747.4,421.8 893.7,323.5 981.5,224.1 1074.1,154.3 973.3,261.4 1030.1,270.8 936.2,241.7 849.8,344.4 923,267.4 830.3,360.1 910.5,309.5 791.3,400.9 901,305.8 932.7,352.8 893.7,274 932.6,288.3 942.5,260.3 977.9,277.5 958.9,253.5 1015.6,225.7 931.8,292.4 1007.9,184 903.5,284.7 951.8,285.6 820.6,363.5 898.6,286.5 1030.2,191.3 1010.7,208.7 902,332.5 781.6,430.3 801.1,366.8 898.6,349 918.1,316.4 1044.9,139.2 830.3,371.4 996.1,216.1 939.9,311 1005.9,208.4 988.1,246.5 944.5,267.2 906,313.5 911.8,310.7 967.1,278.1 938.1,274 1020.5,214.3 981.7,233.9 810.8,371.3 1020.5,193.1 907.8,309.8 937.6,277.2 806,374.5 948.7,272.7 981.5,289.3 962,254.6 898.6,305.9 864.5,307.4 981.5,262.2 806,337.4 939.5,276.4 874.2,352.3 958.3,247.6 898.6,309.6 815.3,364.3 961.7,278 992.4,213.9 874.2,339.2 854.7,375.7 956.1,260.8 752.3,451.8 952.2,230.9 921.1,294.6 923,265.8 951.6,269 952.9,297.3 942.5,260.5 1025.4,232.5 1064.4,150.1 776.7,405.5 1015.6,237 806,373.7 932.6,287.2 815.7,363.4 988.3,241.7 820.6,343.2 896.1,333 835.2,380.8 942.8,269.3 926.9,303.4 923,284 1074.1,182.5 979.6,260.2 923,235.9 911.8,311 830.3,357.4 1011.5,187.4 927.9,280.8 1049.8,211.7 969.5,289.2 981.5,231.9 806,358.2 936.9,275.6 949.5,261.3 937.6,287.5 791.3,390.5 752.3,408.2 820.6,381.2 957.5,268 786.4,421.7 942.5,272.7 1020.5,209.2 1069.3,181.2 879.1,320.2 952,240.8 932.7,262.9 996.1,209.3 908.3,272.9 810.8,457.2 933.6,285.3 985.8,232.4 786.4,398.9 905.3,308.4 854.7,344.5 946.9,281.7 888.8,350.8 1078.3,133.7 1083.9,173.3 903.5,273.8 946.6,319.1 752.3,439 810.8,366.6 810.8,359.7 1035.1,216.9 957.1,250.4 927.9,282.7 931.6,274.2 879.1,331.2 747.4,421.7 905.5,327.7 918.1,333.9 928.5,300.8 987.3,261.3 1054.6,137.9 966.2,244.4 893.7,287.2 1040,207.2 991.7,253.1 820.6,365.3 937.6,262.5 950.4,245.4 1015.6,226.4 752.3,452.8 893.7,342.8 810.8,365.4 926.5,304.6 956.3,273.8 909.5,287.7 781.6,404.3 771.8,429.7 742.6,435.3 810.8,329.1 913.2,281.8 981.3,221.4 806,363.7 956.6,267.1 791.3,412.7 962,235.5 752.3,454.8 948.6,291.3 786.4,389.9 1074.1,155.7 849.8,330.8 998.8,228.4 953.1,256.6 1054.6,184.9 879.1,334.5 801.1,396.1 893,284.4 752.3,429.5 1035.1,191 973.3,261.2 1049.1,150.2 1007,222.7 786.4,406.9 810.8,412.8 830.3,329.8 939.2,270 995.6,227.1 815.7,371.7 910.7,307.9 986.4,279.6 776.7,411.6 869.3,317.1 918.1,285.5 1088.8,86.4 903.3,328.5 810.8,384.5 924.5,263.3 1005.9,205.9 971.4,250.7 932.7,258 835.2,318.8 965.7,245.8 854.7,369.4 801.1,382.7 1001.7,238.9 854.7,358.6 988.3,213.3 914.3,286 1069.3,155.7 1040,208.5 1040,182.2 830.3,356.6 969.4,254.2 922.1,289.7 917,341.5 949.2,280.1 966.9,276.6 921.6,272.9 786.4,363.4 987.1,254.7 925.2,289.1 940.3,261.8 893.7,358.7 1049.8,243.4 947.4,214.4 815.7,370.2 996.1,195.5 898.6,242.5 903.2,291.9 1020.5,199.2 938.6,297 849.8,404 913.2,316.1 969.3,244.9 884,352.8 757.2,456.2 957.1,214.4 870.7,359.7 835.2,360.2 938.4,275.5 864.5,336.1 806,370.6 869.3,350.9 1015.6,208.1 757.2,425.8 974,274.3 942.5,263.1 943.6,285.3 923,302.1 762.1,406.7 762.1,421 966.6,271.7 933.7,304 908,300.6 971.7,250.3 996.1,235.9 849.8,330.8 946.9,272.9 1054.6,229.9 928.9,290.2 810.8,390.3 1025.4,186.7 957.1,220 835.2,342.2 962.8,239.8 971.9,244.9 984.9,250 825.5,388.5 825.5,364.7 986.7,237.8 1049.8,172.6 1053.7,166.6 971.7,243.2 1069.3,139.3 971.7,227 830.3,351.9 796.2,386 908.3,305.1 966.9,194 947.4,265.7 1020.5,231.7 801.1,389.7 1010.7,211.9 971.4,250.1 1005.9,204 1083.9,163.6 752.3,414.4 815.7,377.9 977.1,240.8 946.4,290.7 940.9,268.5 970.1,246.1 949.1,294.8 971.7,266.8 1079,143.3 916.2,302.7 1059.5,153.1 947.4,293.4 919.8,302.7 810.8,379.9 1044.9,179.5 966.9,255.8 950.2,279.9 984.9,246.5 931.8,281.5 968,273.2 960.9,243.5 922.4,288 1001,214.7 965.1,256.3 1005.9,215.6 932.7,288 884,319 1074.1,133.3 869.3,324.9 937.8,273.5 971,258.9 959.1,277.9 1015.6,236.3 996.1,214.3 825.5,376.4 944.5,302.4 747.4,419.1 859.6,305.2 845,361.3 997.6,221.8 945.1,268.3 825.5,392.6 908.3,287.6 994.3,253.5 958.6,281.3 1054.6,172.7 980.4,217.2 806,395.1 967.4,222.6 1049.8,182.4 976.2,267.4 923,248.1 924.5,301.6 796.2,405.9 957.8,263.1 771.8,449.3 864.5,353.8 981.5,188 859.6,297 969.6,279.8 1049.8,192.6 757.2,423.3 893,303 939.5,300.8 884.8,333 957.1,301.3 864.5,335.9 845,372.8 1059.1,161.8 960.3,273.8 923,278.4 965.7,260.8 815.7,361.8 918.9,281.9 810.8,379.1 781.6,436.1 970.5,270.8 810.8,393.5 874.2,305.1 879.1,277.2 1036.2,198.6 1005.9,205.4 854.7,320.9 908.3,298.8 854.7,393.4 927.9,278.7 933.7,290.9 820.6,376 925.3,288.6 973.2,230.5 1020.5,222.4 927.9,299.9 964.4,265.7 864.5,282.6 919.6,275.3 915.4,316.2 952.2,228.7 1093.6,146.8 968.6,293 950.6,271.2 986.4,225.7 958.2,262.3 747.4,402.5 927.9,262.5 991.2,251.2 934.2,305 983.5,235.3 781.6,439.9 947.4,250.9 888.8,348.6 747.4,462.4 766.9,418.6 1069.3,162.9 949.2,252.6 1100.5,155.3 984.7,234.2 981.5,246.3 953.8,293.6 771.8,407.6 1035.1,176.2 991.9,241.3 948.8,269.1 963.6,248.9 1015.6,237.1 976.7,252.2 1079.8,179.3 747.4,439.7 885.5,317 971.7,225.5 947,271 959.8,262.8 953,274.4 776.7,388.2 1074.1,171.7 888.8,302.9 898.6,324.3 938.2,272 1010.2,196.2 786.4,372.8 1088.8,81.5 1054.6,170.3 950.3,246.1 918.1,263.6 1020.5,203.9 801.1,416 973.4,247.7 879.1,301.5 801.1,370.5 888.8,256.4 1020.5,216.1 796.2,331.8 937.2,261.3 801.1,400.3 815.7,387.2 951.4,274.3 893.7,317.4 995.3,253.3 884,335.4 922.2,271.5 925.6,277.9 976.6,214.2 849.8,341.5 932.7,335.2 781.6,405.2 830.3,392.6 974,241.9 1079,148.1 962.7,259.8 897.4,327.8 935.3,278.2 859.6,312.8 1010.7,228.8 963.5,213.8 949.5,301.3 1015.6,180 932.7,372.8 996.1,223.7 967.1,272.7 1059.5,162.6 890.8,338.4 953.3,291.9 854.7,348.9 825.5,309.6 1079,111.2 962.3,238.7 1088.8,141.3 968.7,262.6 810.8,412.6 859.6,368.6 951.6,288.1 884,283.1 938,281.3 932.7,276.1 830.3,366.5 908.3,323.4 884,353.1 971.7,188.3 931,277.4 1069.3,185.8 859.6,333.8 996.1,291.8 952.2,261.2 1098.5,104.6 927.9,292.4 801.1,401.6 1088.8,136 1005.9,181.1 879.1,322.7 932.9,264 976.6,218.9 923.1,286.7 906.3,291.5 954.9,262.7 955.4,262.7 786.4,451.1 1059.5,190.4 958.7,251.8 893.7,308 902.1,294.2 950.2,285.4 931.6,312.4 954.3,258.2 986.4,182.5 904.2,341.6 941.5,295.1 810.8,354.9 900.3,327.4 1001,227 835.2,387.3 897.1,311.1 796.2,398.4 1035.1,192.7 1005.9,198.8 937.6,253.8 937.6,289.4 776.7,389.5 949,267.2 971.7,227.6 1079,159.9 864.5,317.4 874.2,351 915.1,294.1 1026.7,234.7 742.6,470.2 957.6,262.6 884.7,294.8 1030.2,198.9 766.9,425.3 869.3,323.9 815.7,386.5 1020.5,189.5 820.6,371.3 1040,191.5 810.8,358.8 752.3,413.2 942.5,317.6 949.5,288.8 914.9,295.3 863.8,326.4 912.8,304.2 869.3,360.5 919.3,297.2 939.3,286.5 1015.6,203.1 885.2,305.7 924.6,282.8 1069.3,138.8 1035.1,180 944,288.1 914.9,304.7 935.6,300.6 966.9,217.5 766.9,445.7 891.9,301.6 893.7,333 947.4,203.6 930.8,315.9 791.3,374.4 752.3,421.8 991.5,239.9 830.3,352.6 835.2,354 1074.1,134.9 937.9,264.6 942.5,228.5 781.6,378.4 966.9,281.1 1020.5,190 918.2,297.7 846.9,352.8 976.6,213.2 971.7,238.3 1020.5,244.4 1025.4,202.6 938.1,285 1005.9,226.2 976,248.5 820.6,382 924.5,275.6 820.6,362.9 859.6,337.5 962,283.6 898.6,280.8 991.2,204.1 986.4,242.4 948.6,280.6 1044.9,196.8 796.2,397.5 806,405.7 1010.7,186.8 1059.5,218.9 958.3,293.6 1013.1,210.2 982.3,264.1 955.2,291.3 973.9,245.3 864.5,292.5 893.7,301.3 854.7,322.6 937.4,290.4 840.1,348.9 922.7,321.1 937.4,295.6 791.3,401.6 1013.9,225.6 954.7,284 936.7,277.6 874.2,302.4 952.2,259.8 1015.6,163.1 982.4,210.9 854.7,353.4 918.1,310.3 967.7,242.9 939.2,251.7 884,307.7 791.3,389 918.6,328.4 840.1,346 955.1,267.9 930.1,292.9 815.7,379.8 955.6,255.9 810.8,364.2 869.3,374.1 796.2,362.4 963.4,255.2 1063.9,147.9 991.2,197 999.9,239.5 859.6,307.6 926.9,292.4 937.6,296.7 942.5,331.2 1069.3,151.3 1010.7,216.6 918.1,284.1 825.5,350.6 980.5,240.8 742.6,450.1 742.6,434.6 947.4,291.3 791.3,395.9 946.1,273.3 869.3,319.2 1001,214.4 918.6,301 903.5,282.2 849.8,329 917.8,299.3 1030.2,189.5 1088.8,153.8 1010.7,213.6 913.7,315.5 1069.3,128.9 982.1,220.5 937.5,283.5 976.6,187.4 939.6,270 942.5,239.8 981.5,208.9 864.5,361.6 897,295.2 919,281 835.2,361.8 830.3,359.9 849.8,337.3 791.3,403.3 1071.7,177.9 766.9,405.3 931.9,288.6 879.1,341.5 916.9,270.9 986.4,208.3 979,290.9 1000.7,223 854.7,373.1 952.2,242 884,326.5 1005.9,198.6 1020.5,195.3 849.8,329.9 864.5,345.9 981.5,244.9 796.2,387 1132.6,190.2 1020.5,177.9 801.1,408 1054.6,186.6 789.2,386.6 937.6,288.5 1020.5,187.8 899.9,294.8 931.8,261.8 1010.7,233.6 966.9,245.6 849.8,330.2 879.1,324.5 825.5,362.1 898.6,321.3 965.3,230.5 962,254.5 941.8,294.1 1074.1,201.9 1059.5,166.9 811.2,346.7 771.8,376.5 752.3,442.6 996.1,219.1 840.1,392 952.2,261.5 747.4,442.5 1118,132.4 1093.6,141 954.7,255.1 1079,134.5 965.8,247.4 810.8,377.5 949.9,289.3 913.2,241.8 968.3,259.2 906.1,304.3 993.3,223.9 879.1,323.2 940.8,295 986.4,299 993.4,200.4 923,289.8 927.9,271.8 967.3,257.6 913.2,311 1064.4,158.2 991.2,268.4 845,366.3 948.7,259.9 981.5,209 918.1,312.2 830.3,356.2 911.1,319.8 1030.2,212.1 966.4,254.6 942.5,215.1 888.8,288.7 1064.4,163.7 981.5,248.9 951.2,277.8 1054.6,206.9 981.5,248.4 810.8,397.9 923,222.3 928.2,282.9 1037,208.3 986.4,208.6 953.6,258.8 752.3,415.3 935.8,291.7 1070.7,112.7 932.7,278.5 854.7,352.8 776.7,421.8 864.5,316.4 771.8,418.7 876.8,298.2 914.1,285.7 956.6,273.2 1054.5,185.5 1015.6,170.4 1004.7,161.4 1054.6,188.2 981.5,230 892.9,295.8 918.1,299.7 986.4,215.9 978.3,243.6 825.5,398.7 974.5,269.5 879.1,295.4 947.4,276.7 969.4,260.3 942.5,276.9 974.4,268.2 923,265.7 942.5,255.4 674.3,362.5 674.3,415.9 747,532 777.2,512.6 1035.6,372.2 966.9,365.9 995.6,47.4 1030.2,43.6 1108.3,49.9 1136.5,51.8 1157,73.7 1079,58.6 1044.4,63.9 873.7,155.7 944.9,132.4 961,162.5 903,187.3 837.2,244.6 752.3,345.5"/>
<path class="ln" d="M674.3 519.6 L1157 62.9"/>
<rect class="fr" x="650.6" y="25.3" width="530.7" height="516.9"/>
<text class="t tick" text-anchor="middle" x="674.3" y="559.4">0</text>
<text class="t tick" text-anchor="middle" x="771.8" y="559.4">20</text>
<text class="t tick" text-anchor="middle" x="869.3" y="559.4">40</text>
<text class="t tick" text-anchor="middle" x="966.9" y="559.4">60</text>
<text class="t tick" text-anchor="middle" x="1064.4" y="559.4">80</text>
<text class="t tick" text-anchor="middle" x="1161.9" y="559.4">100</text>
<text class="t tick" text-anchor="end" x="644.0" y="535.5">0</text>
<text class="t tick" text-anchor="end" x="644.0" y="438.4">20</text>
<text class="t tick" text-anchor="end" x="644.0" y="341.3">40</text>
<text class="t tick" text-anchor="end" x="644.0" y="244.2">60</text>
<text class="t tick" text-anchor="end" x="644.0" y="147.1">80</text>
<text class="t tick" text-anchor="end" x="644.0" y="50.0">100</text>
<text class="t lab" text-anchor="middle" x="916.0" y="576.7">Chronological Age (y)</text>
<text class="t lab" text-anchor="middle" transform="translate(612.5 284.1) rotate(-90)">Epigenetic Age (y)</text>
<path class="ll" d="M661.6 42.5 H686.7"/>
<text class="t leg" x="696.5" y="47.1">Cluster LM</text>
<text class="t leg m" x="769.3" y="47.1" xml:space="preserve"><tspan class="i">f</tspan>(<tspan class="i">x</tspan>) = 0.950<tspan class="i">x</tspan> + 2.356,<tspan dx="2.9" class="i">R</tspan><tspan class="sup" dy="-4.6" dx="1.0">2</tspan><tspan dy="4.6" dx="0.9"> = 0.887</tspan></text>
<text class="pl" transform="translate(602.60 29.7) scale(0.950 1)">B</text>
</g>
<g id="panel-C">
<polyline class="pts" points="1500.7,360.2 1544.6,250.4 1523.2,303.8 1403.2,398.2 1518.7,276.2 1635.2,205.4 1682,156.6 1550.7,267.5 1505.6,283.7 1518.9,260.6 1413,366.3 1378.9,416.7 1488,290.5 1578.7,239.1 1481.2,324.8 1598.2,206.8 1403.2,380.8 1515.3,265.5 1558.4,238.9 1517.8,303.2 1339.9,432.8 1413,357.5 1447.1,355.3 1563,254 1593.3,186.6 1383.8,412.8 1456.9,298.2 1576.1,246.8 1452,360.1 1510.3,294 1569,248.9 1617.7,200.7 1383.8,402.7 1549.5,284.9 1640.8,202.8 1534.7,252.2 1417.9,385.8 1603.1,230.9 1588.5,192 1551.4,246.1 1364.3,420 1544.8,269 1530,270 1671.3,141.8 1588.5,215.8 1564.1,199.8 1419.2,348.3 1642.1,168 1461.7,323.9 1383.8,400.5 1526.5,283.4 1691.2,168.4 1612.8,200.8 1486.1,296.2 1547.1,263.6 1567.6,271.6 1496.1,321 1427.6,366.2 1505.6,308.8 1408.1,373.8 1408.1,371 1515.3,288.7 1568.6,270.2 1456.9,330.4 1456.9,336.8 1492,301 1583.6,243.6 1460.8,320.5 1656.7,170.3 1542.7,269.9 1529.2,258.5 1469.6,296.4 1612.8,194.1 1574.5,228.5 1432.5,350.7 1666.4,164.4 1506.2,291.1 1617.7,207.7 1491.8,321.6 1646.4,162.9 1646.9,155.5 1359.4,417.7 1495.9,312.8 1526.1,278.2 1514.5,290.3 1524.3,270.8 1530,298.7 1501.7,296.9 1432.5,354.9 1661.6,147.8 1525.4,293.4 1339.9,444.2 1569,207.2 1481.2,300.7 1539.7,273.8 1664.6,127.4 1330.1,441.8 1521.9,282.1 1335,456.4 1493.2,304.4 1422.7,376.3 1520.2,267.5 1534.8,262.5 1495.9,303 1549.5,244.9 1572,233.4 1569,202 1685.9,180.6 1408.1,361.4 1530.8,285.5 1598.2,224.7 1427.6,361.7 1520.2,321 1471.5,331.4 1393.5,394.8 1503.6,295.4 1656.7,142.7 1539.9,277.5 1525.1,271.8 1403.2,392.7 1437.4,340.7 1510.5,287.3 1432.5,364.7 1447.1,347.5 1622.6,197.7 1546.8,223.6 1656.7,153.8 1588.5,240.2 1632.8,184.7 1554.3,212.2 1564.1,266.7 1587,226.7 1359.4,427.6 1330.1,472.3 1494.2,285.3 1569,254.4 1354.5,418.7 1393.5,405.4 1437.4,355.7 1581.5,238.9 1622.6,207.5 1584.6,245.7 1378.9,410.2 1456.9,347.4 1586.6,220.9 1378.9,408.5 1427.6,378.6 1598.2,185.2 1566.1,280.7 1551.3,245.7 1558.5,256.9 1533.4,259.7 1520.2,286.3 1637.2,194.4 1534.8,235.9 1369.1,409.8 1598.2,223 1554.3,228 1456.9,335.5 1686.2,176.5 1569,221.6 1498.7,296.9 1479.8,314.4 1560.3,256.2 1530,257.9 1502.7,300.9 1408.1,363.6 1685.9,182.9 1534.1,265.8 1582.4,202 1517.5,301.9 1547.9,257.1 1515.2,292.4 1531.7,293.1 1549.5,232.9 1690.8,163.7 1561.3,262.1 1671.3,135.7 1563.1,230.3 1544.6,245.2 1427.6,357.1 1413,345.9 1510.5,279.9 1393.5,367.3 1550.4,274.4 1578.7,221 1564.2,225.2 1354.5,399.6 1471.5,309.3 1588.5,201.4 1551.1,247.1 1578.7,205.4 1646.9,182.2 1530,258.1 1520.2,291.1 1461.7,355 1466.6,298.5 1569,238.5 1456.9,316.5 1612.8,199.3 1452,355.1 1637.2,184 1580.1,245.4 1432.5,368.9 1359.4,455.7 1508.1,295.9 1335,453.8 1354.5,420.6 1523.8,274.3 1374,417.3 1456.9,325.7 1591.7,214.9 1514.5,300.2 1556.6,254.4 1530.9,262.2 1656.7,180.6 1554.8,243.9 1495.9,294 1550,244.5 1632.3,195.3 1520.2,257.4 1393.5,414 1471.5,325 1514.6,268.5 1534.8,264.6 1627.5,157.5 1681.1,164.3 1359.4,424.4 1559.8,259.4 1403.2,375 1598.5,210 1466.6,320.4 1515.3,266 1530,281.1 1547.9,275.8 1523.3,271.9 1383.8,401.5 1546.7,254.5 1608,211.5 1546.7,256.2 1651.8,198.9 1534.8,297.9 1476.4,314.5 1553.6,271.9 1378.9,404.1 1461.7,316.9 1530,246.6 1502.3,290.9 1339.9,467.5 1721.2,143.9 1432.5,365.8 1556.7,241.6 1442.2,358.3 1500.4,284.2 1422.7,376.3 1540.8,286.2 1523.6,269.4 1552.4,234.9 1339.9,447.2 1330.1,480 1476.4,329.3 1530.5,311.1 1408.1,385.2 1330.1,453.6 1537.6,252.1 1559.2,231.5 1646.9,169.8 1516.9,275.9 1534.8,273.9 1566.1,260.4 1568.2,221.7 1559.2,258.9 1588.5,231.2 1549.1,270.1 1538.4,283.2 1511.5,280.7 1512.3,292.2 1374,436.7 1422.7,374.5 1539.4,267.8 1408.1,369.3 1495.8,290.8 1403.2,355.8 1603.1,192.8 1540.3,275 1546,268 1603.1,229.5 1364.3,426.4 1500.7,306.1 1505.6,289.4 1442.2,342.1 1543.7,259.1 1476.4,286.3 1413,377 1398.4,406.3 1666.4,173.7 1588.5,199.7 1548.9,226.6 1369.1,426.1 1510.5,260.1 1534.8,286 1398.4,399.5 1687,163.9 1471.5,302.4 1564.1,240.2 1476.4,289.9 1330.1,450.4 1447.1,326.5 1622.6,171.4 1388.6,390.9 1518.3,287.7 1515.3,295.3 1593.3,228.1 1335,470.5 1520.2,285.8 1507.8,294.9 1491,294.9 1589.9,209.6 1510.5,244 1545.2,292.4 1427.6,384.1 1546.1,259.9 1515.8,280.9 1569.5,238.1 1612.8,203 1561,251.7 1452,331.3 1632.3,200.1 1330.1,460.2 1588.5,228.9 1505.1,311.8 1452,331.5 1539.7,298.2 1504.3,300.8 1600.2,232.4 1622.6,218.9 1530.2,237 1527.4,284.8 1339.9,457.7 1508.6,289.7 1359.4,427.4 1570,241.6 1578.7,189 1500.7,293.5 1544.6,280.6 1681.1,152.8 1398.4,363.1 1554.3,245.1 1530.8,271 1427.6,341.4 1332.8,442 1542.6,236.4 1576.1,246.4 1683,175.2 1537.3,253.6 1427.6,349 1374,414.9 1517.2,300 1476.4,308.4 1383.8,402.8 1456.9,346 1541.6,246.4 1666.4,184.5 1550.5,265.7 1617.7,174.2 1393.5,381.2 1598.2,201.3 1422.7,342 1442.2,368.8 1505.6,292.7 1393.5,396.1 1437.4,351 1452,356.3 1484.4,308 1608,236.6 1388.6,419.3 1471.5,296.3 1568.4,247.7 1456.9,334.6 1388.6,389.4 1417.9,391.1 1369.1,402.1 1413,378.2 1525.1,277.2 1500.6,293.9 1491,286.7 1574.1,251.3 1491,289.4 1549.3,280.4 1584.9,228.5 1422.7,394.7 1369.1,415.6 1398.4,385.3 1398.4,370.8 1388.6,391.4 1476.4,307.5 1563.6,245.2 1495.9,293.7 1541.1,245.2 1545.4,259.1 1666.4,160.5 1447.1,332 1520.7,288.1 1340.2,483.3 1552.6,286 1544.6,244.7 1335,459.3 1569,217.8 1509.6,283.1 1534.8,231.8 1384.9,425.4 1578.7,209 1564.1,236.4 1422.7,334.7 1588.9,225.4 1666.8,169.4 1603.1,227.3 1666.4,169.2 1403.2,366.6 1476.4,289 1517.3,289.4 1403.2,376 1534.8,270.6 1582,243.7 1520.2,285.4 1393.5,413.1 1364.3,414.1 1554.3,259 1602.2,181.4 1369.1,396.3 1349.6,448.9 1456.9,302.2 1554,264.7 1530,292.5 1447.1,335.4 1364.3,413.5 1534.8,253.4 1515.3,294.1 1417.9,342.4 1559.2,237.7 1510.5,275.7 1535.1,280.9 1447.1,323.3 1539.7,254.5 1592.3,249.5 1437.4,328.9 1330.1,463.5 1532.9,275.9 1567,253.2 1608,185.8 1427.6,367 1550,261.4 1637.2,211.8 1393.5,393.3 1525.6,302.1 1544.6,284.6 1480.9,317.3 1581.1,244.4 1476.4,320.2 1442.2,343 1491,280.9 1559.2,230.4 1339.9,465.4 1622.6,171.2 1586.8,236.1 1486.1,274.9 1580.1,233.5 1520.2,279.2 1419.6,363.7 1393.5,384.9 1622.6,214.7 1447.1,330.3 1398.4,400.6 1574.5,249.4 1598.2,226.1 1578.7,250.2 1483,300 1486.1,305 1637.2,171.7 1603.1,243.6 1369.1,419.5 1335,466.3 1622.6,210.8 1466.6,310.8 1569,228 1530.4,275.1 1463.7,322.2 1369.1,400.3 1408.1,351.9 1487.1,293.2 1542.6,242.5 1510.5,281.7 1520,285.3 1569,218.7 1427.6,364.9 1494,275.9 1588.5,216.3 1671.3,174.4 1422.7,387.3 1569,201.9 1505.6,303.3 1579,249.8 1496.6,296.6 1541.1,253.2 1549.5,249.7 1536.6,251.9 1408.1,372.1 1334.8,440.5 1504.7,307.3 1506.7,294.2 1339.9,426.6 1608,209.1 1503.7,284.3 1560.9,241.7 1573.8,229.6 1417.9,380.5 1661.6,199.8 1513.3,291.8 1567.5,248.9 1526.8,269.3 1403.2,371.5 1364.3,411.5 1555.7,266.2 1578.2,245 1534.8,301 1666.4,155.1 1447.1,353.6 1452,366.4 1504.2,322.7 1588.5,212.1 1422.7,376.3 1508.7,276.7 1541.7,269.9 1486.1,290.7 1339.9,447.6 1642.1,183.3 1476.4,319.4 1442.2,350.4 1590,232.3 1510.2,302.8 1549.3,277 1359.4,438.9 1533.3,279.6 1617.7,195.7 1627.5,208.8 1557,256.3 1617.7,242.9 1528.9,263 1705.4,178.1 1481.2,291.1 1534.8,281.1 1535.1,264 1442.2,342.9 1534.8,274 1570.8,261.9 1354.5,424.8 1610.2,188.5 1456.9,337.6 1500.7,279.9 1505.5,301.5 1534.5,260.2 1520.2,299.3 1432.5,340.2 1393.5,374.7 1486.1,330.9 1534.3,278 1681.1,173.4 1612.8,215 1627.5,176.8 1354.5,437.2 1573.8,210.5 1563,225.5 1495.9,311.5 1500.7,314.6 1383.8,390 1442.2,365.5 1471.5,312.6 1540.3,269.2 1588.5,190.4 1617.7,185.6 1608,214.3 1393.5,383.2 1676.2,148.5 1488.2,316 1544.6,251.3 1544.6,218.9 1578.7,232.2 1476.4,295 1551.7,243.7 1374,439.7 1656.7,168.1 1494.7,302.6 1506.2,267.1 1505.6,273 1520,298.4 1554.7,268.2 1504.4,275 1335.7,467.5 1403.2,380 1369.1,416.2 1510.5,275.4 1562.9,226.7 1506,311.6 1515.3,245.7 1548.1,272.2 1608,207.3 1491,292.7 1546.4,242.3 1539.7,206.6 1666.4,172 1651.8,184.1 1578.7,219.7 1442.2,344.1 1495.9,299.9 1563.1,247.2 1549.1,252.6 1515.3,289.3 1486.9,286.6 1531.1,298 1403.2,397.4 1543.8,263.1 1637.2,182.6 1655.4,195.9 1519.3,254.9 1486.1,297.6 1466.6,304.6 1408.1,374.2 1612.8,164.3 1522.9,264.5 1661.6,117.5 1565,235.8 1539.7,264.2 1466.6,335.3 1383.8,415.3 1485.9,319.1 1572.7,233.3 1510.5,250.6 1579.8,262.7 1627.5,206.4 1527.9,278 1564.1,207.7 1499.7,296.4 1700.6,155.3 1551,272.8 1388.6,401 1413,348.1 1404,378.7 1383.8,414.5 1608,210 1471.5,337.9 1413,371.2 1537.9,278 1437.4,350.5 1515.3,282.6 1530,260.9 1513.6,272.6 1547.1,259.2 1530,293 1525.4,277.9 1526.6,306.6 1568.5,241.3 1627.5,196 1395.1,383 1408.1,383.2 1661.6,169.7 1548.1,268.3 1437.4,361.3 1523.7,275.4 1525.1,253.3 1427.6,363.6 1646.9,142.1 1339.9,443 1544.6,268 1466.6,373.4 1583.6,217.7 1605.2,187.2 1569,219.6 1497.9,313.4 1549.5,245.4 1335,477.7 1505.6,291.9 1562.2,245.8 1491,310.7 1574.5,226.2 1531.5,289.7 1560.8,241.7 1573.8,180 1573.8,207.3 1574.1,263.9 1487,305.8 1456.9,334.8 1554.3,238 1515.3,303.7 1646.9,179 1598.2,247.4 1540.8,267.7 1575.3,242.3 1540.7,254.2 1520.6,260.2 1442.2,334.8 1622.6,174.9 1509.6,271.1 1505.6,306.7 1491,286 1427.6,367.2 1622.6,200.9 1442.2,334.4 1603.1,206.4 1422.7,343.5 1541.4,261.9 1542.6,262.3 1559.5,242.1 1531.4,279 1456.9,344.1 1656.7,174.2 1501,317 1562.2,269.9 1539.7,281.7 1569,216.1 1478.4,317.9 1481.9,310.1 1515.5,282.1 1544.6,260.4 1330.1,478.3 1552,251.7 1612.8,211.6 1622.6,188 1452,332.1 1540.1,276.5 1632.3,228.4 1362.1,416.4 1502.8,312.6 1583.6,215.4 1552.5,255.1 1569.4,257.4 1344.8,412.6 1544.6,240.7 1427.6,361.9 1397.3,398.4 1539.7,251.2 1538,258.8 1476.4,315.1 1383.8,410.4 1524.4,277.3 1505.6,246.1 1524,285 1598.2,208.1 1627.5,187 1359.4,432.4 1452,348.2 1656.7,183.1 1542.5,258.9 1532.4,261.1 1547.9,276.8 1510.5,292.9 1383.8,385.1 1642.1,191.2 1378.9,386.4 1349.6,411.9 1549.5,274.6 1617.7,193.2 1544.6,283.5 1632.3,230.5 1388.6,396.1 1558.1,249.5 1556.5,250.2 1534.8,279.7 1427.6,369.9 1551.2,268.3 1369.1,417.5 1598.2,216.1 1573.8,246.3 1549.2,270.2 1349.6,431.5 1646.9,181.4 1422.7,353.8 1481.2,295.5 1632.3,177.8 1452,320.5 1566.8,268.2 1564.1,263.9 1508.8,290 1539.3,219.1 1622.6,202.1 1505.6,288.6 1408.1,405.8 1520.2,270.9 1515.3,276.7 1506.4,294.6 1564.1,222.4 1569,226.8 1427.6,347.1 1608,200.7 1471.5,298.4 1481.2,300.7 1383.8,391.5 1508.8,297.7 1544.5,241.9 1447.1,355.1 1545.1,262.8 1532.4,291.6 1575.3,245.6 1534.8,253.6 1587.5,215.1 1685.9,120.8 1548.3,259.1 1349.6,436.3 1552.6,253.4 1452,334.8 1556.4,245.6 1637.2,164.6 1578.8,235.2 1369.1,427.7 1505.6,295 1354.5,443.6 1588.5,237.3 1364.3,415.2 1537.4,277.7 1614.1,177.8 1413,373.1 1495.9,282.2 1528.4,302.8 1500,264.7 1494.8,286.9 1549.9,243.3 1637.2,166.4 1491,325.3 1330.1,469.3 1547.1,266.6 1417.9,385.5 1369.1,439.2 1403.2,373.9 1525.1,292.2 1525,266.7 1335,425.3 1500.7,276.4 1359.4,444.9 1369.1,409.7 1569,243.7 1588.5,224.1 1549.4,269.7 1570.4,242.6 1553.5,246.8 1583.9,218.3 1608,248.8 1666.4,166.4 1640.5,177.3 1671.3,196.8 1547.5,272.1 1337.3,444 1508.2,294.5 1500,295.8 1461.7,314.5 1532.4,278.9 1495.9,308.7 1622.6,166.2 1417.9,392.2 1522.1,274.7 1536.8,266 1572.1,217.8 1349.6,449.2 1481.2,301.1 1432.5,358.1 1510.5,279.6 1637.2,152.3 1497.4,282.4 1589.6,228.8 1461.7,341.5 1491,310.2 1471.5,297.7 1550.9,253.7 1566.8,252.6 1374,426.3 1580,231 1569,236.9 1417.9,383.8 1642.1,181.1 1539,263 1539.7,267.2 1413,359.6 1539.7,250.3 1408.1,401.1 1403.2,408.3 1491,272.9 1374,437.6 1514.6,297.7 1646.9,175.7 1534.8,257.2 1546.9,267.7 1383.8,378.7 1413,373.3 1627.5,196.7 1388.6,390.4 1505.6,266.1 1547.8,266.9 1523.3,259.8 1574.1,219.8 1522.5,276.3 1500.7,312.1 1540.2,267.9 1578.7,230 1330.1,464.9 1378.9,410.1 1530.4,286.5 1635.6,195.1 1637.2,204.1 1588.1,228.1 1530,255.5 1383.8,405.3 1490.3,281.2 1548.9,243.3 1493.5,294.6 1403.2,373.4 1656.7,131.8 1491,314.4 1442.2,344.8 1510.5,273.4 1422.7,370 1383.8,389.6 1547.2,254.7 1573.8,188.1 1491,285.7 1500.7,286.6 1374,397.1 1364.3,418.5 1476.4,300 1516,272.9 1461.7,350.9 1432.5,346.9 1354.5,416.1 1492.1,339.8 1466.6,315.1 1432.5,355.4 1563.2,246.9 1532,260.3 1536.9,264.5 1471.5,338.6 1403.2,364.1 1495.9,336 1551.6,246.5 1565.9,231.2 1657.3,193.1 1519,302.8 1408.1,396.9 1374,414.9 1575.8,271.9 1452,322.4 1427.6,372.4 1552.9,247.3 1549.9,264.1 1388.6,393.6 1544.7,282.1 1564.1,210.6 1595.5,244.1 1530,236 1517.5,290 1564.5,250.2 1572.9,207.6 1447.1,327 1533.9,234 1417.9,355.8 1500.7,301.1 1564.1,225.7 1555.5,254.9 1572.8,257.2 1452,342.9 1559.1,284.2 1378.9,385.1 1515.3,299.8 1339.9,463.6 1552.6,244.4 1534.8,233.8 1583.6,256.1 1603.1,227.2 1510.8,312.8 1559.2,262.4 1337.1,457.1 1593.3,215.4 1482.1,296.4 1515.3,272.6 1335,464.3 1559.2,239.1 1349.6,407.7 1512.2,284.6 1524.4,283.6 1598.2,273.8 1466.6,293.8 1437.4,359.7 1637.2,192.6 1520.2,296.8 1349.6,436.1 1555.9,266 1491,287.8 1335,449.2 1617.7,199.6 1505.6,320.2 1632.3,169.3 1560.6,237.3 1559.2,258.6 1570.4,236.4 1383.8,390.3 1583.6,218.6 1349.6,432.6 1534,224.9 1588.5,203.7 1592.4,226.9 1471.5,319 1514.7,267.6 1556.9,247.9 1569,256.5 1437.4,378.9 1459.8,344.9 1520.2,276.1 1646.9,192.7 1515.3,288.3 1608,204.4 1559.2,241.1 1514.2,297.2 1523.6,267.4 1427.6,363.6 1339.9,446.4 1564.1,254.9 1543.2,255.7 1393.5,395.9 1637.2,188.6 1563.4,203.3 1670.4,108.3 1555.9,236.8 1408.1,377.2 1540.9,277 1511.3,293.3 1485.4,311.1 1525.8,290.2 1452,335.9 1555.6,259.7 1578.7,179.8 1452,319.5 1534.1,278.3 1471.5,328.6 1622.6,187.8 1364.3,390.2 1579.1,205.3 1511.1,284.4 1452,342.6 1534.8,272.7 1456.9,327.1 1335,459.3 1452,302.8 1531.2,274.5 1541.4,243.8 1622.6,197.5 1359.4,387.9 1496.3,277 1642.1,128.2 1534.9,272 1495.9,299.3 1483,290.1 1562.4,256.8 1447.1,330.3 1632.3,168.7 1530,272.8 1550.3,240.1 1573.8,219.4 1491,298.2 1500.7,277.7 1442.2,344 1491.3,286.2 1596.6,224.7 1553.2,254.6 1552.5,276.9 1403.2,378.5 1529.8,256.7 1563.4,233.5 1499.6,304.1 1656.7,168.2 1527.1,261.5 1519.1,282.8 1427.6,366.4 1564.1,229.1 1530,259.9 1520.2,272.4 1388.6,381.6 1538.5,276.1 1544.4,233.6 1530,255.6 1537.1,262.3 1442.2,357 1596.5,206.8 1627.5,182.6 1630,169.5 1533.7,259.4 1525.1,321.8 1500.7,276.8 1558.8,271.1 1656.7,178.6 1537.5,266.5 1573.8,242.6 1671.3,188.8 1671.3,170 1408.1,396 1513.4,280.8 1525.1,272 1393.5,400.7 1520.2,265.5 1534.8,181.5 1510.7,287.5 1548.2,258.6 1542.1,243.6 1349.6,452.3 1611.8,191.8 1495.9,321.4 1548,270.8 1528.1,263.6 1556.4,262.8 1575.5,244.7 1532.1,300.9 1339.9,437 1573.8,232.7 1543.9,260.6 1422.7,354.9 1481.2,326.4 1666.4,162.6 1524.1,267.7 1599,191.3 1531.8,274.4 1583,251.6 1564.1,229 1608,227.4 1437.4,359.9 1447.1,359.4 1512.8,284 1510.5,276.3 1582.4,243.2 1499.6,290.8 1413,361.9 1378.9,396.8 1537.1,266.3 1513.8,289 1603.1,219 1452,336.6 1579.1,249.5 1432.5,360.5 1536,273.9 1676.2,153.6 1554.7,280.5 1432.5,368.4 1354.5,427 1542.5,260.3 1608,191.2 1466.6,308.6 1622.6,210 1432.5,349.4 1452,322 1551,240.5 1465.8,318.3 1507.2,294.6 1525.1,274.6 1578.9,235.1 1581.1,225.3 1576.1,233.9 1432.5,341.2 1403.2,385 1476.4,330.3 1339.9,460.8 1535.9,282.6 1422.7,354.6 1580.9,232.2 1510.5,305.3 1515.3,270.9 1476.4,319.8 1646.9,165.6 1447.1,350.8 1456.9,295 1393.5,370.7 1476.4,299.3 1671.3,176 1651.3,172.6 1637.2,194.8 1422.7,370.4 1383.8,411.8 1627.5,181.7 1681.1,134.7 1525.7,261.8 1569,173.3 1466.6,331.1 1573.8,236 1617.7,193.7 1369.1,430.1 1359.4,444.3 1565.4,249 1547.6,268.8 1577.2,210.5 1544.6,264.2 1511,309.5 1456.9,330.8 1559.2,208.7 1541.4,274.1 1510.5,274.9 1605.3,227.9 1481.2,304 1543.4,277 1602.8,222.8 1554.3,228.7 1550.5,283.4 1637.2,155.4 1359.4,413.7 1566.1,232.4 1542.7,258.8 1585.5,228 1690.8,157 1335,455 1597.5,221.4 1508.1,312.3 1408.1,393.4 1539.7,260.2 1515.3,296.8 1530,234.1 1603.1,225.8 1551.3,229.7 1533.9,285.9 1651.8,149.5 1552.6,266.8 1335,481.4 1533.1,309.6 1531.9,252.8 1519,292.2 1398.4,397.5 1525.1,271.6 1383.8,383.1 1471.5,290.5 1479.1,300.5 1330.1,440.7 1489.7,249.7 1588.5,248 1505.6,296.4 1539.7,261.5 1540.1,273 1437.4,372.6 1476.4,315.7 1515.3,282.1 1364.3,428.9 1378.9,421.2 1481.2,338.2 1550.5,261.6 1539.8,260.9 1536.1,262.9 1593.3,214.7 1521.9,299.3 1505.6,301.3 1530,296.3 1369.1,421 1550.7,279.3 1466.6,330.6 1354.5,418.6 1632.3,161 1422.7,335.6 1545.8,253.7 1553.7,234.7 1557.8,259.2 1335,445.1 1555.8,247.8 1608,210.5 1413,361.3 1588.5,242.7 1661.6,199.2 1471.5,333.5 1330.1,485 1569,230.6 1442.2,338.7 1447.1,342.8 1530,258.6 1545.3,266 1559.2,236.9 1527.5,286.3 1642.1,197.5 1374,401.6 1547.2,276.9 1564.1,232.1 1564.1,231.4 1513.9,306.6 1488.4,321.3 1534.8,234.5 1617.7,160.3 1330.1,445.7 1437.4,383.8 1530,281.7 1475.4,326.7 1627.5,211.5 1685.9,162.6 1500.7,295.9 1398.4,397.1 1461.7,331 1530,358.8 1349.6,430 1471.5,298.7 1474.2,292.8 1598.2,230.4 1403.2,363.8 1378.9,400.8 1359.4,439.6 1588.5,238.1 1417.9,336.6 1598.2,223.7 1571,235.2 1559.2,261.1 1695.7,147.6 1369.1,393.5 1481.2,319.3 1579.1,246.5 1646.9,206.2 1539.7,221.8 1359.4,439.1 1383.8,403 1555.6,262.8 1422.7,373.7 1559.2,264.3 1408.1,382.9 1661.6,191.1 1495.9,300.1 1459.6,352.1 1437.4,357.6 1490.4,271.5 1335,468.8 1569.3,263 1507.2,294.1 1642.1,183.7 1588.5,212.1 1437.4,339 1529.5,270.9 1583.6,217.9 1578.7,212.7 1417.9,345.6 1573.8,248.5 1442.2,351.6 1643.7,193.2 1593.2,228.5 1485.8,288.5 1374,445.6 1476.4,301.1 1585.7,234.3 1505.6,289.2 1335,470 1432.5,368 1422.7,380.7 1422.7,362.5 1497.7,268.7 1456.9,380.5 1564.1,249.5 1580.2,236 1461.7,360.7 1627.9,195.6 1471.5,309 1413,390.1 1608,202.6 1666.4,153.7 1541.3,258.9 1637.2,217.3 1525.1,280.3 1474.8,300.2 1578.7,252.3 1495.9,285 1437.4,347.1 1544.6,246.9 1627.5,204.1 1627.5,192.3 1413,377.2 1398.4,399.6 1544.6,253.1 1569,219.3 1571.8,250.6 1515.8,272 1561.6,248.7 1408.1,371.3 1549,266.2 1378.9,408.9 1500.6,328.6 1571.1,225.2 1588.5,223.2 1568.5,253.9 1530,245.3 1496.8,326.6 1393.5,400.7 1591.3,207.9 1442.2,355.7 1520.2,245.8 1461.7,352.2 1642.1,177.1 1568.4,234.1 1502,276.9 1576.1,242.7 1530,267.1 1603.1,238.3 1551.6,228.9 1510.5,280.3 1403.2,403.2 1661.6,146.5 1447.1,321.6 1456.9,330.3 1374,442.6 1549.5,270.8 1580.5,248.7 1617.7,179.2 1565.7,240.7 1516.3,290.1 1568.9,249 1359.4,419.4 1523.6,274.8 1557.4,259.3 1378.9,398 1560.6,239.2 1551.6,268.1 1505.6,347 1452,348.3 1534.8,257.7 1550.4,251.9 1599.4,222.4 1530,267 1452,341.2 1452,344.2 1651.8,148 1447.1,362.4 1656.7,201.7 1349.6,435 1557.4,261.1 1539.9,290.2 1364.3,407.7 1491,317.3 1584.8,202.6 1432.5,339.7 1578.7,231.5 1525.1,237.9 1676.2,162.1 1418.9,373.2 1551.1,253.8 1403.2,397.7 1374,406.4 1537.5,268.7 1481.2,299.5 1466.6,315 1422.7,340.6 1417.9,354.3 1510.5,290.1 1573.8,233.7 1330.1,481.4 1383.8,404.6 1537.1,261.9 1383.8,423.4 1646.9,188.1 1505.6,297.7 1417.9,378.6 1573.8,228.9 1537.5,267.1 1530.6,286.9 1544.4,243.4 1511.8,268.1 1374,407 1588.4,231 1520.2,296.5 1349.6,404.6 1554.3,259.3 1560.2,254.4 1437.4,329.1 1525.1,310.8 1374,404.9 1569,215.2 1531.7,276.5 1339.9,417.8 1622.6,183.6 1512.9,285.1 1622.6,176 1529.4,274 1531.4,271.4 1554.3,240.4 1437.4,350.2 1383.8,403.5 1578.7,237.5 1417.9,366 1413,347.3 1383.8,354.6 1622.6,163.2 1563.4,252.9 1529.4,269 1364.3,418.9 1564.1,235.6 1563.6,255.3 1646.9,239.5 1466.6,296.6 1598.7,220.4 1530,258.8 1491,316.2 1437.4,352.7 1398.4,392.1 1641,187.3 1499.3,328.6 1666.4,190.1 1502.6,284.3 1437.4,372.4 1539.7,219.2 1601.9,218.2 1536.4,251.6 1476.4,331.3 1408.1,400.7 1442.2,318.3 1481.2,299.5 1578.7,258 1514.1,277.4 1437.4,353.9 1398.4,412.5 1557.2,277.8 1637.2,181.1 1608,183.6 1335,454.9 1398.4,389.7 1622.6,185.8 1544.8,270 1339.9,464.5 1461.7,328.2 1398.4,397.4 1335,454.5 1622.6,213.4 1374,422.7 1471.6,313.9 1476.4,292.9 1413,376.4 1422.7,374.1 1442.2,308 1437.4,340.6 1530,297.2 1335,444.7 1369.1,411.4 1617.7,194.4 1491,273.2 1530.7,270.2 1408.1,384.1 1486.1,224.1 1398.4,354.9 1422.7,351.3 1493.5,287.8 1506.5,284.7 1466.6,298.4 1369.1,413.6 1549.9,279.8 1559.2,244.2 1359.4,403.3 1583.6,223.9 1536.6,274.4 1657.7,154.2 1569,276.8 1588.5,178.5 1373,414.2 1374,403.4 1364.3,435.6 1681.1,199.7 1442.2,385 1661.6,179.3 1432.5,348.1 1456.9,355.6 1402.5,331.8 1495.9,249.6 1510.5,289.8 1359.4,443.7 1603.1,217.3 1471.5,311.5 1539.4,268.7 1339.9,438 1515.3,284.7 1524.4,277.2 1383.8,393.1 1503,301.2 1677.9,139.2 1369.1,436.9 1548,255.2 1422.7,382.8 1417.9,343.3 1568.2,228.3 1398.4,378.5 1525.1,257.2 1432.5,365.4 1413,351.5 1516,279.8 1544.6,240.1 1354.5,420.3 1481.2,320.3 1413,367.4 1608,207.3 1567.2,249.4 1500.1,288.8 1535.2,272.2 1532.4,266 1561.7,264.7 1564.1,191.6 1437.4,345.2 1608,208.1 1403.2,393.4 1466.6,331.4 1632.3,164.4 1434.7,371.5 1521.5,269.4 1622.6,194.6 1561.3,226.4 1515,267.5 1505.6,325.3 1520.2,266.9 1632.3,191.2 1573.8,268 1510.5,279.7 1511.5,275.2 1491,279.2 1593.3,236.3 1655.9,202.9 1578.7,264.4 1491,309.6 1517.4,306.9 1422.7,353.8 1520.2,294.3 1335,438 1642.1,142.8 1545.1,259.9 1523.5,261.5 1388.6,385.5 1564.1,253.4 1533.2,267.4 1583.6,247.4 1553.3,271 1471.5,297.4 1603.1,194.1 1555,241.3 1514.4,287.1 1637.2,189.8 1536.3,243.3 1566.2,261.2 1354.5,412.9 1422.7,346.4 1542.7,285.3 1627.5,215.6 1529.5,253.5 1442.2,338.5 1521.8,278.8 1466.6,312 1383.8,389.4 1456.9,355.5 1646.9,170.8 1555.7,246.7 1491,300.8 1398.4,386.7 1656.7,145.7 1500.7,275.2 1573,243.8 1466.6,320 1541.6,254.4 1481.2,312.4 1476.4,290.7 1383.8,410.6 1530,291.1 1551.3,259.2 1588.5,229.1 1550.8,254.6 1581.5,232 1593.3,192.2 1339.9,430.3 1598.2,220.1 1517,299 1529.8,292.4 1608,243.5 1642.1,176.4 1339.9,442.6 1500.7,298.5 1557.9,239.1 1508.6,279.9 1560.1,250.8 1398.4,359 1442.2,356 1575.6,220.3 1495.9,274.5 1637.2,182.1 1651.8,164.7 1540.9,241.5 1549.5,260.1 1519.7,300.9 1509.1,295.6 1369.1,419 1648.3,153.2 1502.9,287.7 1349.6,424.7 1593.3,231 1530,279.5 1651.8,182.1 1505.4,285.4 1597.3,226.9 1571.7,242.8 1535,265.8 1452,351.8 1617.7,215.9 1548.5,272.3 1596.8,238.6 1619.5,237 1537.3,263.2 1517.6,298.8 1578.9,231.6 1452,328.1 1534.8,244.4 1515.3,299.8 1539.7,247.7 1547.6,285.6 1608,236.7 1330.1,442.3 1518.5,300 1417.9,372.9 1378.9,385.9 1481.1,319.1 1552.4,250.9 1437.4,348.3 1546.2,256.5 1492.5,299.8 1603.1,237.7 1359.4,436.9 1583.6,269.7 1485.2,305.3 1534.3,279.6 1608,193.8 1461.7,332.6 1422.7,363.5 1573.8,319.5 1452,319.9 1403.2,395 1432.5,377.7 1513.5,269 1567.8,262.1 1518.8,279.8 1576.6,239.3 1422.7,362.4 1572.8,238.1 1408.1,385.1 1427.6,370.6 1413,383.1 1505.6,291.3 1477.2,298.8 1525.5,263.6 1549.5,244.6 1554.3,240.7 1452,364.6 1465.5,352 1349.6,429.9 1359.4,439.3 1593.3,252 1592.3,225 1499.2,295.5 1554.3,249.8 1617,166.5 1491,285.3 1566.3,250.6 1540.3,229.1 1510.5,259.7 1578.7,205.5 1568.3,218.1 1491,319.7 1452,313.6 1559.2,249.7 1588.5,263 1516.8,301 1383.8,396.8 1495.9,326.5 1369.1,422 1339.9,466.7 1581.1,260 1374,396.6 1567.3,244.1 1568.4,258.5 1374,415.8 1583.6,221.8 1555,236.7 1349.6,420.4 1512.8,294.2 1417.9,373.5 1598.2,228.9 1710.3,160 1578.7,253.1 1534.8,260.9 1551.1,257.5 1562,278.9 1556.5,236.5 1522.5,268.8 1417.9,378.6 1646.9,167.1 1642.1,154.1 1378.9,411.8 1541.5,256.5 1549.5,250.9 1541.4,278.6 1567.4,259.6 1661.4,145 1507.8,268.5 1330.1,446 1364.3,422.4 1622.6,207.4 1569,253.4 1627.5,205.4 1393.5,377.7 1388.6,423.6 1589.3,204.8 1388.6,421.8 1520.2,248.6 1494.4,293.1 1383.8,409.4 1515.3,270.4 1533,271.9 1349.6,454.5 1408.1,383.5 1534.8,263.3 1539.4,269.5 1500.7,271.7 1569,221.5 1476.7,296.7 1349.6,438 1547.9,247.3 1461.7,332.1 1569,230.6 1378.9,387.9 1452,358.3 1532.1,270.2 1354.5,438.1 1591.9,230.7 1364.3,417 1637.2,150.6 1593.3,225.1 1637.2,206.6 1461.7,334.1 1578.7,239.5 1442.2,343.7 1661.6,145.8 1671.3,188.9 1520.8,289.8 1482.1,320 1549.8,265.7 1532.2,269.1 1464.9,355.8 1364.3,410.8 1578.6,253.9 1600.7,219.3 1398.4,377.8 1564.1,235.9 1627.5,163.2 1388.6,389.4 1588.5,231.7 1456.9,352.5 1560.2,273.4 1530,262.1 1452,350.6 1456.9,368.2 1622.6,214 1436,368.6 1575.4,231.9 1572.4,239.5 1705.4,139.6 1510.5,304.2 1632.3,155.8 1527.1,278.8 1417.9,372.4 1651.3,175.3 1612.8,193.2 1491,318.2 1504.6,271.9 1555.5,257.8 1408.1,390.3 1383.8,388.5 1364.3,429.4 1359.4,409.8 1408.1,381.7 1447.1,355.1 1602.5,216.7 1612.8,204.9 1512.5,286.9 1637.2,205.6 1616.8,193.5 1593.3,265.8 1555,230.3 1562.7,274.9 1603.1,209.4 1598.2,202.8 1524.9,261.3 1661.6,170.6 1462.7,305.9 1486.1,321.3 1408.1,355.5 1432.5,352.7 1530.9,249.7 1627.5,181.8 1510.5,264.9 1564.1,242.5 1369.1,411.2 1577.8,228.4 1578.7,219.5 1339.9,446.3 1537.2,262.8 1617.7,232.8 1427.6,332.8 1598.2,250.9 1532.8,251.7 1578.7,237.3 1555.9,240.8 1622.6,213.6 1335,451.1 1545.9,251.3 1494.5,308.6 1588.5,219 1339.9,439.5 1541.1,279.5 1525.4,259.2 1471.5,335.2 1522.5,271.7 1466.6,322.1 1413,354.5 1491,269.4 1554.3,231.7 1675.2,167.7 1536.8,274.3 1507.5,240.9 1476.4,333.7 1492.6,329.9 1378.9,391.9 1515.3,330.2 1665.7,159.3 1354.5,440.9 1586.4,237.4 1505.6,276.8 1442.2,329.3 1564.1,221.7 1393.5,384 1505.6,310.4 1539.7,309 1631.5,213.5 1650.2,172.6 1452,345 1359.4,414.6 1525.1,273 1378.9,391.1 1442.2,362.7 1354.5,460.2 1612.8,183.5 1500.7,286.3 1491,315.9 1534.1,280.2 1565.5,242.5 1556.3,249.3 1622.6,215 1630,202.4 1529.7,292.6 1461.7,342 1388.6,389.4 1505.6,280.5 1339.9,433.1 1456.9,361.9 1508.8,309.4 1675.4,160.6 1422.7,358.1 1593.3,215.9 1398.4,387.6 1549.5,243.3 1500.7,289 1598.2,209.7 1477.3,295.9 1466.6,343.2 1578.7,268.5 1671.3,117.3 1632.3,166.2 1631,214.5 1517.8,284.8 1491,288.2 1437.4,344.8 1515.3,311.5 1403.2,407 1481.2,312.7 1569.7,228 1540.5,259.4 1624.6,198.6 1612.8,205.1 1491,348.9 1612.8,234.4 1533.3,286.4 1492,272.1 1442.2,360.9 1690.8,140.9 1651.8,161.8 1630.5,209 1570.1,247.6 1374,424.4 1511.4,289.6 1573.1,242.9 1523.1,281.5 1526,306.4 1573.8,245.7 1627.5,183.1 1603.1,200.3 1587.4,228.7 1637.2,168.8 1530,273.4 1487.3,273.3 1632.3,216 1548.3,251.8 1584.5,216.1 1564.1,236.9 1471.5,322.7 1359.4,412.8 1388.6,419.8 1466.6,339.8 1408.1,377.4 1393.5,384.1 1486.1,302.8 1452,314.6 1534.8,252 1555.8,265.1 1550.1,262.7 1525.3,271.8 1514.9,282.1 1495.9,297.9 1388.6,391.9 1530.1,253.7 1622.6,171.3 1534.8,255 1495.9,273.8 1432.5,330.6 1461.7,332.4 1547.1,278 1369.1,424.5 1527.1,280.8 1403.2,386.7 1621.4,194.6 1617.7,197.2 1564.1,245.1 1495.9,269.7 1672.2,145.2 1637.2,193.3 1541.3,291.5 1548.3,224.9 1539.7,271.1 1456.9,327 1583.6,243.9 1417.9,348.3 1581.9,234.3 1534.7,259.5 1403.2,381.9 1588.5,239.8 1505.6,287.6 1335,478 1456.9,339.8 1364.3,430.8 1588.5,214.7 1481.2,325.1 1549.5,276.7 1563.9,239.9 1520.2,277.9 1548.7,251.6 1442.2,353.5 1583.6,218.7 1383.8,411.1 1559.6,279.4 1494.6,337.4 1530,269 1388.6,387.9 1408.1,385.5 1471.5,323.3 1530,290 1452,357.4 1339.9,467.1 1486.1,281.9 1447.1,352.9 1481.2,314.7 1422.7,367.2 1588.5,232.7 1545,263.6 1603.1,188.5 1570.2,239.4 1403.2,398.9 1518.7,284.1 1456.9,337.4 1573.9,225 1456.9,280.6 1500.7,278.2 1575.7,259.5 1476.4,339.7 1477.2,337 1551.4,281.2 1651.8,159 1531.6,265.7 1557,225.9 1510.4,298.5 1498.8,301.1 1364.3,432.1 1598.2,188.3 1422.7,364.5 1515.8,269.7 1432.5,347.1 1576,206.1 1533,278.9 1486.1,302.6 1544.6,261.7 1551,289.4 1403.2,382.5 1466.6,331.8 1388.6,393.5 1481.2,318.8 1487.7,278.3 1466.6,319 1632.3,188.4 1529.9,254.1 1516.2,285.1 1530.6,283.7 1330.1,452.4 1521.4,303.3 1388.6,402.3 1335,475.1 1681.1,128.2 1526.4,272.3 1651.8,129.5 1656.7,199.3 1632.3,156.2 1593,216.3 1578.7,237.5 1476.4,306.2 1491,315.3 1583.6,225.9 1417.9,376.4 1427.6,351.6 1534.8,277.5 1577.6,244.6 1587.4,212.9 1437.4,375.7 1393.5,389.3 1408.1,386.6 1552.7,264.4 1471.5,325.6 1578.7,235.9 1530,256.9 1676.2,138.8 1422.7,353 1505.8,309.6 1422.7,364.7 1564.8,263.6 1452,366.1 1466.6,285 1417.9,370.7 1475.4,307.7 1578.7,238.8 1466.6,319.6 1552.9,286.3 1505.6,268.4 1541.1,257.4 1637.2,182.1 1393.5,383.1 1585.9,227.1 1339.9,467.3 1374,399.9 1579.4,227.3 1481.2,297.5 1374,409 1505.6,272.1 1534.8,274.1 1398.4,391.7 1560.1,266.1 1578.7,229.3 1501.3,292.7 1530,242.6 1491,310 1637.2,172.2 1671.3,158.8 1598.2,220.5 1456.9,347 1570.3,219.4 1504.4,313.8 1553.3,258.8 1593.3,182.5 1612.8,169.3 1456.9,342.4 1469.8,309.6 1398.4,400.5 1599.8,170.5 1536.8,280.1 1442.2,338.1 1539.1,267.4 1632.3,178.1 1535.7,252.4 1437.4,354.2 1374,421 1538.6,272.8 1535.6,280.1 1603.1,219 1422.7,408.4 1538.5,293.6 1656.7,204.9 1440.9,361.6 1512.1,301.1 1527.7,279.7 1523.5,281.3 1576.9,246.9 1666.4,129.4 1388.6,399.7 1486.1,311.9 1534.8,248.7 1528.3,284.2 1491,297.4 1551.3,275.7 1383.8,418.2 1491,300.5 1427.6,366.7 1571.5,243.6 1642.1,166.6 1598.2,240.1 1588.5,234.1 1548.3,262.6 1632.3,204 1339.9,436.3 1612.8,210.8 1569,258.6 1534.8,259.8 1525.1,277.2 1515.6,260.1 1530,279.3 1515.3,290.6 1547.1,240.6 1571.7,205.2 1515.3,258.6 1398.4,390.1 1432.5,336.3 1408.1,357.4 1477.2,315.3 1627.5,164.8 1637.2,177.7 1566.6,243 1569,197.5 1612.8,248.2 1534.8,279.1 1354.5,419.1 1521.7,267.8 1515.3,320.9 1568.2,223.8 1506.2,288.8 1437.4,319 1339.9,435.5 1536.2,280.8 1569,215.7 1388.6,392 1681.1,179.7 1484.3,291.2 1529.4,282.6 1335,436.9 1564.1,208.3 1442.2,331.2 1567.2,217.6 1528.5,273.5 1539.7,248.1 1646.9,176.8 1413,391 1522,279.6 1617.7,244.3 1569,223.6 1530,271.8 1447.1,337.3 1682.4,164 1383.8,413.8 1671.3,177.1 1481.2,334.6 1588.5,223.2 1569,206 1559.2,223.4 1515.3,318.8 1339.9,439.4 1417.9,362.6 1646.9,187.9 1364.3,434.2 1554.3,252.6 1456.9,325.6 1680.1,123 1531.4,278.3 1576.7,243.2 1637.2,135.1 1622.6,187.8 1656.7,188.3 1456.9,301.8 1573.7,226.6 1573.8,210.9 1398.4,386.9 1557.1,254.7 1481.2,332.5 1554.3,225.5 1659.7,159.4 1491,297.1 1484.3,302.3 1653.7,168.9 1508.7,264.4 1521.1,263.6 1539.7,223.6 1437.4,347 1330.1,462.3 1374,413.5 1386.9,422.3 1598.9,185.9 1447.1,342.8 1507.4,292.5 1598.2,239.1 1549,264.3 1656.7,182.7 1569.6,255.8 1599.6,233.7 1541.8,254.1 1573.8,172.1 1590.1,214 1503.6,265.8 1408.1,365.5 1599.1,244.9 1510.5,271.6 1539,264.5 1553.8,268.5 1359.4,420.4 1564.7,246.9 1608,193.2 1575.8,218.1 1614.9,209.1 1495.9,254.3 1364.3,446.6 1544.5,273.8 1437.4,344.8 1364.3,419 1603.1,178 1514.9,299.8 1651.8,153.7 1511.3,307.1 1510.5,279.3 1542.3,287.6 1671.3,158.8 1710.3,144.2 1364.3,445.2 1646.9,205.9 1627.5,182.6 1510.4,281.7 1573.8,217.7 1507.6,315.6 1583.6,185.9 1432.5,340.7 1461.7,356.4 1476.4,324.8 1598.2,209.5 1388.6,385.9 1524.4,283.5 1573.9,258.3 1417.9,382.1 1437.4,377.4 1506.6,283.4 1539.7,254.3 1637.2,179.2 1466.6,315.5 1461.7,350.9 1539.7,265.8 1573.8,251 1432.5,356.8 1447.1,340 1369.1,404.4 1549.5,296.3 1616.8,181 1593.3,243.5 1583.6,190.8 1545.6,273.3 1427.6,355.7 1580.8,219.2 1547.4,272.6 1640.7,199.2 1578.9,226.6 1627.5,195.9 1593.3,233.2 1540.4,286.9 1476.4,315.1 1549.5,250.1 1442.2,339.4 1529.1,273.3 1549.5,258.4 1452,343.9 1535.1,262.3 1378.9,393.6 1432.5,371.8 1564.1,232 1554.3,248.1 1520.2,258.6 1561.7,233.9 1452,349.5 1632.3,230.7 1359.4,423.7 1562.6,221.9 1576.5,222.4 1603.1,186.2 1671.3,149.8 1383.8,396.7 1603.1,216.2 1486.1,317.6 1546.7,276.4 1335,460.4 1547.9,259.8 1523.3,260.6 1571.8,228.4 1486.1,318.2 1564.1,227.8 1498.7,278 1661.6,154.4 1364.3,441.7 1622.6,175.8 1456.9,330.6 1695.7,208.7 1514.3,296.2 1505.6,306.2 1572.4,249.2 1339.9,463.3 1330.1,466.1 1388.6,409.3 1617.7,202.6 1354.5,440.7 1374,412.5 1676.2,148.9 1512.5,292.7 1359.4,418.8 1354.5,444.8 1651.8,185.2 1413,400.3 1354.5,443.6 1576.8,255.6 1535.6,263.8 1639.2,183.9 1525.1,290.2 1491,303.1 1408.1,383.9 1588.5,228.3 1403.2,395.4 1388.6,385 1559.2,252.2 1549.5,229.3 1661.6,153.1 1588.5,207 1505.6,305.7 1427.6,355.9 1510.5,278.8 1359.4,425.8 1349.6,449.6 1534.8,264 1546.9,261.6 1608,168.9 1403.2,369 1578.7,196.2 1498.8,283.1 1661.1,177.5 1525.1,248.4 1651.8,142.3 1422.7,333.3 1583.6,225.6 1349.6,439.4 1524.2,257.1 1534.8,269.8 1471.5,300 1565.6,263.1 1573.8,260.9 1408.1,398.9 1398.4,404.8 1530,246.9 1593.6,224.7 1374,427.5 1500.7,281 1466.6,305.2 1627.5,213.5 1335,419.2 1403.2,394.8 1536.5,289.8 1608,246.5 1532.9,254.1 1550.3,274.8 1335,445.2 1522.6,280.8 1522.6,293.9 1573.8,235.4 1498.3,278.5 1471.5,307.8 1466.6,330.7 1625.3,209.7 1632.3,193.1 1349.6,458.4 1491,310.8 1536.3,282.3 1539.7,272.8 1593.3,217.3 1581.3,244.7 1528.7,266.5 1608,214.4 1532.9,292.9 1461.7,312.9 1539.7,246.9 1491,289 1502.2,274.8 1534.3,279.2 1536.7,248.4 1484.4,313.8 1617.7,210.7 1548.7,269.4 1593.3,224 1515.3,277 1542.7,278.1 1651.8,182.8 1544.6,276.7 1383.8,427.5 1598.2,203 1369.1,417.6 1671.3,156.7 1452,331.4 1564.1,247.9 1546.1,255.2 1537.2,263.9 1583.6,227.5 1549.5,253.4 1515.3,282 1354.5,427.5 1383.8,388.1 1478.6,303.1 1651.8,158.4 1505.6,297.9 1641.1,187.4 1547,267.1 1403.2,389.5 1535.4,254.6 1525.1,283.1 1531.8,246.3 1593.3,209 1510.5,276 1534.8,262.4 1518.4,284.7 1510.5,279 1515.7,287.9 1452,321.3 1500.7,267.4 1408.1,390 1383.8,401.9 1437.4,330.8 1565,254.5 1364.3,415.3 1559.2,238.8 1499.7,285.6 1569,215.2 1398.4,415.7 1578.7,235.6 1555.9,239.9 1369.1,412.8 1408.1,367.8 1510.5,276.4 1495.9,309.4 1385.5,406.2 1461.7,318.3 1481.2,319.2 1508.8,283.9 1527.3,291.9 1369.1,442.7 1344.8,427.6 1486.1,312.3 1495.9,284 1461.7,323.2 1471.5,352.2 1456.9,330.1 1540.5,260.9 1544.2,267.6 1674.9,158.2 1442.2,371.5 1544.6,226.2 1705.4,136.3 1495.9,301.9 1580.2,222.9 1496,305.2 1541.1,250.3 1471.5,326.6 1561.1,252.3 1498.5,310.8 1582.8,226.6 1374,395.1 1557.9,260.6 1571.2,258.5 1685.9,143.4 1563.9,275.4 1398.4,395.2 1549.5,266.8 1562.5,250.9 1593.3,228.1 1539.1,263.5 1447.1,356.3 1576.5,221.5 1671.3,146.1 1566.7,233.5 1359.4,407.7 1481.2,299.3 1374,396 1364.3,414.3 1374,398 1388.6,389 1587.2,220 1505.6,267.6 1510.5,296.2 1514.6,303 1413,367.7 1537.7,257.7 1526.1,270.7 1529.3,261.6 1491,308.5 1530,278.1 1443.4,343.1 1573.8,203 1530,265.8 1501.1,280.3 1593.3,246.6 1637.2,197.3 1520.2,281.4 1608,229.4 1442.2,358.2 1588.5,227 1527.7,268.2 1471.5,299.9 1510.5,270 1637.2,185.2 1617.7,194.5 1622.6,201.2 1519.3,282 1466.6,341.5 1569,228.5 1525.1,269.3 1539.6,269.6 1339.9,471.2 1456.9,325.1 1521.9,269 1617.7,210.9 1422.7,390 1495.9,277.5 1491,291.7 1552.8,291.7 1569,220.8 1622.6,201.8 1493.4,286 1339.9,442.9 1631.6,162.5 1422.7,320 1608,220.2 1417.9,377.5 1330.1,445.9 1627.1,193.1 1536.5,272.3 1495.9,293.2 1681.1,167.9 1364.3,427.6 1676.2,161.1 1374,394.5 1339.9,463 1530.7,269.4 1378.9,410.6 1685.9,166.1 1549.5,276 1608,187.8 1456.9,329.2 1500.7,326.4 1612.8,211.7 1491,308.3 1461.7,323.6 1539.7,241.8 1563.6,242.2 1359.4,430.4 1374,433 1393.5,364 1539.7,256.1 1637.2,182.5 1570.5,226.5 1510.5,316.9 1575.7,218.7 1339.9,455.6 1398.4,388.2 1504.3,276.3 1671.3,159.2 1656.7,173.4 1413,367.7 1520.9,275.9 1512.2,308.9 1452,306.3 1552.9,248.1 1364.3,441.4 1383.8,408.3 1528.7,255.3 1495.9,307.3 1393.5,374.3 1482.2,308.2 1573.8,276.4 1617.7,202.7 1559.2,230.9 1500.7,302.3 1520,268.2 1671.3,164.3 1515.3,299.1 1637.2,197.1 1554.3,260.7 1578.7,223.5 1666.1,171.7 1646.9,196 1578.7,260.1 1593.8,220.9 1519.3,277.2 1530,297.2 1456.9,321.6 1543.5,260.7 1622.6,232.8 1339.9,456.5 1510.5,304.6 1413,383.6 1689.1,170.5 1530.7,277.3 1573.6,233.3 1417.8,364.2 1520.2,284.4 1417.9,391.5 1593.3,245.9 1520.2,274.6 1408.1,393.4 1408.1,377.2 1427.6,335.2 1481.2,306.6 1535.4,260.4 1520.2,288.1 1552,255.9 1481.2,288.8 1492.6,328.6 1564.1,254.6 1578.6,221.2 1427.6,358.2 1378.9,394.9 1510.3,287.4 1427.6,400.2 1461.7,340 1500.9,295.7 1530,282.3 1471.5,332.6 1437.4,322.6 1593.3,253.6 1456.9,343.5 1482,321.5 1661.6,149.4 1666.4,170.1 1417.9,383.2 1676.2,153.9 1536.2,286.7 1511.3,293 1693.1,170.2 1598.2,198.6 1540.3,250.5 1533.5,289.4 1541.1,272.5 1539.8,278.9 1598.2,192.2 1408.1,378.6 1452,352.7 1573.8,257.4 1516,293 1554.7,245.4 1393.5,379.7 1378.9,403.8 1518.2,296 1671.3,178.3 1521.2,281.6 1555.6,258.7 1364.3,426.3 1427.6,364.7 1476.4,348.3 1549.4,276 1522.9,280.8 1578.7,209 1576.6,236 1532.1,288.8 1496.2,298.5 1559.2,272.6 1520.2,262.8 1561.5,245.3 1530,256 1432.5,346.7 1495.9,261.9 1588.5,244.3 1632.3,164.9 1378.9,409.1 1676.7,161.7 1518.7,266.9 1627.5,200.5 1553.3,269.9 1598.2,244.1 1417.9,370.5 1622.6,181.2 1544.6,261.5 1651.8,245.9 1403.2,395 1555.7,220.2 1564.1,244.7 1520.2,296.3 1642.1,192.4 1518,305.4 1557.1,246.2 1560.1,251.5 1383.8,400.9 1608,199.2 1481.2,301.4 1432.5,353.3 1374.7,401.6 1666.4,129.7 1573.8,207.6 1537.3,262.8 1554,260.9 1656.7,136.6 1422.7,362.2 1513.3,311.3 1504,293.4 1563.4,266.3 1594,242.2 1671.3,176 1521.6,297.1 1378.9,414.4 1484.6,342 1388.6,412.2 1398.4,409.8 1495.9,288 1403.2,381.2 1432.5,351.7 1538.3,278 1609.6,225.1 1608,190.4 1637.5,172.5 1593.3,193.1 1533.1,276 1542.8,242.7 1632.3,164.8 1486.1,318.7 1378.9,378 1612.8,161.1 1398.4,382.2 1565.4,259.9 1527.3,267.6 1476.4,313.4 1661.6,179 1551.7,237.6 1388.6,389.9 1481.2,301.1 1555.5,263.4 1496.8,310.1 1646.9,180.4 1526.8,291.7 1637.2,156.6 1617.7,202.1 1505.9,285.7 1437.4,377.4 1500.7,304.4 1471.5,314.9 1521.9,268.9 1452,335.9 1452,318.4 1521.8,262.3 1477.6,326.3 1566.7,238.4 1549.5,271.5 1588.5,213.2 1538.3,269.6 1495.9,278.4 1403.2,371.9 1456.9,328 1408.1,378.3 1427.6,358.5 1603.1,250.5 1520,274.3 1510.5,248.6 1585.2,218.3 1557.1,257.5 1512,292 1491,273.7 1619.7,232.1 1539.9,248.9 1539.7,290.4 1369.1,420.6 1530.2,237.8 1538.7,276 1661.6,181.8 1335,438.9 1476.4,367.1 1581.1,190.9 1437.4,353.1 1637.2,190.6 1486.1,343 1573.8,239.8 1330.1,436.7 1617.7,210.1 1544.4,288.2 1364.3,437.3 1559.1,254.4 1651.8,181 1627.5,171.8 1526.8,299.4 1601.4,212.3 1516.9,294.6 1432.5,353.4 1427.6,359.5 1422.7,363.2 1534.8,286.2 1531.5,267.5 1497.1,286 1408.1,373.2 1552.3,263.7 1496.7,293.2 1681.1,147.7 1559.2,251.5 1646.9,147.2 1541.4,283.6 1524.5,280.6 1622.6,211.1 1354.5,415.2 1588.5,203.8 1554.9,232 1519,262.1 1510.5,291.4 1538.9,278.1 1462.7,327.5 1651.8,191.2 1456.9,369.4 1544.6,242.2 1496.2,287 1578.7,197 1572,251.4 1552.6,262.1 1452,325.1 1471.5,306.5 1369.1,399 1380.2,414.6 1492,305.5 1432.5,359 1542.1,261.6 1495.9,306.5 1514.3,303.1 1622.3,195.9 1554.3,206.5 1548.7,253.5 1544.8,265.2 1489.1,316 1612.8,178.6 1551.8,245.6 1422.7,366.6 1335,445.1 1544.6,274 1637.2,169.4 1555.7,232 1378.9,388 1354.5,435.7 1547.9,245.5 1593.3,240.7 1608,227.2 1677.8,139.3 1422.7,371.7 1447.1,356.3 1547.7,240.1 1612.1,167.4 1476.4,330.5 1552.3,270.2 1543,261.9 1549.4,257.5 1642.1,174.9 1427.6,364 1560.2,262.7 1535.7,256.8 1403.2,378.6 1569,259.8 1354.5,437.6 1530.4,263.4 1517.3,310.2 1461.7,341.1 1685.9,169.8 1593.3,205.8 1554.3,213.2 1553.3,258.6 1481.2,317.3 1393.5,395 1510.3,270 1398.4,368.5 1524.1,282 1495.9,295.8 1432.5,355.5 1418.2,376.2 1532.8,280.6 1403.2,378.2 1575.2,230.3 1578.7,241 1427.6,338.1 1523.8,298 1570.8,249.8 1567.6,240.8 1573.8,228.3 1408.1,380.9 1481.2,336.1 1408.1,370.2 1528.4,262.5 1568.5,278.3 1432.5,353.6 1496.4,320.8 1486.1,319.3 1413,386.5 1656.7,159.7 1578.7,231.7 1551.3,261.8 1656.7,161 1570.6,227.6 1569,241.2 1492.8,298.7 1543.6,243.7 1515.3,266.3 1578.7,235.1 1640,199.2 1388.6,393.6 1522.7,280.9 1528.2,290.2 1432.5,326.7 1588.5,202.2 1577,222.9 1530.3,294.5 1571.8,257.6 1544.6,229.8 1566.3,222.8 1642.1,179.6 1452,303.5 1554.3,274.7 1413,371.8 1466.6,329 1556.4,254.1 1442.2,373.4 1388.6,405.5 1495.9,312.5 1369.1,401.5 1383.8,424.6 1359.4,448.1 1569,223.5 1571.6,233.5 1527.4,268.3 1383.8,393.5 1456.9,329.5 1685.9,159.6 1622.6,178.5 1520.2,259.7 1561,267.9 1532.9,270.7 1466.6,302.1 1500.7,313.5 1695.7,152.2 1647.7,162.4 1681.1,171.1 1549.5,231.1 1398.4,362 1522.5,268.2 1554.3,268.8 1534.4,275.3 1559.1,245.9 1495.9,286.6 1442.2,369.8 1378.9,417.1 1627.5,182.6 1378.9,404 1437.4,351.3 1530.2,277.3 1511.2,285 1543.1,261 1339.9,448.6 1510.2,311.3 1485.4,290.8 1603.1,223 1487.5,321.1 1369.1,441.6 1452,299.2 1398.4,396.5 1553.5,243.2 1540.2,244.5 1559.2,290.7 1442.2,338.5 1369.1,425 1335,462.1 1608,225.3 1515.3,281.3 1387.4,399.3 1359.4,435 1383.8,438.7 1681.1,164.1 1548.5,264.7 1417.9,356.6 1524.6,265.1 1543.2,245.8 1495.9,278.9 1539.6,264.7 1572.6,245.5 1632.3,147.8 1595.4,193.5 1393.5,355.3 1524.4,288.6 1413,360.2 1520.2,295.8 1520.2,270.2 1364.3,436.5 1403.2,369 1513.1,267.7 1569,224.6 1672.6,194.7 1562.5,258.9 1437.4,357.6 1518,297.7 1627.5,174.5 1413,409 1442.2,354.8 1512.2,295.5 1486.1,290.8 1447.1,349 1505.6,309.6 1553.2,263.7 1335,464.8 1562.7,224.6 1565.8,254.4 1569,226.1 1393.5,399.5 1467.6,305.7 1530,284.7 1676.2,141 1539.2,262.3 1432.5,365.1 1548.4,267.8 1550.1,271 1514.6,311.1 1529.1,244.7 1558.1,210.5 1578.7,221.6 1557.3,236.7 1569,217.3 1558.4,265.6 1466.6,311.2 1490.7,307.3 1495.9,297.1 1403.2,377.8 1432.5,334.8 1557.5,254 1515.3,279.5 1558.7,230.5 1559.2,225.5 1604,200.4 1569,275.9 1651.8,170.6 1476.4,317.9 1524.2,274.4 1569,254.9 1432.5,364.9 1573.8,254.4 1359.4,441.6 1575,259.3 1349.6,436.6 1656.7,170.3 1608,184.4 1452,343.7 1452,354.4 1519.3,291.4 1335,473 1656.7,184.7 1536.1,260.5 1413,367.9 1408.1,371.6 1519.3,263.9 1515.5,266.8 1501.4,289 1578.7,216.1 1588.5,219.1 1462.8,302.3 1461.7,341.2 1437.4,351.9 1456.9,330.4 1521.5,275.5 1588.2,223.1 1651.8,187.3 1627.5,199.8 1528.2,296.2 1521.6,272.4 1515,285.5 1452,333.5 1502.8,316.8 1568.7,262.9 1563.6,228.3 1466.6,342 1521.5,306.1 1495.9,272.4 1393.5,379.2 1476.4,316.6 1561.2,255 1592.3,247.1 1359.4,437.8 1422.7,339.6 1437.4,384.5 1676.2,132.8 1539.8,259.1 1556.9,254.6 1403.2,379.4 1510.5,282.1 1663.8,162 1456.9,344 1536,256.8 1519,286.3 1397.7,398.2 1617.7,151.3 1627.5,210.7 1520.3,283.5 1646.9,153.3 1534.4,273.9 1556.6,249.6 1501.8,312 1535,277.3 1364.3,419.9 1398.4,395.5 1335,433.9 1632.3,168.7 1500.7,279 1527.6,282.1 1574.7,228.6 1442.2,341.2 1578.7,220.4 1671.2,159.3 1511.6,299.6 1577.7,238.7 1575,220 1535,271.1 1529.4,273 1521,273.1 1671.3,173.1 1364.3,429.3 1551.8,273.7 1550.4,272.4 1573.8,229.7 1584.5,226.1 1456.9,326.4 1383.8,400.4 1339.9,457.3 1513.9,304.4 1646.9,174 1632.3,175.8 1499,290.2 1622.6,219.8 1554.3,265 1646.9,137.3 1509.7,294.6 1335,448.3 1427.6,340.2 1452,300.3 1364.3,424.6 1583.6,198.2 1608,176.5 1529.2,273.1 1505.1,280.1 1612.8,266.3 1517.9,278.2 1456.9,315.3 1552.4,259.4 1525.1,255.4 1417.9,355.7 1559.2,246.2 1534.8,281.7 1378.9,418.3 1359.4,442.7 1578.7,241.7 1536,282.5 1495.9,258.5 1515.3,280.7 1354.5,440.2 1569,231.7 1456.9,351.2 1642.1,145.1 1617.7,209.8 1427.6,334.9 1339.9,425.1 1539,278.3 1569,248.2 1506.6,339.5 1388.6,401.8 1608,222.6 1547.9,236.4 1651.8,187.3 1516.3,306.5 1661.6,148.2 1500.7,286.6 1533.9,277.9 1422.7,356.7 1553.3,288 1461.7,304.3 1520.6,259.1 1544.6,239.9 1517.7,306.2 1408.1,374.7 1632.3,169.5 1437.4,352.7 1608,202.9 1593.3,216.8 1374,433.6 1481.2,313.7 1555.5,252.3 1603.8,230.1 1656.7,193.2 1548.4,280.9 1422.7,360.3 1437.4,348.7 1422.7,348.5 1531,276.7 1538,255.3 1422.7,359.2 1452,332.4 1456.9,327.6 1500,295.1 1705.4,143.5 1544.4,260.5 1641.6,178.9 1388.6,412 1398.4,373.1 1622.6,182 1525.9,278.2 1514.1,291.9 1471.5,354.1 1549.5,262.5 1637.2,161.2 1456.9,348 1573.7,252.6 1505.6,273.2 1603.1,187.4 1539.7,253.9 1552.4,226.3 1417.9,374.1 1330.1,452.3 1476.4,285.5 1559.2,241.7 1541.1,244.9 1549.9,248.6 1528.4,262.9 1422.7,347.8 1644.7,220.3 1588.5,230.8 1510.6,289.2 1528.1,270.8 1545.4,261.5 1461.7,326 1515.3,303.8 1486.1,293.2 1388.6,405.4 1545.4,280.4 1427.6,370.5 1564.1,255.3 1593.3,231.1 1339.1,429.2 1564.1,262.1 1578.7,203.4 1486.1,314.2 1549.5,267 1388.6,397 1339.9,459.4 1398.4,386.6 1522.3,290.1 1583.6,215.2 1510.5,266.8 1656.7,183.1 1646.9,176.1 1408.1,375.2 1656.4,149.5 1359.4,413.4 1566.6,216 1461.7,344.1 1593.3,231.7 1525.1,321.4 1422.7,378.4 1525.3,257.6 1437.4,337.4 1515.3,279.4 1437.4,339 1545.3,260.8 1603.1,214.5 1515.3,290 1583.6,248.2 1570.7,242.8 1466.6,319.7 1564.1,257 1369.1,416.1 1488.4,313.1 1561,258.4 1539.7,282.3 1560.5,239.9 1388.6,394.2 1608,224.6 1559.2,244.5 1442.2,337.6 1642.1,180.8 1646.9,174.7 1398.4,383.7 1637.2,170.5 1525.6,280.5 1538.2,247.2 1549.7,256.5 1452,331.5 1554.2,255.5 1520.8,269.5 1335,449.3 1456.9,335.4 1612.8,194.6 1559.2,246.3 1671.3,191.8 1627.5,184.8 1520.2,256.9 1398.4,384 1330.1,447.6 1536,272.6 1588.5,214.6 1413,383.8 1498.6,291.5 1517.2,274.4 1685.9,152.8 1541,247.1 1401.6,392 1600,214.5 1339.9,458.2 1559.2,301.4 1466.6,313.1 1542,273.8 1471.5,311.1 1573.3,247.6 1530,276.8 1603.1,203.7 1550.2,246.2 1503.3,310.1 1525.3,307.8 1511.6,298.5 1330.1,446.4 1461.7,328.3 1528.4,284.5 1593.3,203.2 1408.1,393.6 1523.7,274.4 1505.6,319.4 1422.7,369.6 1632.3,152.4 1581.7,251.1 1551,259.8 1505.6,307.4 1432.5,332.6 1651.8,165.7 1452,317.3 1554.3,234.6 1560.7,233 1501.6,287.4 1515.3,301.3 1558.6,249.9 1598.2,218.4 1527.3,278.5 1359.4,431 1535.1,283.1 1661.6,136.1 1520.2,287.3 1539.7,308.2 1504.7,302.5 1461.7,335.4 1533.9,268.3 1335,455.3 1503.8,311.3 1561.2,247.8 1505.1,301.8 1517.6,297.9 1627.5,178.4 1573.8,230.6 1499.4,287.7 1378.9,431.3 1558.2,261 1369.1,414.1 1608,221.6 1491.1,309.7 1520.4,297 1559.6,242.3 1492.3,318.6 1539.7,268 1383.8,404 1525.1,280.5 1676.2,123 1520.9,263.1 1408.1,370.8 1499.2,302.1 1642.1,207.1 1527.7,253.8 1481.2,309.8 1533.6,283.1 1393.5,379.7 1456.9,332.3 1398.4,365.3 1676.2,142.2 1627.5,217.4 1364.3,403.3 1461.7,332 1563.5,228.2 1627.5,176.5 1477,310.4 1461.7,349.9 1559.2,241.6 1569,249.5 1510.5,318.2 1403.2,401.3 1524.5,287 1387.7,407.9 1471.5,318.8 1617.7,222.2 1515.4,260.8 1478.4,341.8 1502.1,294.4 1515.2,298.9 1506.6,299.2 1499.6,276.1 1632.3,163.9 1653,181.5 1526.3,290.9 1537.5,266.6 1335,444.5 1452,347.7 1554.3,231.9 1552.6,240 1456.9,327.7 1549.6,255.1 1369.1,439.3 1586.3,248.8 1354.5,430.4 1525.1,281.9 1534.8,255.4 1556.8,257.3 1495.9,316.3 1378.9,377.7 1551.6,277.5 1500.7,292.3 1369.1,406.2 1583.6,234.6 1598.2,220.7 1598.2,246.8 1495.9,285.5 1512,298.1 1349.6,448.4 1388.6,389.8 1530,282.4 1484.6,265.2 1637.2,191.7 1642.1,187.2 1515.4,285.8 1554.3,219.6 1593.3,231.8 1571.9,220.9 1534.3,280 1542,244.6 1520.2,281 1671.3,176.6 1525,274.9 1388.6,374.2 1369.1,416.7 1413,343.1 1505.6,302.2 1539.7,286.2 1525.9,260.4 1541,249.6 1508.7,289.7 1646.9,172.7 1635.3,175.1 1424,369.3 1566.9,245.6 1500.7,276.9 1493,303.3 1461.7,322.3 1603.1,222.1 1564.9,251.7 1335,435.5 1573,253 1413,378 1486.1,301.4 1417.9,368.1 1540.5,263.4 1393.5,387.4 1520.2,219.1 1559.2,225.5 1525.1,255 1413,391.3 1574,229.2 1513.6,293.5 1551.9,269 1403.2,377.3 1509.6,263.1 1535.6,270.2 1466.6,325.6 1564.1,282.8 1364.3,453 1544.6,220.7 1515.3,280.9 1378.9,417.2 1491,291.5 1573.8,217.9 1513.3,293.3 1422.7,345.4 1383.8,409.8 1588.5,224.4 1349.6,429.5 1510.5,341.3 1422.7,374 1539.7,269.7 1522.3,274.2 1554.8,265.7 1383.8,423.5 1524.3,271.5 1335,445.2 1545.6,247.4 1583.6,231.4 1534.8,292.9 1466.6,343.2 1612.8,209.1 1476.4,292.4 1531.7,285.1 1478.8,322.4 1491,329.6 1417.9,365.1 1605.8,214.7 1525.1,280.4 1374,422.5 1579,243.6 1553.6,256.4 1570.2,246.6 1530,283.9 1408.1,364.2 1690.8,185.1 1561.9,239.9 1471.5,333 1510.5,289.7 1447.1,313.6 1632.3,194.5 1525.1,254.8 1525.1,300.4 1598.2,228.2 1456.9,348.5 1525.1,276 1558.6,256 1398.4,355.4 1548.9,253.1 1522.9,277.3 1523.2,282.5 1408.1,386.5 1598.2,204.9 1573.8,237.6 1629.1,183.8 1515.3,319.4 1393.5,403 1586,248.1 1413,373.4 1598.2,237.4 1656.7,201.3 1651.8,154.8 1542.1,285.3 1565.6,254.9 1598.2,203.9 1583.6,246.8 1398.4,377.4 1447.1,342 1486.1,315.9 1374,417.4 1442.2,335.9 1593,212.5 1452,360.4 1427.6,364.9 1646.9,179.5 1466.6,316.9 1619.7,207.1 1558.6,250 1549.5,266.2 1516.1,309.6 1646.9,161.2 1339.9,456.8 1523.9,274.6 1544.6,257.9 1520.7,261.7 1515.3,284.8 1559.2,271.1 1559.2,271.9 1466.6,337.9 1378.9,394 1437.4,366.6 1583.5,242.5 1560.3,260.8 1544.6,248.4 1538.1,281.8 1422.7,353 1335,452 1417.9,347.6 1571.9,253.7 1536.2,273.7 1339.9,469.1 1556.9,233.7 1393.5,391.1 1552.7,277.8 1579.1,232.2 1437.4,367.3 1575.5,225.1 1627.5,185.2 1513.3,281.9 1388.6,401.7 1525.1,283.8 1549.5,258.7 1642.1,202.9 1681.9,154.6 1481.2,315.3 1484.7,311.3 1527.7,265.2 1522.4,300 1588.5,213.5 1504.2,284.9 1417.9,358.8 1580.7,257.5 1540.1,266.3 1447.1,340.7 1556.6,256.6 1481.2,291.1 1486.1,306.2 1388.6,384.7 1664.3,155 1339.9,464.1 1534.5,294.7 1520.2,251.4 1393.5,419.9 1471.5,330.8 1588.5,228 1335,469.6 1564.7,261.7 1564.1,212.8 1537.6,269.9 1552.7,251.8 1513.7,306.4 1452,335.4 1408.1,377.1 1637.2,212.2 1549.5,283.3 1632.3,180.3 1447.1,332.6 1408.1,402.9 1413,373.7 1413,373 1495.9,290.3 1539.7,227.6 1383.8,392.9 1393.5,399.5 1398.4,394.6 1598.2,195.6 1532.2,288.3 1608,177 1598.2,240.2 1661.6,192.2 1539.9,265.7 1476.4,293.4 1575.9,239.5 1566.8,233.5 1586.7,220.7 1603.1,209.6 1568.2,244.3 1403.2,377.7 1461.7,338.3 1544.6,252 1383.8,396.2 1500.7,273.4 1593.3,258 1563.3,229.2 1466.6,326.8 1566.6,271.7 1432.5,353.2 1500.7,317.4 1557.3,257.6 1437.5,322.4 1666.4,171.8 1417.9,367.3 1374,402.2 1532.4,276.3 1335,430.4 1622.6,211.9 1471.5,306.3 1522.5,267 1547.4,254.9 1447.1,317.2 1486.1,290.2 1413,365.2 1510.8,288.7 1565.1,287.7 1349.6,458 1335,462.9 1378.9,398 1452,355.7 1547.9,261.2 1499.1,297.4 1558.8,246.4 1612.8,229.2 1549.3,249.4 1506.7,302.7 1540,272.9 1562.9,244.1 1534.2,285.9 1466.6,328.5 1567.5,240.9 1354.5,423.5 1544.6,274.1 1519,280.6 1637.2,180 1535.6,270.5 1569,199.1 1568.6,265.3 1442.2,344.5 1432.5,359.4 1558.9,228.3 1666.4,149 1534.8,276.8 1546,281.1 1349.6,451.5 1539.7,242.3 1598.2,264 1481.2,329 1422.7,339.9 1486.4,327.3 1374,411.9 1612.8,207.9 1354.5,456.3 1529.1,273.2 1432.5,352.2 1388.6,386.6 1542.5,236.1 1369.1,395.9 1349.6,429.3 1506.5,280 1505.6,303.5 1491,306.7 1534.8,267.1 1583.6,199.6 1564.5,264.2 1417.9,355.7 1393.5,400.7 1505.6,313.4 1537.7,273.8 1520.2,260 1614.1,176.3 1656.7,198.5 1550.1,250 1447.1,336.9 1495.9,320.6 1500.7,286.3 1641.6,176.1 1491,313.6 1553.4,257.5 1637.2,187.8 1556.3,242.4 1541.5,263.7 1378.9,416.5 1551.9,282.3 1515.3,277.4 1506.8,301.4 1539.7,243.3 1710.3,144.6 1364.3,413.4 1695.7,170 1529.9,279.3 1496.6,281.9 1603.1,208.4 1515.3,277.7 1471.5,321.9 1558.3,277.8 1550.6,261.9 1554.6,274.9 1447.1,356.3 1559.2,254.3 1522.7,279 1581.8,272.3 1569,243.5 1427.6,343.6 1517.5,283.3 1330.1,460.9 1566.6,243.4 1515.3,269.1 1564.1,243 1486.1,337.1 1559.2,266.8 1538.2,267.5 1339.9,456 1566.6,237.4 1639.1,207 1588.5,236.7 1566.9,261.1 1534.8,267.4 1564.1,261.6 1495.9,294.6 1549.5,222.1 1452,340.2 1612.8,200.2 1408.8,376.9 1427.6,392.1 1359.4,433.7 1530,251 1627.5,165.5 1530,258.4 1508,290.3 1583.6,256 1517.8,276.3 1632.3,177.5 1491,317.2 1477.9,319.5 1476.4,311.1 1577.8,236.5 1466.6,348.4 1383.8,428.6 1608,212.9 1626.2,204.5 1666.4,185.6 1596.4,245.9 1520.2,275.4 1569.1,244 1422.7,332 1490.8,284.7 1500.2,278.9 1427.6,361 1374,407 1596.6,233.7 1364.3,423.3 1555.8,255.6 1651.8,162.2 1676.2,160.3 1557.7,248.7 1339.9,438.1 1515.4,284.5 1578,257.4 1466.6,289.1 1572.4,249.1 1534.8,223.6 1369.1,423.6 1427.6,352.4 1573.8,236.4 1422.7,335.5 1615.1,200.2 1452,340 1525.1,276.6 1646.9,168.7 1383.8,411.6 1510.5,281.9 1525.8,279.3 1554.3,243.1 1408.1,381.4 1601,210.3 1567.2,262.5 1491,331.9 1344.8,416.5 1481.8,321.9 1525.1,258 1554.3,257.1 1573.8,214.2 1598.2,205.3 1530.5,265.2 1627.5,182.6 1603.1,238.7 1374,413.1 1570.8,247.6 1413,391.1 1695.7,151.2 1349.6,450.1 1447.1,329.5 1573,252.6 1679,135.3 1612.8,214.4 1530.5,263.6 1434.6,362.5 1562.1,248.1 1491.9,306.3 1447.1,336.3 1544.8,271 1330.1,453.1 1421.8,375.3 1511.8,328.6 1516,295.1 1447.1,384.8 1447.1,347.2 1580.4,236.4 1539.6,272.8 1555.2,277.9 1515.3,261.4 1639.5,201.2 1447.1,349.9 1656.7,213.4 1554.9,250 1598.9,221 1554.3,234.6 1488,302.7 1364.3,412.7 1545.4,287.2 1447.1,362.5 1369.1,387.5 1543.6,258 1690.8,136.2 1403.2,399.3 1677.5,189.3 1551.3,251.8 1364.3,422.6 1447.1,352.5 1452,341.2 1456.9,325.2 1642.1,150.1 1538.2,252.2 1535.1,241.1 1528.7,305.1 1584.1,189 1544.6,278.2 1427.6,376.5 1413,364.2 1349.6,435 1617.7,202.3 1490,290.4 1417.9,350.9 1510.5,304.8 1536.4,247.2 1599.3,226.4 1536.4,269.5 1549.6,242.8 1528.3,265.6 1637.2,205.8 1481.2,315.9 1452,356.5 1489.2,303.1 1342,445.9 1374,438.8 1354.5,451.2 1486.1,303.2 1515,282.3 1364.3,436.5 1627.5,186.1 1471.5,306.1 1588.5,195.7 1535.8,282.7 1364.3,416.7 1432.5,357.4 1549.3,250.9 1530,302.3 1535.1,262.9 1647.2,178.3 1339.9,438.9 1456.9,338.2 1695.7,143.7 1545.3,289.1 1549.4,259 1551.6,236.7 1364.3,399 1565.8,242.2 1622.6,158.5 1553.4,258.4 1486.1,293.5 1534.8,255.6 1471.5,309.7 1510.5,282.7 1535.4,266.5 1383.8,414.5 1437.4,348.7 1549.5,291.1 1442.2,352.1 1627.5,185.1 1612.8,228.5 1525.9,317.5 1564.1,242.4 1594.9,231.7 1486.1,289.1 1568.2,210.7 1530,264.1 1408.1,373.1 1374,410.8 1403.2,390.4 1477.6,299 1530,270 1452,361.5 1349.6,450.3 1530.9,258.9 1593.3,184 1539.7,265.3 1700.6,163 1432.5,347.2 1413,373.8 1447.1,337.3 1546.9,264.6 1520.2,229.6 1484.2,298.3 1554.3,239.5 1656.7,165.3 1525.1,237.1 1383.8,399.7 1597.2,215.3 1364.3,462.7 1471.5,290.1 1369.1,420 1629.6,177.9 1354.5,444.8 1595.4,220.5 1541.5,264.6 1398.4,353.5 1559.2,212.7 1586.4,213.1 1388.6,399.1 1554.3,221.4 1608,189.8 1359.4,451.8 1516.4,296.3 1505.6,262.4 1567.9,250.1 1540,247.7 1476.4,315.1 1514.8,277.6 1656.7,153.8 1466.6,341.9 1496.6,264.3 1552.1,238.2 1549.6,265.2 1548.9,273.4 1524.5,286.6 1349.6,435.7 1573.5,241.6 1583.8,266.2 1579.9,251 1666.4,138.6 1573.8,206.1 1354.5,438.6 1437.4,354.2 1335,447.7 1403.2,359.6 1676.2,137.6 1536.6,263.5 1403.2,365.2 1507.6,320.3 1578.7,261.9 1456.9,316.4 1543,267.2 1661.6,150.2 1583.6,232.6 1594.3,228.2 1398.4,378.8 1374,391.4 1335,446.5 1369.1,419.8 1548.4,256 1547.9,271.9 1627.5,172.3 1531.4,259.4 1507.2,317.5 1354.5,420.8 1491,363.2 1617.7,211.8 1422.7,370.1 1364.3,416.2 1364.3,454.9 1583.6,206.1 1569,218.8 1531.1,272.3 1398.4,352.7 1364.3,413.4 1498.6,292.5 1608.9,214.6 1349.6,420.9 1612.8,233.3 1461.7,312.4 1501.2,294.3 1491,318.9 1442.2,321.2 1539.7,275.3 1525.1,222.7 1432.5,379.7 1422.7,356.5 1393.5,391.1 1530,276.6 1378.9,395 1398.4,391.5 1678.6,153.2 1548.4,285.9 1452,331.2 1569.8,241.1 1609.5,184.2 1549.5,243.8 1520.2,265 1476.4,302.8 1525.2,284.7 1617.7,221 1456.9,327.9 1555.3,254.3 1541.4,262.7 1617.7,221.2 1339.9,423.1 1539.7,248.1 1485,292.7 1354.5,412.7 1617.7,186.4 1570.7,250.5 1517.2,282.8 1522.6,274.1 1522.5,271.3 1612.8,218.4 1497.5,287.1 1539.7,275.2 1485.2,324.9 1398.4,404.3 1335,449.8 1546.1,252.4 1422.7,393.7 1565.3,241.9 1642.1,182.9 1544.4,269.7 1456.9,353.5 1564.8,250.6 1515.3,241.2 1578.7,267.3 1637.2,212.2 1330.1,442 1447.9,348.1 1507.5,303.6 1560.8,253.1 1520.2,257 1476.4,295.2 1378.9,383 1374,398 1369.1,423.6 1526.2,262.3 1532.5,270.8 1528.5,278.4 1378.9,390.8 1481.2,310.3 1603.1,207.4 1515.3,293.2 1647.5,167 1364.3,429.6 1567.3,266.8 1537.7,259.8 1539.7,250.2 1584.1,226.3 1369.1,456 1525.8,298.3 1408.1,376.2 1393.5,378.5 1442.2,361.5 1577.8,226.6 1408.1,362.4 1535.2,284.6 1617.7,211.6 1452,337.4 1537.6,280.7 1354.5,426.9 1520.2,295.8 1364.3,423.4 1543.9,259.1 1530.8,281.2 1637.2,150.1 1491,308.4 1388.6,414 1508.9,286.5 1530,269 1564.3,253.9 1359.4,396.9 1510.7,289.1 1601.3,208.9 1374,419.8 1408.1,365.4 1527.9,293.9 1515.3,296.2 1374,415.9 1512.1,254.2 1573.8,228.4 1481.2,282.1 1491,301.4 1515.7,257.6 1546.4,292.7 1374,422.2 1627.5,179 1578.6,240 1335,453.7 1452,330.7 1561.5,261.2 1681.1,146.2 1525.1,270.7 1398.4,397.3 1527.2,270.8 1456.9,313.3 1608,246.1 1495.6,280.1 1442.2,360.7 1466.6,330.1 1603.1,200.8 1476.4,326.7 1537,264.4 1383.8,408 1651.8,207.4 1364.3,411 1588.5,240.9 1562,237.9 1671.3,154.6 1563.3,250.8 1551.4,267.9 1646.9,166.7 1521.8,274.6 1526.5,287 1491,310.4 1383.8,383.9 1383.8,411.7 1393.5,367.6 1559.8,240.7 1481.2,319.5 1556.9,253.4 1523,261.8 1526,298.8 1505.6,284 1553.3,242.6 1437.4,356 1510.5,299.3 1593.3,217.6 1408.1,353.9 1437.4,332 1571.3,252.1 1522.7,281.2 1646.9,173.6 1408.1,356.5 1644.3,183 1564.1,214.7 1435.1,335.5 1593.3,225.9 1335,462.3 1632.3,189 1359.4,431.5 1413,376.7 1502.3,315 1393.5,378.1 1422.7,359.6 1566.9,248.2 1354.5,422.4 1559.2,210.5 1520.2,263.6 1403.2,410.9 1486.1,304 1535.9,267.2 1509,286.5 1627.8,212.5 1515.3,224.6 1617.7,197.3 1623.9,199.7 1261.9,382.9 1261.9,423.7 1680.1,47.9 1738.6,91.6 1743.9,129 1617.2,96 1631.3,112 1583.6,140.7 1490,182.4 1517.8,180.5 1455.4,214 1466.1,238.2 1622.6,340.2 1553.9,376.6 1724.9,143.1 1696.2,214 1678.6,222.2"/>
<path class="ln" d="M1261.9 519.1 L1744.4 63.5"/>
<rect class="fr" x="1237.7" y="25.3" width="530.9" height="516.9"/>
<text class="t tick" text-anchor="middle" x="1261.9" y="559.4">0</text>
<text class="t tick" text-anchor="middle" x="1359.4" y="559.4">20</text>
<text class="t tick" text-anchor="middle" x="1456.9" y="559.4">40</text>
<text class="t tick" text-anchor="middle" x="1554.3" y="559.4">60</text>
<text class="t tick" text-anchor="middle" x="1651.8" y="559.4">80</text>
<text class="t tick" text-anchor="middle" x="1749.3" y="559.4">100</text>
<text class="t tick" text-anchor="end" x="1231.1" y="535.5">0</text>
<text class="t tick" text-anchor="end" x="1231.1" y="438.4">20</text>
<text class="t tick" text-anchor="end" x="1231.1" y="341.3">40</text>
<text class="t tick" text-anchor="end" x="1231.1" y="244.2">60</text>
<text class="t tick" text-anchor="end" x="1231.1" y="147.1">80</text>
<text class="t tick" text-anchor="end" x="1231.1" y="50.0">100</text>
<text class="t lab" text-anchor="middle" x="1503.2" y="576.7">Chronological Age (y)</text>
<text class="t lab" text-anchor="middle" transform="translate(1199.6 284.1) rotate(-90)">Epigenetic Age (y)</text>
<path class="ll" d="M1248.7 42.5 H1273.8"/>
<text class="t leg" x="1283.6" y="47.1">Full LM</text>
<text class="t leg m" x="1334.8" y="47.1" xml:space="preserve"><tspan class="i">f</tspan>(<tspan class="i">x</tspan>) = 0.948<tspan class="i">x</tspan> + 2.443,<tspan dx="2.9" class="i">R</tspan><tspan class="sup" dy="-4.6" dx="1.0">2</tspan><tspan dy="4.6" dx="0.9"> = 0.931</tspan></text>
<text class="pl" transform="translate(1187.30 29.8) scale(0.957 1)">C</text>
</g>
</svg>
</body></html>
